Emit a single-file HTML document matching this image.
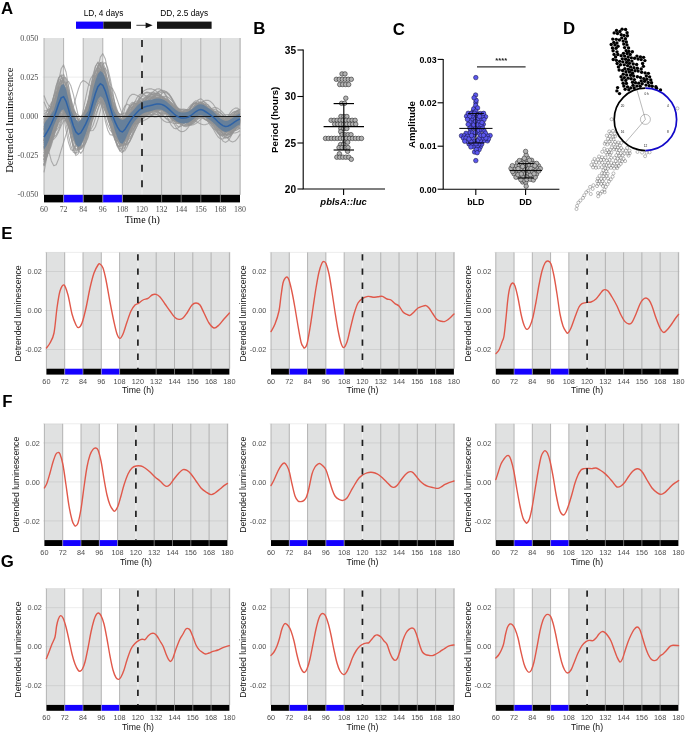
<!DOCTYPE html>
<html><head><meta charset="utf-8"><title>Figure</title>
<style>html,body{margin:0;padding:0;background:#fff}svg{display:block}</style></head>
<body>
<svg width="685" height="732" viewBox="0 0 685 732">
<rect width="685" height="732" fill="#fff"/>
<text x="1" y="13.7" font-size="16.8" text-anchor="start" font-weight="bold" font-family="Liberation Sans, Arial, sans-serif" fill="#000">A</text>
<text x="253.3" y="34.2" font-size="16.8" text-anchor="start" font-weight="bold" font-family="Liberation Sans, Arial, sans-serif" fill="#000">B</text>
<text x="392.8" y="34.6" font-size="16.8" text-anchor="start" font-weight="bold" font-family="Liberation Sans, Arial, sans-serif" fill="#000">C</text>
<text x="562.9" y="34.4" font-size="16.8" text-anchor="start" font-weight="bold" font-family="Liberation Sans, Arial, sans-serif" fill="#000">D</text>
<text x="1.2" y="238.5" font-size="16.8" text-anchor="start" font-weight="bold" font-family="Liberation Sans, Arial, sans-serif" fill="#000">E</text>
<text x="2.2" y="407" font-size="16.8" text-anchor="start" font-weight="bold" font-family="Liberation Sans, Arial, sans-serif" fill="#000">F</text>
<text x="0.7" y="566.8" font-size="16.8" text-anchor="start" font-weight="bold" font-family="Liberation Sans, Arial, sans-serif" fill="#000">G</text>
<rect x="76" y="21.6" width="27.4" height="7.2" fill="#1400ff"/>
<rect x="103.4" y="21.6" width="27.6" height="7.2" fill="#161616"/>
<rect x="157" y="21.6" width="54.6" height="7.2" fill="#161616"/>
<line x1="136.4" x2="147" y1="25.3" y2="25.3" stroke="#111" stroke-width="0.8"/>
<path d="M145.6 22.4 L152.6 25.3 L145.6 28.2 Z" fill="#111"/>
<text x="103.5" y="16" font-size="8.3" text-anchor="middle" font-family="Liberation Sans, Arial, sans-serif" fill="#000">LD, 4 days</text>
<text x="184.2" y="16" font-size="8.3" text-anchor="middle" font-family="Liberation Sans, Arial, sans-serif" fill="#000">DD, 2.5 days</text>
<rect x="44" y="38" width="19.6" height="156.8" fill="#e0e1e1"/>
<rect x="83.2" y="38" width="19.6" height="156.8" fill="#e0e1e1"/>
<rect x="122.4" y="38" width="118.6" height="156.8" fill="#e0e1e1"/>
<line x1="42.6" x2="241" y1="77.1" y2="77.1" stroke="#000" stroke-opacity="0.075" stroke-width="1"/>
<line x1="42.6" x2="241" y1="155.3" y2="155.3" stroke="#000" stroke-opacity="0.075" stroke-width="1"/>
<line x1="44" x2="44" y1="38" y2="194.8" stroke="#adadad" stroke-width="0.9"/>
<line x1="63.6" x2="63.6" y1="38" y2="194.8" stroke="#adadad" stroke-width="0.9"/>
<line x1="83.2" x2="83.2" y1="38" y2="194.8" stroke="#adadad" stroke-width="0.9"/>
<line x1="102.8" x2="102.8" y1="38" y2="194.8" stroke="#adadad" stroke-width="0.9"/>
<line x1="122.4" x2="122.4" y1="38" y2="194.8" stroke="#adadad" stroke-width="0.9"/>
<line x1="142" x2="142" y1="38" y2="194.8" stroke="#efefef" stroke-width="1"/>
<line x1="161.6" x2="161.6" y1="38" y2="194.8" stroke="#adadad" stroke-width="0.9"/>
<line x1="181.2" x2="181.2" y1="38" y2="194.8" stroke="#adadad" stroke-width="0.9"/>
<line x1="200.8" x2="200.8" y1="38" y2="194.8" stroke="#adadad" stroke-width="0.9"/>
<line x1="220.4" x2="220.4" y1="38" y2="194.8" stroke="#adadad" stroke-width="0.9"/>
<line x1="240" x2="240" y1="38" y2="194.8" stroke="#adadad" stroke-width="0.9"/>
<rect x="44" y="194.8" width="19.6" height="7.6" fill="#000"/>
<rect x="63.6" y="194.8" width="19.6" height="7.6" fill="#1400ff"/>
<rect x="83.2" y="194.8" width="19.6" height="7.6" fill="#000"/>
<rect x="102.8" y="194.8" width="19.6" height="7.6" fill="#1400ff"/>
<rect x="122.4" y="194.8" width="117.6" height="7.6" fill="#000"/>
<line x1="63.6" x2="63.6" y1="194.8" y2="202.4" stroke="#c8c8c8" stroke-width="0.55"/>
<line x1="83.2" x2="83.2" y1="194.8" y2="202.4" stroke="#c8c8c8" stroke-width="0.55"/>
<line x1="102.8" x2="102.8" y1="194.8" y2="202.4" stroke="#c8c8c8" stroke-width="0.55"/>
<line x1="122.4" x2="122.4" y1="194.8" y2="202.4" stroke="#c8c8c8" stroke-width="0.55"/>
<line x1="161.6" x2="161.6" y1="194.8" y2="202.4" stroke="#c8c8c8" stroke-width="0.55"/>
<line x1="181.2" x2="181.2" y1="194.8" y2="202.4" stroke="#c8c8c8" stroke-width="0.55"/>
<line x1="200.8" x2="200.8" y1="194.8" y2="202.4" stroke="#c8c8c8" stroke-width="0.55"/>
<line x1="220.4" x2="220.4" y1="194.8" y2="202.4" stroke="#c8c8c8" stroke-width="0.55"/>
<g fill="none" stroke="#949494" stroke-width="1.1" stroke-opacity="0.72" stroke-linejoin="round">
<polyline points="44,138.41 46.45,131.2 48.9,125.27 51.35,120.48 53.8,116.29 56.25,111.79 58.7,106.77 61.15,102.02 63.6,99.9 66.05,102.35 68.5,107.38 70.95,113.2 73.4,118.96 75.85,124 78.3,127.58 80.75,129.02 83.2,128.99 85.65,128.96 88.1,127.78 90.55,123.31 93,115.14 95.45,104.78 97.9,94.25 100.35,85.66 102.8,81.32 105.25,82.01 107.7,86.98 110.15,95.11 112.6,105.13 115.05,115.41 117.5,124.81 119.95,132.45 122.4,136.45 124.85,135.34 127.3,130.55 129.75,124.52 132.2,118.6 134.65,113.51 137.1,109.78 139.55,107.62 142,106.92 144.45,107.37 146.9,108.3 149.35,108.94 151.8,108.63 154.25,107.18 156.7,104.92 159.15,102.44 161.6,100.49 164.05,99.73 166.5,100.53 168.95,103.03 171.4,107.01 173.85,111.8 176.3,116.49 178.75,120.15 181.2,122.18 183.65,122.41 186.1,120.98 188.55,118.16 191,114.33 193.45,110.2 195.9,106.87 198.35,105.27 200.8,105.86 203.25,108.63 205.7,112.71 208.15,116.82 210.6,120.15 213.05,122.56 215.5,124.06 217.95,124.66 220.4,124.58 222.85,124.07 225.3,123.3 227.75,122.33 230.2,121.52 232.65,121.06 235.1,120.92 237.55,120.93 240,120.96"/>
<polyline points="44,143 46.45,138.83 48.9,134.31 51.35,129.13 53.8,123.02 56.25,116.09 58.7,109.36 61.15,104.71 63.6,104.48 66.05,107.97 68.5,113.02 70.95,118.22 73.4,122.39 75.85,124.49 78.3,123.79 80.75,120.45 83.2,116.31 85.65,112.04 88.1,106.82 90.55,100.3 93,93.67 95.45,88.31 97.9,85.35 100.35,85.8 102.8,89.98 105.25,96.74 107.7,104.75 110.15,112.95 112.6,120.4 115.05,126.58 117.5,131.56 119.95,134.86 122.4,135.34 124.85,133.35 127.3,130.41 129.75,127.32 132.2,124.09 134.65,120.71 137.1,117.36 139.55,114.29 142,111.73 144.45,109.73 146.9,108.07 149.35,106.49 151.8,104.84 154.25,103.3 156.7,102.09 159.15,101.44 161.6,101.5 164.05,102.26 166.5,103.64 168.95,105.57 171.4,107.79 173.85,110.01 176.3,111.91 178.75,113.29 181.2,114.2 183.65,114.72 186.1,114.85 188.55,114.43 191,113.38 193.45,112.07 195.9,111.04 198.35,110.74 200.8,111.48 203.25,113.19 205.7,115.27 208.15,117.32 210.6,119.44 213.05,121.8 215.5,124.27 217.95,126.6 220.4,128.52 222.85,129.68 225.3,129.73 227.75,128.7 230.2,126.94 232.65,124.77 235.1,122.54 237.55,120.6 240,119.29"/>
<polyline points="44,118.56 46.45,120.32 48.9,121.53 51.35,121.55 53.8,119.94 56.25,116.6 58.7,112.22 61.15,108.2 63.6,106.68 66.05,108.89 68.5,113.79 70.95,120.15 73.4,126.73 75.85,132.16 78.3,135.09 80.75,134.55 83.2,130.88 85.65,125.13 88.1,117.46 90.55,108.08 93,98.26 95.45,89.85 97.9,84.45 100.35,83.12 102.8,86.39 105.25,93.45 107.7,102.69 110.15,112.42 112.6,121.21 115.05,127.93 117.5,132.27 119.95,134.34 122.4,133.91 124.85,131.12 127.3,127.32 129.75,123.78 132.2,120.81 134.65,118.22 137.1,115.77 139.55,113.33 142,110.88 144.45,108.51 146.9,106.18 149.35,103.91 151.8,101.77 154.25,100.11 156.7,99.35 159.15,99.82 161.6,101.62 164.05,104.53 166.5,108.12 168.95,111.89 171.4,115.32 173.85,117.91 176.3,119.38 178.75,119.65 181.2,119.04 183.65,118.05 186.1,117.15 188.55,116.52 191,116.12 193.45,115.88 195.9,115.9 198.35,116.16 200.8,116.53 203.25,116.85 205.7,116.67 208.15,115.62 210.6,113.99 213.05,112.45 215.5,111.61 217.95,111.76 220.4,113.02 222.85,115.19 225.3,117.77 227.75,120.19 230.2,122.2 232.65,123.58 235.1,124.24 237.55,124.27 240,123.95"/>
<polyline points="44,130.89 46.45,129.79 48.9,128.06 51.35,125.38 53.8,121.47 56.25,116.18 58.7,110.34 61.15,105.55 63.6,104.56 66.05,108.26 68.5,114.36 70.95,121.05 73.4,127 75.85,131.01 78.3,132.14 80.75,129.96 83.2,125.94 85.65,121.69 88.1,116.62 90.55,109.88 93,102.16 95.45,95.01 97.9,89.76 100.35,87.54 102.8,89.2 105.25,94.01 107.7,100.52 110.15,107.5 112.6,113.97 115.05,119.16 117.5,123.12 119.95,125.83 122.4,126.23 124.85,123.96 127.3,120.58 129.75,117.55 132.2,115.02 134.65,112.93 137.1,111.21 139.55,109.94 142,109.21 144.45,109.05 146.9,109.25 149.35,109.54 151.8,109.65 154.25,109.57 156.7,109.47 159.15,109.51 161.6,109.84 164.05,110.48 166.5,111.34 168.95,112.38 171.4,113.46 173.85,114.34 176.3,114.79 178.75,114.63 181.2,113.91 183.65,112.83 186.1,111.53 188.55,109.99 191,108.12 193.45,106.16 195.9,104.67 198.35,104.14 200.8,104.91 203.25,107.1 205.7,110.19 208.15,113.57 210.6,117.1 213.05,120.86 215.5,124.74 217.95,128.44 220.4,131.62 222.85,133.9 225.3,134.85 227.75,134.3 230.2,132.51 232.65,129.83 235.1,126.64 237.55,123.34 240,120.34"/>
<polyline points="44,150.21 46.45,142.91 48.9,135.74 51.35,128.58 53.8,121.3 56.25,114.04 58.7,107.71 61.15,103.87 63.6,104.64 66.05,109.38 68.5,115.8 70.95,122.29 73.4,127.5 75.85,130.3 78.3,129.89 80.75,126.32 83.2,121.34 85.65,115.93 88.1,109.56 90.55,102.05 93,94.59 95.45,88.62 97.9,85.26 100.35,85.42 102.8,89.41 105.25,96.06 107.7,103.94 110.15,111.87 112.6,118.86 115.05,124.3 117.5,128.27 119.95,130.51 122.4,130.11 124.85,127.45 127.3,124.15 129.75,121.21 132.2,118.72 134.65,116.59 137.1,114.84 139.55,113.5 142,112.66 144.45,112.26 146.9,111.98 149.35,111.46 151.8,110.43 154.25,109.01 156.7,107.42 159.15,105.96 161.6,104.9 164.05,104.37 166.5,104.47 168.95,105.23 171.4,106.56 173.85,108.2 176.3,109.84 178.75,111.22 181.2,112.31 183.65,113.1 186.1,113.47 188.55,113.19 191,112.07 193.45,110.45 195.9,108.92 198.35,108.01 200.8,108.17 203.25,109.5 205.7,111.5 208.15,113.81 210.6,116.54 213.05,119.87 215.5,123.62 217.95,127.42 220.4,130.86 222.85,133.41 225.3,134.55 227.75,134.16 230.2,132.5 232.65,129.92 235.1,126.82 237.55,123.65 240,120.93"/>
<polyline points="44,123.21 46.45,120.95 48.9,119.01 51.35,116.68 53.8,113.38 56.25,109.17 58.7,105.15 61.15,103.56 63.6,106.8 66.05,113.64 68.5,121.88 70.95,129.99 73.4,136.64 75.85,140.56 78.3,140.82 80.75,137.69 83.2,133.07 85.65,127.29 88.1,119.44 90.55,109.51 93,99.17 95.45,90.29 97.9,84.42 100.35,83 102.8,86.4 105.25,93.38 107.7,102.45 110.15,112.25 112.6,121.41 115.05,129.02 117.5,134.71 119.95,137.4 122.4,135.7 124.85,130.34 127.3,123.28 129.75,115.78 132.2,108.52 134.65,102.2 137.1,97.44 139.55,94.58 142,93.74 144.45,94.72 146.9,97.12 149.35,100.44 151.8,104.23 154.25,108.24 156.7,112.19 159.15,115.81 161.6,118.84 164.05,121.01 166.5,122.18 168.95,122.38 171.4,121.66 173.85,120.15 176.3,118.01 178.75,115.58 181.2,113.33 183.65,111.62 186.1,110.56 188.55,109.98 191,109.66 193.45,109.73 195.9,110.34 198.35,111.55 200.8,113.34 203.25,115.32 205.7,116.86 208.15,117.64 210.6,117.97 213.05,118.19 215.5,118.43 217.95,118.72 220.4,119.02 222.85,119.16 225.3,118.89 227.75,118.29 230.2,117.6 232.65,117 235.1,116.64 237.55,116.7 240,117.4"/>
<polyline points="44,131.35 46.45,128.19 48.9,124.19 51.35,119.06 53.8,112.65 56.25,105.76 58.7,100.04 61.15,98.39 63.6,101.98 66.05,108.43 68.5,115.77 70.95,122.54 73.4,127.48 75.85,129.52 78.3,128.12 80.75,124.7 83.2,121.04 85.65,116.58 88.1,110.34 90.55,102.95 93,96 95.45,90.91 97.9,88.86 100.35,90.81 102.8,96.07 105.25,103.12 107.7,110.62 110.15,117.55 112.6,123.05 115.05,127.12 117.5,129.8 119.95,130.02 122.4,127.29 124.85,123.21 127.3,119.41 129.75,116.15 132.2,113.4 134.65,111.12 137.1,109.37 139.55,108.19 142,107.59 144.45,107.34 146.9,107.2 149.35,106.9 151.8,106.48 154.25,106.1 156.7,105.96 159.15,106.24 161.6,106.98 164.05,108.12 166.5,109.64 168.95,111.4 171.4,113.16 173.85,114.67 176.3,115.71 178.75,116.26 181.2,116.43 183.65,116.31 186.1,115.79 188.55,114.75 191,113.31 193.45,111.95 195.9,111.12 198.35,111.14 200.8,112.15 203.25,113.75 205.7,115.38 208.15,116.96 210.6,118.67 213.05,120.53 215.5,122.36 217.95,123.95 220.4,125.04 222.85,125.31 225.3,124.61 227.75,123.23 230.2,121.48 232.65,119.71 235.1,118.22 237.55,117.33 240,117.32"/>
<polyline points="44,139.04 46.45,133.9 48.9,128.71 51.35,123.17 53.8,116.99 56.25,109.91 58.7,102.48 61.15,96.22 63.6,93.96 66.05,97.89 68.5,105.79 70.95,115.12 73.4,124.1 75.85,131.19 78.3,135.04 80.75,134.79 83.2,131.36 85.65,127.03 88.1,121.78 90.55,114.49 93,105.4 95.45,96.28 97.9,88.9 100.35,84.68 102.8,84.91 105.25,89.42 107.7,96.64 110.15,105.01 112.6,113.35 115.05,120.56 117.5,126.36 119.95,130.85 122.4,133.01 124.85,131.68 127.3,128.08 129.75,124.08 132.2,120.24 134.65,116.49 137.1,112.84 139.55,109.5 142,106.71 144.45,104.66 146.9,103.23 149.35,102.15 151.8,101.11 154.25,100.05 156.7,99.25 159.15,98.98 161.6,99.5 164.05,100.91 166.5,103.11 168.95,105.97 171.4,109.31 173.85,112.75 176.3,115.85 178.75,118.22 181.2,119.69 183.65,120.35 186.1,120.31 188.55,119.5 191,117.76 193.45,115.13 195.9,112.29 198.35,109.95 200.8,108.66 203.25,108.81 205.7,110.07 208.15,111.74 210.6,113.54 213.05,115.72 215.5,118.42 217.95,121.37 220.4,124.27 222.85,126.72 225.3,128.22 227.75,128.38 230.2,127.41 232.65,125.69 235.1,123.62 237.55,121.61 240,120.06"/>
<polyline points="44,164.61 46.45,155.84 48.9,147.35 51.35,138.46 53.8,128.55 56.25,117.03 58.7,104.35 61.15,92.78 63.6,86.53 66.05,90.16 68.5,101.2 70.95,115.15 73.4,129 75.85,140.21 78.3,146.53 80.75,146.4 83.2,140.57 85.65,132.94 88.1,124.33 90.55,112.89 93,98.26 95.45,83.16 97.9,70.53 100.35,62.76 102.8,62 105.25,68.65 107.7,80.17 110.15,93.91 112.6,107.76 115.05,119.87 117.5,129.41 119.95,136.62 122.4,140.25 124.85,138.34 127.3,132.49 129.75,126.14 132.2,120.82 134.65,116.6 137.1,113.45 139.55,111.31 142,110.02 144.45,109.4 146.9,109.18 149.35,109.08 151.8,108.87 154.25,108.48 156.7,108.07 159.15,107.8 161.6,107.87 164.05,108.35 166.5,109.21 168.95,110.41 171.4,111.88 173.85,113.42 176.3,114.81 178.75,115.83 181.2,116.36 183.65,116.48 186.1,116.27 188.55,115.73 191,114.77 193.45,113.36 195.9,111.84 198.35,110.67 200.8,110.15 203.25,110.55 205.7,111.73 208.15,113.24 210.6,114.8 213.05,116.52 215.5,118.49 217.95,120.59 220.4,122.6 222.85,124.3 225.3,125.4 227.75,125.63 230.2,125.06 232.65,123.93 235.1,122.5 237.55,121.02 240,119.75"/>
<polyline points="44,140.6 46.45,130.36 48.9,121.85 51.35,114.83 53.8,108.86 56.25,104.05 58.7,101.42 61.15,103.17 63.6,111.36 66.05,123.36 68.5,135.69 70.95,145.97 73.4,152.33 75.85,153.37 78.3,148.38 80.75,138.53 83.2,126.99 85.65,114.81 88.1,101.45 90.55,87.42 93,74.97 95.45,66.25 97.9,62.77 100.35,65.75 102.8,74.88 105.25,87.95 107.7,102.63 110.15,116.99 112.6,129.26 115.05,138.56 117.5,144.79 119.95,146.98 122.4,143.99 124.85,137.31 127.3,129.59 129.75,122.29 132.2,115.98 134.65,111.08 137.1,107.83 139.55,106.18 142,105.85 144.45,106.4 146.9,107.3 149.35,108.07 151.8,108.39 154.25,108.25 156.7,107.71 159.15,106.95 161.6,106.16 164.05,105.55 166.5,105.34 168.95,105.76 171.4,106.91 173.85,108.73 176.3,111.1 178.75,113.85 181.2,116.87 183.65,119.93 186.1,122.66 188.55,124.56 191,125.25 193.45,124.81 195.9,123.49 198.35,121.58 200.8,119.4 203.25,117.05 205.7,114.41 208.15,111.65 210.6,109.3 213.05,107.88 215.5,107.55 217.95,108.36 220.4,110.18 222.85,112.69 225.3,115.46 227.75,118.28 230.2,121.05 232.65,123.57 235.1,125.72 237.55,127.37 240,128.52"/>
<polyline points="44,137.09 46.45,128.39 48.9,120.36 51.35,112.66 53.8,104.9 56.25,97.26 58.7,91.19 61.15,89.47 63.6,95.33 66.05,106.93 68.5,120.53 70.95,133.56 73.4,143.9 75.85,149.72 78.3,149.79 80.75,144.56 83.2,137.08 85.65,128.42 88.1,117.53 90.55,104.27 93,90.86 95.45,79.74 97.9,72.84 100.35,71.83 102.8,77.12 105.25,86.76 107.7,98.53 110.15,110.62 112.6,121.36 115.05,129.8 117.5,135.93 119.95,138.83 122.4,136.86 124.85,131.02 127.3,124.04 129.75,117.46 132.2,111.68 134.65,107.02 137.1,103.72 139.55,101.84 142,101.26 144.45,101.73 146.9,102.87 149.35,104.4 151.8,106.1 154.25,107.96 156.7,109.97 159.15,112.1 161.6,114.3 164.05,116.37 166.5,118.17 168.95,119.6 171.4,120.5 173.85,120.74 176.3,120.23 178.75,119.03 181.2,117.37 183.65,115.55 186.1,113.71 188.55,111.87 191,110.07 193.45,108.62 195.9,107.89 198.35,108.13 200.8,109.43 203.25,111.55 205.7,113.87 208.15,115.96 210.6,117.81 213.05,119.48 215.5,120.85 217.95,121.8 220.4,122.21 222.85,121.96 225.3,120.95 227.75,119.39 230.2,117.69 232.65,116.21 235.1,115.27 237.55,115.12 240,115.98"/>
<polyline points="44,128.11 46.45,129.62 48.9,130.41 51.35,129.63 53.8,126.55 56.25,120.69 58.7,112.47 61.15,103.63 63.6,97.27 66.05,96.8 68.5,101.35 70.95,108.7 73.4,117.25 75.85,125.4 78.3,131.48 80.75,134.03 83.2,132.89 85.65,129.87 88.1,125.11 90.55,117.38 93,106.66 95.45,94.96 97.9,84.64 100.35,77.74 102.8,76.06 105.25,80.19 107.7,88.66 110.15,99.65 112.6,111.44 115.05,122.3 117.5,131.07 119.95,137.38 122.4,140.14 124.85,138.1 127.3,132.43 129.75,125.67 132.2,119.41 134.65,114.25 137.1,110.53 139.55,108.34 142,107.55 144.45,107.88 146.9,108.86 149.35,109.93 151.8,110.55 154.25,110.39 156.7,109.49 159.15,108.07 161.6,106.5 164.05,105.21 166.5,104.53 168.95,104.77 171.4,106.11 173.85,108.46 176.3,111.5 178.75,114.77 181.2,117.79 183.65,120.21 186.1,121.76 188.55,122.14 191,121.15 193.45,118.82 195.9,115.74 198.35,112.69 200.8,110.37 203.25,109.39 205.7,109.86 208.15,111.39 210.6,113.63 213.05,116.43 215.5,119.58 217.95,122.58 220.4,124.94 222.85,126.24 225.3,126.19 227.75,124.68 230.2,122.06 232.65,118.97 235.1,116.06 237.55,113.9 240,112.92"/>
<polyline points="44,159.43 46.45,148.22 48.9,137.93 51.35,128.95 53.8,121.49 56.25,115.42 58.7,110.38 61.15,106.62 63.6,104.96 66.05,107.3 68.5,113.63 70.95,120.92 73.4,127.02 75.85,130.74 78.3,131.41 80.75,128.84 83.2,123.44 85.65,117.5 88.1,113.1 90.55,109.61 93,105.72 95.45,101.49 97.9,97.68 100.35,94.92 102.8,93.8 105.25,95.03 107.7,98.01 110.15,101.79 112.6,105.86 115.05,110.07 117.5,114.34 119.95,119.12 122.4,124.34 124.85,128.44 127.3,130.2 129.75,130.28 132.2,129.31 134.65,126.97 137.1,123.2 139.55,118.44 142,113.36 144.45,108.67 146.9,104.93 149.35,102.38 151.8,101.07 154.25,100.88 156.7,101.7 159.15,103.37 161.6,105.57 164.05,107.95 166.5,110.05 168.95,111.56 171.4,112.39 173.85,112.61 176.3,112.38 178.75,111.97 181.2,111.64 183.65,111.78 186.1,112.65 188.55,114.21 191,116.04 193.45,117.5 195.9,118.22 198.35,118.18 200.8,117.52 203.25,116.5 205.7,115.45 208.15,114.34 210.6,113.21 213.05,112.57 215.5,113.07 217.95,114.94 220.4,117.97 222.85,121.69 225.3,125.34 227.75,128.04 230.2,129.13 232.65,128.49 235.1,126.28 237.55,122.93 240,119.1"/>
<polyline points="44,147.7 46.45,141.54 48.9,135.08 51.35,128.1 53.8,120.39 56.25,111.78 58.7,103.39 61.15,97.31 63.6,97.2 66.05,104.15 68.5,114.59 70.95,125.6 73.4,135.01 75.85,141 78.3,142.16 80.75,137.93 83.2,130.52 85.65,122.54 88.1,113.47 90.55,102.31 93,90.18 95.45,79.41 97.9,71.96 100.35,69.39 102.8,72.85 105.25,81.21 107.7,92.25 110.15,104.02 112.6,115.03 115.05,124.04 117.5,131.03 119.95,135.97 122.4,137.37 124.85,134.69 127.3,130.16 129.75,125.84 132.2,122.05 134.65,118.72 137.1,115.8 139.55,113.37 142,111.46 144.45,110.05 146.9,108.88 149.35,107.7 151.8,106.32 154.25,104.83 156.7,103.53 159.15,102.68 161.6,102.53 164.05,103.13 166.5,104.42 168.95,106.29 171.4,108.54 173.85,110.83 176.3,112.83 178.75,114.23 181.2,115.02 183.65,115.33 186.1,115.26 188.55,114.78 191,113.79 193.45,112.49 195.9,111.43 198.35,111.1 200.8,111.79 203.25,113.6 205.7,115.97 208.15,118.24 210.6,120.25 213.05,122.15 215.5,123.94 217.95,125.45 220.4,126.52 222.85,126.95 225.3,126.5 227.75,125.12 230.2,123.18 232.65,121.08 235.1,119.16 237.55,117.69 240,116.93"/>
<polyline points="44,140.13 46.45,135.87 48.9,129.11 51.35,120.34 53.8,110.3 56.25,100.1 58.7,91.71 61.15,87.66 63.6,90.68 66.05,99.69 68.5,111.42 70.95,123.29 73.4,133.03 75.85,138.8 78.3,139.45 80.75,135.18 83.2,128.53 85.65,121.11 88.1,112.75 90.55,103.61 93,95.32 95.45,89.46 97.9,86.99 100.35,88.47 102.8,93.67 105.25,100.75 107.7,107.89 110.15,113.9 112.6,118.12 115.05,120.59 117.5,122.21 119.95,123.23 122.4,122.91 124.85,121.71 127.3,121.1 129.75,121.38 132.2,121.67 134.65,121.16 137.1,119.49 139.55,116.75 142,113.35 144.45,109.69 146.9,106.08 149.35,102.86 151.8,100.38 154.25,99.13 156.7,99.43 159.15,101.34 161.6,104.62 164.05,108.69 166.5,112.89 168.95,116.61 171.4,119.31 173.85,120.62 176.3,120.47 178.75,119.06 181.2,116.98 183.65,114.85 186.1,113.11 188.55,111.87 191,111.07 193.45,110.77 195.9,111.06 198.35,111.88 200.8,113.11 203.25,114.46 205.7,115.39 208.15,115.69 210.6,115.79 213.05,116.23 215.5,117.32 217.95,119.13 220.4,121.5 222.85,123.99 225.3,125.98 227.75,127.04 230.2,127.02 232.65,125.85 235.1,123.68 237.55,120.86 240,118"/>
<polyline points="44,121.82 46.45,119.25 48.9,116.65 51.35,113.99 53.8,111 56.25,107.69 58.7,104.93 61.15,104.59 63.6,108.93 66.05,116.4 68.5,124.18 70.95,130.58 73.4,134.45 75.85,134.99 78.3,131.85 80.75,125.85 83.2,119.61 85.65,113.96 88.1,107.73 90.55,100.28 93,92.73 95.45,86.38 97.9,82.31 100.35,81.64 102.8,84.78 105.25,90.59 107.7,97.9 110.15,105.9 112.6,113.86 115.05,121.41 117.5,128.65 119.95,134.61 122.4,137.47 124.85,137.24 127.3,135.27 129.75,132.1 132.2,127.64 134.65,122.13 137.1,116.2 139.55,110.63 142,106.06 144.45,102.73 146.9,100.49 149.35,99.04 151.8,98.11 154.25,97.7 156.7,97.81 159.15,98.45 161.6,99.59 164.05,101.09 166.5,102.91 168.95,105.1 171.4,107.6 173.85,110.29 176.3,113.01 178.75,115.61 181.2,118.14 183.65,120.5 186.1,122.36 188.55,123.2 191,122.59 193.45,120.78 195.9,118.36 198.35,115.93 200.8,114.09 203.25,113.06 205.7,112.51 208.15,112.32 210.6,112.9 213.05,114.54 215.5,117.02 217.95,119.88 220.4,122.55 222.85,124.35 225.3,124.68 227.75,123.56 230.2,121.43 232.65,118.87 235.1,116.53 237.55,115.05 240,115.03"/>
<polyline points="44,129.61 46.45,125.93 48.9,123.29 51.35,121.14 53.8,118.87 56.25,116.27 58.7,113.9 61.15,113.23 63.6,116.02 66.05,121.1 68.5,126.34 70.95,130.45 73.4,132.47 75.85,131.7 78.3,127.8 80.75,121.48 83.2,114.88 85.65,108.81 88.1,102.72 90.55,96.52 93,91.38 95.45,88.44 97.9,88.48 100.35,92.07 102.8,99 105.25,107.72 107.7,116.65 110.15,124.55 112.6,130.44 115.05,133.88 117.5,135.13 119.95,133.92 122.4,129.68 124.85,123.4 127.3,117.06 129.75,111.76 132.2,107.82 134.65,105.34 137.1,104.24 139.55,104.33 142,105.35 144.45,106.98 146.9,108.87 149.35,110.71 151.8,112.29 154.25,113.58 156.7,114.57 159.15,115.31 161.6,115.84 164.05,116.13 166.5,116.19 168.95,116.07 171.4,115.73 173.85,115.16 176.3,114.33 178.75,113.3 181.2,112.26 183.65,111.4 186.1,110.78 188.55,110.37 191,110.14 193.45,110.27 195.9,110.98 198.35,112.39 200.8,114.5 203.25,117.04 205.7,119.49 208.15,121.47 210.6,122.95 213.05,123.94 215.5,124.36 217.95,124.13 220.4,123.26 222.85,121.71 225.3,119.54 227.75,117.01 230.2,114.57 232.65,112.58 235.1,111.35 237.55,111.13 240,112.04"/>
<polyline points="44,142.22 46.45,137.74 48.9,133.6 51.35,129.33 53.8,124.48 56.25,118.7 58.7,112 61.15,105.25 63.6,100.09 66.05,98.8 68.5,101.32 70.95,105.96 73.4,111.54 75.85,117.05 78.3,121.49 80.75,123.99 83.2,124.27 85.65,123.54 88.1,122.32 90.55,119.74 93,115.26 95.45,109.77 97.9,104.53 100.35,100.7 102.8,99.33 105.25,101.06 107.7,105.15 110.15,110.57 112.6,116.43 115.05,121.87 117.5,126.28 119.95,129.58 122.4,131.32 124.85,130.46 127.3,127.05 129.75,122.51 132.2,117.88 134.65,113.41 137.1,109.32 139.55,105.85 142,103.22 144.45,101.6 146.9,100.99 149.35,101.11 151.8,101.64 154.25,102.26 156.7,102.96 159.15,103.82 161.6,104.92 164.05,106.35 166.5,108.09 168.95,110.11 171.4,112.39 173.85,114.82 176.3,117.19 178.75,119.26 181.2,120.84 183.65,121.92 186.1,122.54 188.55,122.59 191,121.84 193.45,120.08 195.9,117.58 198.35,114.86 200.8,112.43 203.25,110.73 205.7,109.92 208.15,109.66 210.6,109.68 213.05,110.2 215.5,111.5 217.95,113.51 220.4,115.97 222.85,118.53 225.3,120.73 227.75,122.09 230.2,122.45 232.65,122.02 235.1,121.09 237.55,119.97 240,119.04"/>
<polyline points="44,134.22 46.45,129.1 48.9,123.9 51.35,117.96 53.8,111.02 56.25,104.11 58.7,99.44 61.15,100.31 63.6,106.21 66.05,114.05 68.5,121.82 70.95,127.99 73.4,131.27 75.85,130.78 78.3,126.65 80.75,121.47 83.2,116.65 85.65,111.06 88.1,103.88 90.55,96.41 93,90.4 95.45,87.23 97.9,88.04 100.35,93.31 102.8,101.4 105.25,110.36 107.7,118.67 110.15,125.15 112.6,129.19 115.05,131.2 117.5,131.04 119.95,127.54 122.4,121.32 124.85,114.87 127.3,109.82 129.75,106.32 132.2,104.25 134.65,103.42 137.1,103.61 139.55,104.61 142,106.12 144.45,107.72 146.9,108.97 149.35,109.59 151.8,109.63 154.25,109.3 156.7,108.84 159.15,108.5 161.6,108.37 164.05,108.54 166.5,109.1 168.95,110 171.4,111.07 173.85,112.1 176.3,112.93 178.75,113.64 181.2,114.29 183.65,114.81 186.1,114.91 188.55,114.29 191,113.18 193.45,112.06 195.9,111.35 198.35,111.4 200.8,112.21 203.25,113.25 205.7,114.12 208.15,115.07 210.6,116.47 213.05,118.38 215.5,120.65 217.95,123.06 220.4,125.22 222.85,126.67 225.3,127.26 227.75,127.18 230.2,126.63 232.65,125.79 235.1,124.88 237.55,124.14 240,123.88"/>
<polyline points="44,134.38 46.45,132.08 48.9,129.44 51.35,126.74 53.8,123.43 56.25,118.95 58.7,112.78 61.15,105.16 63.6,97.87 66.05,94.29 68.5,98.3 70.95,108.17 73.4,120.17 75.85,131.8 78.3,141.01 80.75,145.97 83.2,145.43 85.65,139.89 88.1,132.63 90.55,124.59 93,114.29 95.45,101.34 97.9,87.97 100.35,76.65 102.8,69.41 105.25,68.07 107.7,73.1 110.15,82.48 112.6,93.99 115.05,105.88 117.5,116.56 119.95,125.27 122.4,132.17 124.85,136.27 127.3,135.8 129.75,131.81 132.2,127.06 134.65,122.81 137.1,119.06 139.55,115.75 142,112.91 144.45,110.56 146.9,108.76 149.35,107.38 151.8,106.19 154.25,104.95 156.7,103.61 159.15,102.4 161.6,101.59 164.05,101.46 166.5,102.17 168.95,103.71 171.4,106 173.85,108.92 176.3,112.17 178.75,115.39 181.2,118.2 183.65,120.31 186.1,121.73 188.55,122.45 191,122.39 193.45,121.37 195.9,119.28 198.35,116.56 200.8,113.8 203.25,111.49 205.7,110.06 208.15,109.48 210.6,109.32 213.05,109.32 215.5,109.76 217.95,110.9 220.4,112.68 222.85,114.92 225.3,117.38 227.75,119.68 230.2,121.41 232.65,122.57 235.1,123.34 237.55,123.94 240,124.53"/>
<polyline points="44,145.78 46.45,142.97 48.9,139.41 51.35,134.4 53.8,127.38 56.25,118.09 58.7,107.5 61.15,97.71 63.6,92.36 66.05,93.43 68.5,98.65 70.95,105.97 73.4,113.86 75.85,120.85 78.3,125.57 80.75,127.05 83.2,126.44 85.65,125.49 88.1,123.27 90.55,118.32 93,111.01 95.45,103.13 97.9,96.38 100.35,92.31 102.8,92.3 105.25,95.98 107.7,101.84 110.15,108.57 112.6,115.11 115.05,120.52 117.5,124.72 119.95,127.71 122.4,128.19 124.85,125.34 127.3,120.87 129.75,116.63 132.2,113.02 134.65,110.02 137.1,107.65 139.55,105.99 142,105.12 144.45,105.07 146.9,105.59 149.35,106.34 151.8,106.98 154.25,107.41 156.7,107.72 159.15,108.02 161.6,108.47 164.05,109.11 166.5,109.9 168.95,110.89 171.4,112.08 173.85,113.32 176.3,114.48 178.75,115.37 181.2,116.03 183.65,116.54 186.1,116.93 188.55,116.95 191,116.29 193.45,114.9 195.9,113.18 198.35,111.54 200.8,110.36 203.25,109.91 205.7,109.91 208.15,110.01 210.6,110.32 213.05,111.31 215.5,113.21 217.95,115.96 220.4,119.32 222.85,122.91 225.3,126.15 227.75,128.57 230.2,130.08 232.65,130.7 235.1,130.48 237.55,129.53 240,128.1"/>
<polyline points="44,143.42 46.45,135.08 48.9,126.2 51.35,116.54 53.8,106.07 56.25,95.93 58.7,88.13 61.15,85.94 63.6,90.01 66.05,97.56 68.5,106.47 70.95,115.1 73.4,121.94 75.85,125.78 78.3,126.07 80.75,124.54 83.2,122.77 85.65,119.82 88.1,114.63 90.55,108.09 93,101.92 95.45,97.59 97.9,96.36 100.35,99.16 102.8,104.98 105.25,112.15 107.7,119.3 110.15,125.33 112.6,129.44 115.05,131.8 117.5,132.35 119.95,129.93 122.4,124.44 124.85,117.96 127.3,112.23 129.75,107.61 132.2,104.18 134.65,101.99 137.1,101.01 139.55,101.05 142,101.87 144.45,103.12 146.9,104.53 149.35,105.94 151.8,107.35 154.25,108.87 156.7,110.57 159.15,112.52 161.6,114.64 164.05,116.82 166.5,118.97 168.95,120.93 171.4,122.47 173.85,123.4 176.3,123.57 178.75,123 181.2,121.83 183.65,120.15 186.1,117.96 188.55,115.27 191,112.31 193.45,109.52 195.9,107.33 198.35,106.02 200.8,105.74 203.25,106.22 205.7,107.14 208.15,108.48 210.6,110.37 213.05,112.76 215.5,115.45 217.95,118.21 220.4,120.77 222.85,122.79 225.3,124.11 227.75,124.85 230.2,125.14 232.65,125.13 235.1,124.99 237.55,124.9 240,125.03"/>
<polyline points="44,141.42 46.45,137.57 48.9,133.2 51.35,127.56 53.8,120.06 56.25,110.48 58.7,99.96 61.15,90.77 63.6,86.41 66.05,87.68 68.5,92.44 70.95,99.24 73.4,106.85 75.85,113.98 78.3,119.4 80.75,122.39 83.2,124.26 85.65,125.77 88.1,125.4 90.55,121.8 93,115.67 95.45,108.63 97.9,102.29 100.35,98.26 102.8,97.86 105.25,100.59 107.7,105.42 110.15,111.42 112.6,117.75 115.05,123.63 117.5,128.98 119.95,133.21 122.4,134.53 124.85,132.32 127.3,128.03 129.75,122.9 132.2,117.09 134.65,110.86 137.1,104.73 139.55,99.35 142,95.32 144.45,92.97 146.9,92.14 149.35,92.49 151.8,93.59 154.25,95.38 156.7,97.85 159.15,100.91 161.6,104.44 164.05,108.1 166.5,111.54 168.95,114.55 171.4,116.92 173.85,118.4 176.3,118.85 178.75,118.28 181.2,117.08 183.65,115.71 186.1,114.4 188.55,113.05 191,111.36 193.45,109.55 195.9,108.17 198.35,107.65 200.8,108.26 203.25,109.95 205.7,111.89 208.15,113.4 210.6,114.7 213.05,116.36 215.5,118.6 217.95,121.37 220.4,124.48 222.85,127.52 225.3,129.88 227.75,131.23 230.2,131.72 232.65,131.48 235.1,130.65 237.55,129.39 240,128.01"/>
<polyline points="44,152.63 46.45,148.17 48.9,143.39 51.35,137.83 53.8,131.05 56.25,122.7 58.7,113.48 61.15,105.1 63.6,100.76 66.05,102.53 68.5,107.96 70.95,114.59 73.4,120.75 75.85,124.99 78.3,126.11 80.75,123.4 83.2,118.22 85.65,112.99 88.1,107.47 90.55,100.48 93,92.41 95.45,85.08 97.9,80.19 100.35,79.06 102.8,82.84 105.25,90.94 107.7,101.46 110.15,112.65 112.6,123.12 115.05,131.67 117.5,138.03 119.95,142.26 122.4,143.22 124.85,140.01 127.3,134.33 129.75,128.31 132.2,122.65 134.65,117.49 137.1,112.99 139.55,109.3 142,106.49 144.45,104.57 146.9,103.31 149.35,102.44 151.8,101.71 154.25,101.09 156.7,100.75 159.15,100.85 161.6,101.57 164.05,102.92 166.5,104.81 168.95,107.16 171.4,109.8 173.85,112.46 176.3,114.85 178.75,116.69 181.2,117.93 183.65,118.66 186.1,118.96 188.55,118.78 191,117.98 193.45,116.63 195.9,115.21 198.35,114.21 200.8,113.95 203.25,114.65 205.7,115.97 208.15,117.35 210.6,118.6 213.05,119.89 215.5,121.29 217.95,122.63 220.4,123.69 222.85,124.24 225.3,123.99 227.75,122.74 230.2,120.77 232.65,118.45 235.1,116.13 237.55,114.19 240,112.97"/>
<polyline points="44,127.73 46.45,123.47 48.9,118.9 51.35,113.86 53.8,108.18 56.25,102.12 58.7,96.78 61.15,94.06 63.6,96.04 66.05,101.61 68.5,108.75 70.95,116.06 73.4,122.36 75.85,126.61 78.3,128.04 80.75,126.93 83.2,124.98 85.65,122.5 88.1,118.61 90.55,113.1 93,107.14 95.45,102.05 97.9,98.86 100.35,98.54 102.8,101.28 105.25,105.95 107.7,111.4 110.15,116.72 112.6,121.14 115.05,124.33 117.5,126.51 119.95,127.17 122.4,125.41 124.85,121.87 127.3,118.11 129.75,114.8 132.2,111.92 134.65,109.4 137.1,107.29 139.55,105.69 142,104.7 144.45,104.28 146.9,104.2 149.35,104.18 151.8,104.12 154.25,104.15 156.7,104.47 159.15,105.26 161.6,106.6 164.05,108.43 166.5,110.64 168.95,113.13 171.4,115.61 173.85,117.79 176.3,119.35 178.75,120.15 181.2,120.27 183.65,119.83 186.1,118.84 188.55,117.18 191,114.84 193.45,112.28 195.9,110.09 198.35,108.73 200.8,108.52 203.25,109.34 205.7,110.63 208.15,112.06 210.6,113.79 213.05,115.95 215.5,118.39 217.95,120.86 220.4,123.07 222.85,124.64 225.3,125.23 227.75,124.91 230.2,123.97 232.65,122.73 235.1,121.49 237.55,120.57 240,120.27"/>
<polyline points="44,166.23 46.45,158.11 48.9,150.04 51.35,140.98 53.8,130.08 56.25,116.73 58.7,101.57 61.15,87.04 63.6,77.59 66.05,77.86 68.5,85.99 70.95,98.19 73.4,111.81 75.85,124.35 78.3,133.36 80.75,136.91 83.2,135.18 85.65,131.25 88.1,125.5 90.55,116.12 93,102.96 95.45,88.85 97.9,76.92 100.35,69.78 102.8,69.77 105.25,77.34 107.7,90.14 110.15,105.43 112.6,120.88 115.05,134.26 117.5,144.33 119.95,150.94 122.4,152.77 124.85,148.12 127.3,138.87 129.75,128.73 132.2,119.71 134.65,112.43 137.1,107.15 139.55,103.85 142,102.22 144.45,101.88 146.9,102.27 149.35,102.81 151.8,103 154.25,102.59 156.7,101.72 159.15,100.67 161.6,99.86 164.05,99.66 166.5,100.33 168.95,102.07 171.4,104.92 173.85,108.66 176.3,112.87 178.75,117.01 181.2,120.6 183.65,123.36 186.1,125.07 188.55,125.53 191,124.55 193.45,122.23 195.9,119.19 198.35,116.25 200.8,114.12 203.25,113.34 205.7,113.93 208.15,115.37 210.6,117.22 213.05,119.41 215.5,121.77 217.95,123.88 220.4,125.33 222.85,125.78 225.3,124.95 227.75,122.75 230.2,119.58 232.65,116.07 235.1,112.86 237.55,110.5 240,109.37"/>
<polyline points="44,126.85 46.45,125.17 48.9,123.05 51.35,120.92 53.8,119.02 56.25,117.37 58.7,115.94 61.15,115.24 63.6,116.28 66.05,120.54 68.5,126.79 70.95,132.39 73.4,135.73 75.85,135.89 78.3,132.47 80.75,125.68 83.2,116.62 85.65,108 88.1,101.36 90.55,96.31 93,92.31 95.45,89.83 97.9,89.32 100.35,90.79 102.8,94.18 105.25,99.13 107.7,104.25 110.15,108.39 112.6,111.1 115.05,112.41 117.5,112.89 119.95,113.69 122.4,115.21 124.85,116.66 127.3,117.95 129.75,119.78 132.2,122.02 134.65,123.55 137.1,123.56 139.55,121.95 142,119.19 144.45,115.94 146.9,112.66 149.35,109.44 151.8,106.28 154.25,103.23 156.7,100.72 159.15,99.13 161.6,98.69 164.05,99.43 166.5,101.01 168.95,103.06 171.4,105.3 173.85,107.35 176.3,108.89 178.75,109.72 181.2,109.88 183.65,109.8 186.1,109.87 188.55,110.2 191,110.48 193.45,110.27 195.9,109.7 198.35,109.16 200.8,108.98 203.25,109.4 205.7,110.38 208.15,111.24 210.6,111.71 213.05,112.48 215.5,114.39 217.95,117.72 220.4,122.35 222.85,127.89 225.3,133.49 227.75,138.07 230.2,140.97 232.65,142 235.1,141.08 237.55,138.38 240,134.34"/>
<polyline points="44,146.54 46.45,141.28 48.9,135.65 51.35,129.28 53.8,121.84 56.25,112.98 58.7,102.98 61.15,93.57 63.6,87.87 66.05,89.85 68.5,98.48 70.95,110.1 73.4,122.16 75.85,132.56 78.3,139.37 80.75,141.18 83.2,138 85.65,132.7 88.1,126.49 90.55,117.97 93,106.5 95.45,94.06 97.9,83.08 100.35,75.61 102.8,73.45 105.25,77.39 107.7,85.68 110.15,96.22 112.6,107.3 115.05,117.4 117.5,125.59 119.95,131.99 122.4,135.81 124.85,135.28 127.3,131.07 129.75,125.87 132.2,121.21 134.65,117.24 137.1,113.99 139.55,111.5 142,109.76 144.45,108.71 146.9,108.19 149.35,107.97 151.8,107.84 154.25,107.66 156.7,107.53 159.15,107.58 161.6,107.92 164.05,108.63 166.5,109.64 168.95,110.89 171.4,112.31 173.85,113.76 176.3,115.04 178.75,115.97 181.2,116.44 183.65,116.57 186.1,116.45 188.55,116.12 191,115.48 193.45,114.47 195.9,113.33 198.35,112.43 200.8,112.07 203.25,112.43 205.7,113.45 208.15,114.67 210.6,115.77 213.05,116.84 215.5,118.05 217.95,119.34 220.4,120.59 222.85,121.66 225.3,122.35 227.75,122.42 230.2,121.91 232.65,121.05 235.1,120.08 237.55,119.19 240,118.59"/>
<polyline points="44,156.8 46.45,148.19 48.9,139.36 51.35,129.61 53.8,118.33 56.25,105.23 58.7,91.87 61.15,81.36 63.6,79.04 66.05,86.88 68.5,100.5 70.95,116.22 73.4,131.22 75.85,142.95 78.3,149.23 80.75,148.82 83.2,144.14 85.65,138.17 88.1,129.73 90.55,117.03 93,101.36 95.45,85.79 97.9,73.16 100.35,65.88 102.8,65.96 105.25,72.35 107.7,82.52 110.15,94.22 112.6,105.7 115.05,115.46 117.5,123.52 119.95,129.78 122.4,132.18 124.85,129.79 127.3,125.44 129.75,121.78 132.2,119.04 134.65,116.95 137.1,115.31 139.55,114.06 142,113.17 144.45,112.57 146.9,111.89 149.35,110.77 151.8,108.94 154.25,106.53 156.7,103.93 159.15,101.55 161.6,99.85 164.05,99.08 166.5,99.33 168.95,100.7 171.4,103.06 173.85,106.08 176.3,109.35 178.75,112.39 181.2,115.01 183.65,117.13 186.1,118.63 188.55,119.19 191,118.53 193.45,116.77 195.9,114.6 198.35,112.72 200.8,111.69 203.25,111.91 205.7,112.99 208.15,114.37 210.6,116.04 213.05,118.29 215.5,121.09 217.95,124.09 220.4,126.86 222.85,128.88 225.3,129.57 227.75,128.64 230.2,126.39 232.65,123.27 235.1,119.82 237.55,116.6 240,114.2"/>
<polyline points="44,140.03 46.45,137.63 48.9,133.85 51.35,128.3 53.8,120.7 56.25,111.03 58.7,100.73 61.15,92.37 63.6,90.01 66.05,94.65 68.5,103.16 70.95,113.17 73.4,122.8 75.85,130.31 78.3,134.2 80.75,133.76 83.2,130.93 85.65,127.49 88.1,122.24 90.55,113.89 93,103.49 95.45,93.18 97.9,84.9 100.35,80.36 102.8,80.94 105.25,85.74 107.7,93.05 110.15,101.45 112.6,109.79 115.05,117.17 117.5,123.73 119.95,129.24 122.4,131.96 124.85,131.14 127.3,128.61 129.75,125.85 132.2,122.68 134.65,118.78 137.1,114.19 139.55,109.37 142,104.95 144.45,101.34 146.9,98.39 149.35,95.76 151.8,93.11 154.25,90.72 156.7,89.08 159.15,88.69 161.6,89.92 164.05,92.75 166.5,96.93 168.95,102.18 171.4,107.97 173.85,113.52 176.3,118.08 178.75,121.01 181.2,122.26 183.65,122.05 186.1,120.53 188.55,117.61 191,113.17 193.45,107.86 195.9,102.96 198.35,99.65 200.8,98.79 203.25,100.69 205.7,104.41 208.15,108.79 210.6,113.71 213.05,119.4 215.5,125.65 217.95,131.8 220.4,137.18 222.85,140.99 225.3,142.39 227.75,141.11 230.2,137.76 232.65,133.11 235.1,127.99 237.55,123.23 240,119.68"/>
<polyline points="44,144.37 46.45,139.76 48.9,135.28 51.35,130.5 53.8,124.98 56.25,118.43 58.7,111.44 61.15,105.46 63.6,103.16 66.05,106.04 68.5,111.93 70.95,118.76 73.4,125.06 75.85,129.55 78.3,131.14 80.75,129.2 83.2,124.9 85.65,120.16 88.1,114.7 90.55,107.63 93,99.45 95.45,91.81 97.9,86.26 100.35,84.04 102.8,86.2 105.25,92.28 107.7,100.72 110.15,110.1 112.6,119.2 115.05,126.96 117.5,133.05 119.95,137.36 122.4,138.73 124.85,136.31 127.3,131.44 129.75,125.86 132.2,120.11 134.65,114.44 137.1,109.14 139.55,104.56 142,101.04 144.45,98.77 146.9,97.61 149.35,97.29 151.8,97.47 154.25,98.09 156.7,99.26 159.15,101.09 161.6,103.62 164.05,106.72 166.5,110.14 168.95,113.63 171.4,116.93 173.85,119.65 176.3,121.44 178.75,122.04 181.2,121.5 183.65,120.09 186.1,118.07 188.55,115.53 191,112.43 193.45,109.02 195.9,105.99 198.35,104.03 200.8,103.56 203.25,104.82 205.7,107.3 208.15,110.21 210.6,113.27 213.05,116.65 215.5,120.32 217.95,123.97 220.4,127.28 222.85,129.84 225.3,131.22 227.75,131.12 230.2,129.84 232.65,127.79 235.1,125.38 237.55,123.03 240,121.15"/>
<polyline points="44,133.77 46.45,131.35 48.9,128.27 51.35,124.22 53.8,118.9 56.25,112.02 58.7,104.16 61.15,96.95 63.6,93.4 66.05,96.01 68.5,102.67 70.95,110.78 73.4,118.61 75.85,124.67 78.3,127.67 80.75,126.78 83.2,122.99 85.65,118.77 88.1,114.16 90.55,107.96 93,100.25 95.45,92.8 97.9,87.35 100.35,85.25 102.8,87.7 105.25,94.45 107.7,103.69 110.15,113.67 112.6,123.05 115.05,130.64 117.5,136.11 119.95,139.6 122.4,140.18 124.85,136.76 127.3,130.76 129.75,124.39 132.2,118.49 134.65,113.17 137.1,108.53 139.55,104.71 142,101.84 144.45,100 146.9,99.02 149.35,98.57 151.8,98.35 154.25,98.26 156.7,98.49 159.15,99.23 161.6,100.65 164.05,102.8 166.5,105.54 168.95,108.72 171.4,112.14 173.85,115.47 176.3,118.32 178.75,120.34 181.2,121.41 183.65,121.67 186.1,121.26 188.55,120.15 191,118.24 193.45,115.61 195.9,112.85 198.35,110.65 200.8,109.5 203.25,109.73 205.7,111.05 208.15,112.77 210.6,114.59 213.05,116.7 215.5,119.18 217.95,121.79 220.4,124.23 222.85,126.13 225.3,127.06 227.75,126.67 230.2,125.17 232.65,122.97 235.1,120.47 237.55,118.09 240,116.26"/>
<polyline points="44,137.71 46.45,135.74 48.9,133.12 51.35,129.6 53.8,124.95 56.25,118.94 58.7,111.62 61.15,104.09 63.6,98.32 66.05,97.27 68.5,101.13 70.95,107.41 73.4,114.36 75.85,120.6 78.3,124.88 80.75,126.25 83.2,124.45 85.65,121.31 88.1,118.1 90.55,113.94 93,108.03 95.45,101.37 97.9,95.53 100.35,91.8 102.8,91.32 105.25,94.75 107.7,101.01 110.15,108.55 112.6,116.1 115.05,122.65 117.5,127.48 119.95,130.75 122.4,132.27 124.85,130.92 127.3,126.77 129.75,121.73 132.2,117.18 134.65,113.3 137.1,110.07 139.55,107.5 142,105.64 144.45,104.54 146.9,104.17 149.35,104.28 151.8,104.62 154.25,104.94 156.7,105.32 159.15,105.88 161.6,106.78 164.05,108.1 166.5,109.81 168.95,111.78 171.4,113.91 173.85,116.02 176.3,117.81 178.75,119.02 181.2,119.48 183.65,119.23 186.1,118.44 188.55,117.19 191,115.45 193.45,113.16 195.9,110.65 198.35,108.47 200.8,107.11 203.25,106.91 205.7,107.93 208.15,109.71 210.6,111.74 213.05,114.04 215.5,116.72 217.95,119.68 220.4,122.64 222.85,125.31 225.3,127.33 227.75,128.31 230.2,128.15 232.65,127.09 235.1,125.45 237.55,123.52 240,121.65"/>
<polyline points="44,156.73 46.45,149.37 48.9,142.25 51.35,134.84 53.8,126.72 56.25,117.54 58.7,107.82 61.15,99.26 63.6,94.88 66.05,97.53 68.5,105.22 70.95,114.99 73.4,124.76 75.85,132.72 78.3,137.24 80.75,137.22 83.2,133.31 85.65,128.07 88.1,121.86 90.55,113.54 93,103.19 95.45,92.84 97.9,84.52 100.35,79.84 102.8,80.22 105.25,85.64 107.7,94.25 110.15,104.14 112.6,113.81 115.05,121.93 117.5,127.99 119.95,132.16 122.4,133.59 124.85,131.16 127.3,126.29 129.75,121.38 132.2,117.39 134.65,114.37 137.1,112.24 139.55,110.89 142,110.19 144.45,109.97 146.9,109.98 149.35,109.95 151.8,109.64 154.25,109.02 156.7,108.28 159.15,107.63 161.6,107.34 164.05,107.56 166.5,108.33 168.95,109.64 171.4,111.41 173.85,113.4 176.3,115.32 178.75,116.88 181.2,117.88 183.65,118.32 186.1,118.24 188.55,117.62 191,116.42 193.45,114.69 195.9,112.86 198.35,111.41 200.8,110.72 203.25,111.01 205.7,112.14 208.15,113.64 210.6,115.22 213.05,116.92 215.5,118.74 217.95,120.51 220.4,122.03 222.85,123.11 225.3,123.54 227.75,123.17 230.2,122.18 232.65,120.87 235.1,119.54 237.55,118.44 240,117.79"/>
<polyline points="44,134.42 46.45,130.8 48.9,127.29 51.35,123.56 53.8,119.28 56.25,114.06 58.7,107.91 61.15,101.96 63.6,98.36 66.05,100.19 68.5,106.96 70.95,115.78 73.4,124.65 75.85,131.98 78.3,136.37 80.75,136.79 83.2,133.21 85.65,127.89 88.1,122.08 90.55,114.85 93,105.62 95.45,95.82 97.9,87.33 100.35,81.71 102.8,80.3 105.25,83.77 107.7,90.81 110.15,99.7 112.6,109.05 115.05,117.62 117.5,124.62 119.95,130.11 122.4,133.59 124.85,133.66 127.3,130.58 129.75,126.37 132.2,122.34 134.65,118.65 137.1,115.32 139.55,112.47 142,110.17 144.45,108.5 146.9,107.4 149.35,106.66 151.8,106.08 154.25,105.53 156.7,105.13 159.15,105.05 161.6,105.43 164.05,106.39 166.5,107.86 168.95,109.74 171.4,111.93 173.85,114.21 176.3,116.28 178.75,117.87 181.2,118.79 183.65,119.09 186.1,118.84 188.55,118.1 191,116.8 193.45,114.9 195.9,112.72 198.35,110.77 200.8,109.49 203.25,109.17 205.7,109.87 208.15,111.15 210.6,112.64 213.05,114.4 215.5,116.55 217.95,118.97 220.4,121.44 222.85,123.69 225.3,125.39 227.75,126.2 230.2,126.05 232.65,125.17 235.1,123.82 237.55,122.27 240,120.78"/>
<polyline points="44,121.37 46.45,117.7 48.9,115.26 51.35,113.56 53.8,112.02 56.25,110.05 58.7,108.02 61.15,107.16 63.6,110.06 66.05,117.93 68.5,127.95 70.95,137.57 73.4,145.04 75.85,148.9 78.3,148.08 80.75,142.13 83.2,132.75 85.65,122.45 88.1,111.28 90.55,98.63 93,85.46 95.45,73.91 97.9,65.9 100.35,62.88 102.8,66.04 105.25,74.69 107.7,86.93 110.15,100.92 112.6,115.06 115.05,127.85 117.5,138.65 119.95,147.02 122.4,151.4 124.85,150.75 127.3,146.54 129.75,140.64 132.2,133.75 134.65,126.36 137.1,119.08 139.55,112.43 142,106.74 144.45,102.15 146.9,98.59 149.35,95.97 151.8,94.23 154.25,93.47 156.7,93.88 159.15,95.56 161.6,98.52 164.05,102.61 166.5,107.52 168.95,112.91 171.4,118.38 173.85,123.41 176.3,127.53 178.75,130.33 181.2,131.64 183.65,131.47 186.1,129.9 188.55,127.01 191,122.87 193.45,117.82 195.9,112.52 198.35,107.65 200.8,103.78 203.25,101.34 205.7,100.29 208.15,100.36 210.6,101.54 213.05,103.96 215.5,107.56 217.95,112.03 220.4,116.97 222.85,121.9 225.3,126.25 227.75,129.58 230.2,131.79 232.65,132.9 235.1,132.97 237.55,132.16 240,130.67"/>
<polyline points="44,164.36 46.45,157.09 48.9,150.41 51.35,143.68 53.8,136.24 56.25,127.5 58.7,117.31 61.15,107.11 63.6,99.66 66.05,99.21 68.5,105.68 70.95,115.24 73.4,125.22 75.85,133.52 78.3,138.3 80.75,138.22 83.2,133.05 85.65,125.72 88.1,118.2 90.55,109.27 93,97.96 95.45,85.98 97.9,75.76 100.35,69.34 102.8,68.43 105.25,74.02 107.7,84.35 110.15,97.05 112.6,110.13 115.05,121.91 117.5,131.21 119.95,138.09 122.4,142.05 124.85,141.33 127.3,136.27 129.75,129.74 132.2,123.79 134.65,118.8 137.1,114.87 139.55,111.99 142,110.07 144.45,108.94 146.9,108.42 149.35,108.24 151.8,108.18 154.25,108.11 156.7,108.06 159.15,108.12 161.6,108.39 164.05,108.92 166.5,109.68 168.95,110.62 171.4,111.7 173.85,112.81 176.3,113.82 178.75,114.58 181.2,115.01 183.65,115.19 186.1,115.24 188.55,115.21 191,115.05 193.45,114.69 195.9,114.28 198.35,114.11 200.8,114.41 203.25,115.31 205.7,116.76 208.15,118.34 210.6,119.7 213.05,120.79 215.5,121.71 217.95,122.4 220.4,122.77 222.85,122.71 225.3,122.1 227.75,120.81 230.2,118.93 232.65,116.76 235.1,114.62 237.55,112.8 240,111.57"/>
<polyline points="44,149.12 46.45,143.14 48.9,136.88 51.35,129.98 53.8,122.35 56.25,114.75 58.7,108.68 61.15,106.46 63.6,108.24 66.05,112.02 68.5,116.38 70.95,120.22 73.4,122.57 75.85,122.67 78.3,120.33 80.75,117.04 83.2,113.84 85.65,110.05 88.1,105.06 90.55,99.66 93,95.12 95.45,92.48 97.9,92.64 100.35,96.14 102.8,102.08 105.25,109.18 107.7,116.4 110.15,122.86 112.6,127.92 115.05,131.64 117.5,133.8 119.95,133.42 122.4,130.51 124.85,126.53 127.3,122.58 129.75,118.85 132.2,115.43 134.65,112.48 137.1,110.13 139.55,108.43 142,107.3 144.45,106.56 146.9,106.03 149.35,105.6 151.8,105.34 154.25,105.38 156.7,105.84 159.15,106.8 161.6,108.23 164.05,110.06 166.5,112.21 168.95,114.5 171.4,116.73 173.85,118.67 176.3,120.14 178.75,121.11 181.2,121.6 183.65,121.61 186.1,121.07 188.55,119.92 191,118.32 193.45,116.61 195.9,115.1 198.35,114.03 200.8,113.49 203.25,113.26 205.7,113.11 208.15,113.12 210.6,113.43 213.05,114.05 215.5,114.89 217.95,115.82 220.4,116.66 222.85,117.2 225.3,117.38 227.75,117.34 230.2,117.25 232.65,117.23 235.1,117.43 237.55,117.98 240,119.03"/>
<polyline points="44,139.84 46.45,135.77 48.9,131.98 51.35,128 53.8,123.41 56.25,118.19 58.7,113.23 61.15,110.29 63.6,111.52 66.05,116.03 68.5,121.7 70.95,127.1 73.4,131.11 75.85,132.71 78.3,131.25 80.75,126.99 83.2,121.81 85.65,116.37 88.1,109.93 90.55,102.26 93,94.62 95.45,88.43 97.9,84.8 100.35,84.76 102.8,88.57 105.25,95.07 107.7,102.95 110.15,111.13 112.6,118.66 115.05,124.98 117.5,130.11 119.95,133.47 122.4,133.95 124.85,131.98 127.3,129.05 129.75,125.94 132.2,122.71 134.65,119.47 137.1,116.39 139.55,113.66 142,111.41 144.45,109.59 146.9,108.04 149.35,106.63 151.8,105.29 154.25,104.18 156.7,103.47 159.15,103.33 161.6,103.86 164.05,105.04 166.5,106.8 168.95,109.05 171.4,111.57 173.85,114.12 176.3,116.44 178.75,118.32 181.2,119.77 183.65,120.76 186.1,121.26 188.55,121.13 191,120.3 193.45,119.01 195.9,117.64 198.35,116.5 200.8,115.82 203.25,115.59 205.7,115.51 208.15,115.36 210.6,115.31 213.05,115.52 215.5,115.97 217.95,116.56 220.4,117.16 222.85,117.57 225.3,117.59 227.75,117.24 230.2,116.73 232.65,116.25 235.1,115.98 237.55,116.09 240,116.73"/>
<polyline points="44,147.89 46.45,144.09 48.9,140.72 51.35,137.23 53.8,133.13 56.25,127.95 58.7,121.63 61.15,115.18 63.6,110.61 66.05,110.79 68.5,115.35 70.95,121.68 73.4,128.01 75.85,132.94 78.3,135.25 80.75,134.05 83.2,129.35 85.65,123.27 88.1,116.98 90.55,109.63 93,100.67 95.45,91.4 97.9,83.56 100.35,78.55 102.8,77.58 105.25,81.29 107.7,88.41 110.15,97.36 112.6,106.81 115.05,115.64 117.5,123.06 119.95,129.12 122.4,133.32 124.85,134.32 127.3,132.35 129.75,129.24 132.2,126.16 134.65,123.22 137.1,120.47 139.55,118 142,115.88 144.45,114.15 146.9,112.72 149.35,111.45 151.8,110.16 154.25,108.8 156.7,107.48 159.15,106.39 161.6,105.69 164.05,105.52 166.5,105.89 168.95,106.78 171.4,108.13 173.85,109.81 176.3,111.62 178.75,113.34 181.2,114.81 183.65,116.01 186.1,116.97 188.55,117.65 191,117.92 193.45,117.68 195.9,117.1 198.35,116.49 200.8,116.12 203.25,116.19 205.7,116.7 208.15,117.32 210.6,117.79 213.05,118.19 215.5,118.67 217.95,119.22 220.4,119.74 222.85,120.11 225.3,120.17 227.75,119.74 230.2,118.84 232.65,117.69 235.1,116.5 237.55,115.5 240,114.88"/>
<polyline points="44,136.1 46.45,129.1 48.9,122.07 51.35,114.74 53.8,106.88 56.25,99.13 58.7,93.02 61.15,91.37 63.6,95.94 66.05,104.25 68.5,113.79 70.95,122.78 73.4,129.68 75.85,133.18 78.3,132.55 80.75,128.94 83.2,124.62 85.65,119.4 88.1,112.29 90.55,103.74 93,95.57 95.45,89.48 97.9,86.8 100.35,88.68 102.8,94.67 105.25,103.04 107.7,112.16 110.15,120.75 112.6,127.68 115.05,132.68 117.5,135.81 119.95,136.01 122.4,132.45 124.85,126.71 127.3,120.8 129.75,115.41 132.2,110.69 134.65,106.79 137.1,103.85 139.55,101.96 142,101.1 144.45,101.01 146.9,101.38 149.35,101.88 151.8,102.45 154.25,103.19 156.7,104.23 159.15,105.7 161.6,107.58 164.05,109.75 166.5,112.11 168.95,114.52 171.4,116.73 173.85,118.47 176.3,119.51 178.75,119.85 181.2,119.65 183.65,119.06 186.1,118.03 188.55,116.46 191,114.43 193.45,112.42 195.9,110.95 198.35,110.36 200.8,110.85 203.25,112.05 205.7,113.35 208.15,114.57 210.6,115.9 213.05,117.46 215.5,119.09 217.95,120.62 220.4,121.8 222.85,122.35 225.3,122.07 227.75,121.19 230.2,120.09 232.65,119.06 235.1,118.41 237.55,118.39 240,119.26"/>
<polyline points="44,138.46 46.45,132.28 48.9,127.06 51.35,122.41 53.8,117.82 56.25,112.75 58.7,107.17 61.15,102.2 63.6,100.2 66.05,104.01 68.5,112.15 70.95,121.54 73.4,130.17 75.85,136.44 78.3,139.05 80.75,137.16 83.2,131.35 85.65,124.41 88.1,117.32 90.55,109.11 93,99.52 95.45,90.26 97.9,83.19 100.35,79.74 102.8,81.09 105.25,87.38 107.7,96.75 110.15,107.21 112.6,117.19 115.05,125.33 117.5,131.01 119.95,134.48 122.4,135.19 124.85,131.99 127.3,125.96 129.75,119.6 132.2,114.28 134.65,110.16 137.1,107.23 139.55,105.43 142,104.68 144.45,104.87 146.9,105.77 149.35,106.98 151.8,108.1 154.25,108.87 156.7,109.31 159.15,109.53 161.6,109.68 164.05,109.91 166.5,110.21 168.95,110.65 171.4,111.27 173.85,112.01 176.3,112.76 178.75,113.35 181.2,113.74 183.65,114.06 186.1,114.4 188.55,114.71 191,114.77 193.45,114.37 195.9,113.75 198.35,113.29 200.8,113.26 203.25,113.87 205.7,114.95 208.15,115.96 210.6,116.59 213.05,117.06 215.5,117.67 217.95,118.45 220.4,119.34 222.85,120.24 225.3,120.91 227.75,121.11 230.2,120.89 232.65,120.53 235.1,120.23 237.55,120.17 240,120.5"/>
<polyline points="44,129.51 46.45,125.03 48.9,120.94 51.35,117.19 53.8,113.65 56.25,110.17 58.7,107.15 61.15,105.44 63.6,106.59 66.05,110.8 68.5,116.25 70.95,121.56 73.4,125.71 75.85,127.91 78.3,127.63 80.75,124.78 83.2,120.62 85.65,116.43 88.1,112.02 90.55,107.02 93,102.02 95.45,98.05 97.9,95.93 100.35,96.23 102.8,99.32 105.25,104.42 107.7,110.37 110.15,116.15 112.6,121.03 115.05,124.47 117.5,126.56 119.95,127.43 122.4,126.51 124.85,123.75 127.3,120.33 129.75,117.34 132.2,114.9 134.65,112.89 137.1,111.21 139.55,109.87 142,108.96 144.45,108.52 146.9,108.31 149.35,108.01 151.8,107.31 154.25,106.27 156.7,105.11 159.15,104.13 161.6,103.62 164.05,103.73 166.5,104.52 168.95,106.02 171.4,108.14 173.85,110.6 176.3,113.08 178.75,115.22 181.2,116.93 183.65,118.18 186.1,118.89 188.55,118.82 191,117.75 193.45,115.82 195.9,113.61 198.35,111.7 200.8,110.56 203.25,110.5 205.7,111.17 208.15,112.14 210.6,113.48 213.05,115.49 215.5,118.15 217.95,121.2 220.4,124.28 222.85,126.92 225.3,128.57 227.75,128.93 230.2,128.16 232.65,126.52 235.1,124.33 237.55,121.96 240,119.85"/>
<polyline points="44,132.83 46.45,127.92 48.9,122.8 51.35,117.2 53.8,110.8 56.25,103.69 58.7,97.04 61.15,93.02 63.6,94.61 66.05,101.3 68.5,110.32 70.95,119.77 73.4,128.07 75.85,133.82 78.3,135.96 80.75,134.4 83.2,131.21 85.65,127.44 88.1,122.06 90.55,114.44 93,105.88 95.45,98.14 97.9,92.66 100.35,90.72 102.8,92.99 105.25,98.21 107.7,104.84 110.15,111.64 112.6,117.57 115.05,122.01 117.5,125.17 119.95,126.69 122.4,125.31 124.85,121.4 127.3,116.96 129.75,113.22 132.2,110.26 134.65,107.99 137.1,106.38 139.55,105.43 142,105.12 144.45,105.36 146.9,105.89 149.35,106.48 151.8,106.94 154.25,107.38 156.7,107.96 159.15,108.82 161.6,110.09 164.05,111.69 166.5,113.55 168.95,115.58 171.4,117.57 173.85,119.25 176.3,120.37 178.75,120.75 181.2,120.47 183.65,119.66 186.1,118.36 188.55,116.52 191,114.09 193.45,111.41 195.9,109.03 198.35,107.39 200.8,106.81 203.25,107.33 205.7,108.48 208.15,109.86 210.6,111.55 213.05,113.7 215.5,116.21 217.95,118.83 220.4,121.32 222.85,123.32 225.3,124.5 227.75,124.78 230.2,124.43 232.65,123.68 235.1,122.81 237.55,122.08 240,121.76"/>
<polyline points="44,126.36 46.45,122.26 48.9,118.53 51.35,114.81 53.8,110.81 56.25,106.79 58.7,103.68 61.15,103.27 63.6,106.97 66.05,113.23 68.5,120.32 70.95,127.05 73.4,132.37 75.85,135.39 78.3,135.54 80.75,133.45 83.2,130.64 85.65,127.1 88.1,122.07 90.55,115.7 93,109.17 95.45,103.64 97.9,100.06 100.35,99.26 102.8,101.14 105.25,104.65 107.7,108.77 110.15,112.76 112.6,115.96 115.05,118.24 117.5,119.76 119.95,119.92 122.4,118.04 124.85,115 127.3,112.09 129.75,109.69 132.2,107.67 134.65,105.92 137.1,104.44 139.55,103.37 142,102.9 144.45,102.98 146.9,103.36 149.35,103.73 151.8,104.01 154.25,104.38 156.7,105.05 159.15,106.24 161.6,108.01 164.05,110.24 166.5,112.84 168.95,115.63 171.4,118.29 173.85,120.46 176.3,121.8 178.75,122.21 181.2,121.83 183.65,120.82 186.1,119.13 188.55,116.63 191,113.41 193.45,110.1 195.9,107.38 198.35,105.77 200.8,105.62 203.25,106.61 205.7,108.03 208.15,109.63 210.6,111.64 213.05,114.18 215.5,117.03 217.95,119.88 220.4,122.4 222.85,124.11 225.3,124.67 227.75,124.29 230.2,123.34 232.65,122.2 235.1,121.24 237.55,120.83 240,121.31"/>
<polyline points="44,136.92 46.45,133.98 48.9,130.49 51.35,125.28 53.8,117.36 56.25,106.35 58.7,93.88 61.15,83.28 63.6,79.84 66.05,85 68.5,95.5 70.95,108.77 73.4,122.52 75.85,134.29 78.3,141.71 80.75,143.36 83.2,141.08 85.65,136.61 88.1,128.55 90.55,115.88 93,100.69 95.45,86.32 97.9,75.76 100.35,71.44 102.8,74.9 105.25,84.5 107.7,97.36 110.15,110.78 112.6,122.42 115.05,130.52 117.5,134.99 119.95,135.76 122.4,131.62 124.85,123.27 127.3,114.4 129.75,107.91 132.2,104.34 134.65,103.38 137.1,104.34 139.55,106.39 142,108.76 144.45,110.86 146.9,112.17 149.35,112.41 151.8,111.57 154.25,110.11 156.7,108.66 159.15,107.83 161.6,108.07 164.05,109.49 166.5,111.88 168.95,114.83 171.4,117.72 173.85,119.87 176.3,120.7 178.75,119.91 181.2,117.68 183.65,114.53 186.1,111.06 188.55,107.74 191,104.92 193.45,103.1 195.9,102.75 198.35,104.04 200.8,106.8 203.25,110.59 205.7,114.42 208.15,117.49 210.6,119.68 213.05,121.3 215.5,122.63 217.95,123.89 220.4,125.28 222.85,126.75 225.3,128.05 227.75,128.9 230.2,129.2 232.65,128.79 235.1,127.54 237.55,125.45 240,122.75"/>
<polyline points="44,131.8 46.45,126.13 48.9,120.18 51.35,113.9 53.8,107.25 56.25,100.53 58.7,94.93 61.15,92.44 63.6,95.42 66.05,102.87 68.5,112.36 70.95,122.13 73.4,130.68 75.85,136.61 78.3,138.92 80.75,137.6 83.2,134.43 85.65,130.01 88.1,123.5 90.55,114.7 93,105.03 95.45,96.19 97.9,89.63 100.35,86.65 102.8,87.82 105.25,92.12 107.7,98.32 110.15,105.39 112.6,112.35 115.05,118.62 117.5,124.15 119.95,128.22 122.4,129.5 124.85,128.23 127.3,125.86 129.75,123.12 132.2,119.97 134.65,116.48 137.1,112.9 139.55,109.57 142,106.82 144.45,104.74 146.9,103.21 149.35,102.06 151.8,101.2 154.25,100.84 156.7,101.16 159.15,102.35 161.6,104.44 164.05,107.27 166.5,110.61 168.95,114.21 171.4,117.68 173.85,120.6 176.3,122.55 178.75,123.33 181.2,123.02 183.65,121.76 186.1,119.68 188.55,116.79 191,113.19 193.45,109.44 195.9,106.28 198.35,104.27 200.8,103.84 203.25,104.95 205.7,107.03 208.15,109.61 210.6,112.72 213.05,116.38 215.5,120.31 217.95,124.09 220.4,127.32 222.85,129.52 225.3,130.26 227.75,129.57 230.2,127.78 232.65,125.3 235.1,122.54 237.55,119.99 240,118.11"/>
<polyline points="44,130.51 46.45,125.26 48.9,119.95 51.35,114.55 53.8,109.06 56.25,103.55 58.7,98.42 61.15,94.73 63.6,94.15 66.05,98.31 68.5,106.04 70.95,115.3 73.4,124.58 75.85,132.51 78.3,137.89 80.75,139.85 83.2,138.56 85.65,135.49 88.1,131.04 90.55,124.72 93,116.71 95.45,108.37 97.9,101.11 100.35,96.06 102.8,94.19 105.25,95.64 107.7,99.38 110.15,104.25 112.6,109.28 115.05,113.61 117.5,116.84 119.95,119.05 122.4,119.83 124.85,118.49 127.3,115.75 129.75,113.08 132.2,111.16 134.65,109.99 137.1,109.44 139.55,109.44 142,109.96 144.45,111.02 146.9,112.4 149.35,113.73 151.8,114.62 154.25,114.83 156.7,114.41 159.15,113.56 161.6,112.51 164.05,111.51 166.5,110.7 168.95,110.23 171.4,110.22 173.85,110.59 176.3,111.19 178.75,111.79 181.2,112.24 183.65,112.52 186.1,112.63 188.55,112.41 191,111.64 193.45,110.23 195.9,108.54 198.35,107.13 200.8,106.46 203.25,106.93 205.7,108.49 208.15,110.73 210.6,113.39 213.05,116.6 215.5,120.41 217.95,124.51 220.4,128.52 222.85,131.95 225.3,134.27 227.75,135.02 230.2,134.19 232.65,132.04 235.1,128.94 237.55,125.32 240,121.68"/>
<polyline points="44,140.34 46.45,132.72 48.9,124.38 51.35,115.02 53.8,104.63 56.25,94.52 58.7,87.11 61.15,86.2 63.6,92.64 66.05,103.19 68.5,115.27 70.95,126.82 73.4,135.9 75.85,140.88 78.3,140.92 80.75,137.87 83.2,133.53 85.65,126.92 88.1,116.95 90.55,104.88 93,93.03 95.45,83.51 97.9,78.15 100.35,78.35 102.8,83.22 105.25,90.95 107.7,99.98 110.15,108.95 112.6,116.76 115.05,123.36 117.5,128.46 119.95,130.43 122.4,128.78 124.85,125.58 127.3,122.6 129.75,119.97 132.2,117.55 134.65,115.28 137.1,113.25 139.55,111.6 142,110.38 144.45,109.31 146.9,108.06 149.35,106.32 151.8,104.19 154.25,101.99 156.7,100.09 159.15,98.89 161.6,98.56 164.05,99.2 166.5,100.86 168.95,103.43 171.4,106.58 173.85,109.89 176.3,112.96 178.75,115.63 181.2,117.87 183.65,119.54 186.1,120.33 188.55,119.92 191,118.49 193.45,116.7 195.9,115.18 198.35,114.44 200.8,114.73 203.25,115.54 205.7,116.29 208.15,117.04 210.6,118.1 213.05,119.51 215.5,121.03 217.95,122.37 220.4,123.17 222.85,123.01 225.3,121.8 227.75,119.97 230.2,118.01 232.65,116.39 235.1,115.56 237.55,115.9 240,117.73"/>
<polyline points="44,140.99 46.45,132.14 48.9,123.91 51.35,116.43 53.8,109.68 56.25,103.52 58.7,98.63 61.15,96.36 63.6,99.31 66.05,108.15 68.5,119.43 70.95,130.19 73.4,138.48 75.85,142.88 78.3,142.52 80.75,137.37 83.2,129.69 85.65,122.27 88.1,115.02 90.55,106.94 93,98.57 95.45,91.41 97.9,86.67 100.35,85.18 102.8,87.7 105.25,93.3 107.7,100.22 110.15,107.14 112.6,113.28 115.05,118.05 117.5,121.85 119.95,124.96 122.4,126.21 124.85,124.66 127.3,121.72 129.75,118.9 132.2,116.15 134.65,113.19 137.1,110.01 139.55,106.97 142,104.56 144.45,103.18 146.9,102.74 149.35,102.86 151.8,103.07 154.25,103.21 156.7,103.34 159.15,103.52 161.6,103.88 164.05,104.38 166.5,105 168.95,105.83 171.4,106.99 173.85,108.39 176.3,109.94 178.75,111.44 181.2,112.92 183.65,114.44 186.1,115.85 188.55,116.62 191,116.11 193.45,114.18 195.9,111.46 198.35,108.73 200.8,106.73 203.25,106.12 205.7,106.66 208.15,107.87 210.6,109.9 213.05,113.25 215.5,117.94 217.95,123.45 220.4,129.06 222.85,133.89 225.3,136.97 227.75,137.7 230.2,136.35 232.65,133.46 235.1,129.71 237.55,125.86 240,122.71"/>
<polyline points="44,123.53 46.45,121.14 48.9,118.81 51.35,116.31 53.8,113.4 56.25,109.99 58.7,106.75 61.15,104.99 63.6,106.67 66.05,111.46 68.5,117.37 70.95,123.06 73.4,127.49 75.85,129.78 78.3,129.32 80.75,126.16 83.2,121.9 85.65,117.51 88.1,112.46 90.55,106.41 93,100.3 95.45,95.35 97.9,92.54 100.35,92.65 102.8,96.05 105.25,101.73 107.7,108.46 110.15,115.19 112.6,121.07 115.05,125.53 117.5,128.69 119.95,130.32 122.4,129.53 124.85,126.45 127.3,122.47 129.75,118.58 132.2,114.86 134.65,111.29 137.1,107.96 139.55,105.14 142,103.13 144.45,102.04 146.9,101.6 149.35,101.4 151.8,101.1 154.25,100.78 156.7,100.66 159.15,100.99 161.6,101.95 164.05,103.51 166.5,105.59 168.95,108.1 171.4,110.8 173.85,113.33 176.3,115.33 178.75,116.54 181.2,117.09 183.65,117.15 186.1,116.76 188.55,115.72 191,113.85 193.45,111.54 195.9,109.53 198.35,108.43 200.8,108.67 203.25,110.24 205.7,112.34 208.15,114.32 210.6,116.32 213.05,118.64 215.5,121.25 217.95,123.89 220.4,126.26 222.85,127.94 225.3,128.45 227.75,127.77 230.2,126.33 232.65,124.56 235.1,122.88 237.55,121.66 240,121.27"/>
<polyline points="44,140.42 46.45,136.93 48.9,130.71 51.35,122.16 53.8,111.93 56.25,100.86 58.7,90.84 61.15,84.41 63.6,85.12 66.05,93.86 68.5,107.01 70.95,121.3 73.4,133.97 75.85,142.65 78.3,145.55 80.75,142 83.2,134.09 85.65,124.64 88.1,113.9 90.55,101.75 93,89.85 95.45,80.62 97.9,75.84 100.35,76.54 102.8,83.14 105.25,93.84 107.7,105.89 110.15,117 112.6,125.51 115.05,130.44 117.5,132.21 119.95,131.54 122.4,128.04 124.85,122.13 127.3,116.43 129.75,113.02 132.2,111.93 134.65,112.45 137.1,113.71 139.55,114.97 142,115.72 144.45,115.68 146.9,114.62 149.35,112.51 151.8,109.54 154.25,106.24 156.7,103.34 159.15,101.49 161.6,101.21 164.05,102.62 166.5,105.55 168.95,109.58 171.4,114.06 173.85,118.21 176.3,121.3 178.75,122.79 181.2,122.58 183.65,120.91 186.1,118.2 188.55,114.92 191,111.51 193.45,108.6 195.9,106.88 198.35,106.81 200.8,108.46 203.25,111.58 205.7,115.31 208.15,118.7 210.6,121.25 213.05,122.85 215.5,123.48 217.95,123.19 220.4,122.22 222.85,120.84 225.3,119.32 227.75,117.93 230.2,117.09 232.65,117.05 235.1,117.8 237.55,119.16 240,120.84"/>
<polyline points="44,135.16 46.45,129.23 48.9,123.52 51.35,117.69 53.8,111.41 56.25,104.49 58.7,97.81 61.15,93.11 63.6,93.4 66.05,99.52 68.5,108.74 70.95,118.86 73.4,128.19 75.85,135.25 78.3,138.82 80.75,138.31 83.2,135.31 85.65,131.58 88.1,126.43 90.55,118.89 93,109.82 95.45,101.02 97.9,94.07 100.35,90.34 102.8,90.91 105.25,95.01 107.7,101.08 110.15,107.8 112.6,114.1 115.05,119.12 117.5,122.91 119.95,125.4 122.4,125.39 124.85,122.49 127.3,118.49 129.75,114.99 132.2,112.23 134.65,110.12 137.1,108.61 139.55,107.65 142,107.21 144.45,107.22 146.9,107.49 149.35,107.8 151.8,108 154.25,108.12 156.7,108.33 159.15,108.78 161.6,109.61 164.05,110.82 166.5,112.34 168.95,114.12 171.4,116.02 173.85,117.8 176.3,119.24 178.75,120.13 181.2,120.47 183.65,120.31 186.1,119.72 188.55,118.63 191,116.96 193.45,114.87 195.9,112.79 198.35,111.12 200.8,110.16 203.25,110.08 205.7,110.56 208.15,111.24 210.6,112.1 213.05,113.32 215.5,114.9 217.95,116.68 220.4,118.48 222.85,120.05 225.3,121.09 227.75,121.45 230.2,121.3 232.65,120.86 235.1,120.32 237.55,119.9 240,119.79"/>
<polyline points="44,147.3 46.45,143.85 48.9,140.4 51.35,136.19 53.8,130.49 56.25,122.69 58.7,113.26 61.15,103.95 63.6,98.14 66.05,98.7 68.5,103.58 70.95,110.29 73.4,117.24 75.85,123.04 78.3,126.45 80.75,126.57 83.2,124.37 85.65,122.27 88.1,119.9 90.55,115.51 93,108.78 95.45,101.29 97.9,94.66 100.35,90.26 102.8,89.5 105.25,92.34 107.7,97.24 110.15,102.86 112.6,108.33 115.05,112.94 117.5,116.82 119.95,120.43 122.4,122.85 124.85,122.84 127.3,121.66 129.75,121.07 132.2,121.17 134.65,121.36 137.1,121.19 139.55,120.48 142,119.22 144.45,117.47 146.9,115.19 149.35,112.34 151.8,108.99 154.25,105.41 156.7,102.13 159.15,99.63 161.6,98.35 164.05,98.56 166.5,100.26 168.95,103.33 171.4,107.49 173.85,112.24 176.3,116.99 178.75,121.14 181.2,124.26 183.65,126.15 186.1,126.69 188.55,125.8 191,123.45 193.45,119.84 195.9,115.64 198.35,111.59 200.8,108.34 203.25,106.41 205.7,105.84 208.15,106.35 210.6,107.77 213.05,110.18 215.5,113.49 217.95,117.3 220.4,121.16 222.85,124.56 225.3,126.99 227.75,128.05 230.2,127.79 232.65,126.45 235.1,124.37 237.55,121.96 240,119.67"/>
<polyline points="44,148.53 46.45,141.46 48.9,132.81 51.35,122.36 53.8,109.94 56.25,95.54 58.7,80.78 61.15,68.8 63.6,64.91 66.05,72.01 68.5,86.04 70.95,103.09 73.4,120.26 75.85,134.86 78.3,144.53 80.75,147.71 83.2,146.2 85.65,143.13 88.1,137.5 90.55,127.25 93,113.11 95.45,98.02 97.9,84.83 100.35,75.98 102.8,73.72 105.25,77.53 107.7,85.07 110.15,94.26 112.6,103.54 115.05,111.51 117.5,118.19 119.95,123.73 122.4,126.24 124.85,124.31 127.3,120.39 129.75,117.17 132.2,114.92 134.65,113.2 137.1,111.74 139.55,110.49 142,109.52 144.45,108.91 146.9,108.42 149.35,107.74 151.8,106.61 154.25,105.12 156.7,103.68 159.15,102.66 161.6,102.41 164.05,103.08 166.5,104.58 168.95,106.81 171.4,109.55 173.85,112.36 176.3,114.75 178.75,116.28 181.2,116.86 183.65,116.61 186.1,115.65 188.55,113.93 191,111.33 193.45,108.09 195.9,105.04 198.35,103.01 200.8,102.6 203.25,104.18 205.7,107.23 208.15,110.91 210.6,114.94 213.05,119.47 215.5,124.42 217.95,129.31 220.4,133.65 222.85,136.86 225.3,138.31 227.75,137.61 230.2,135.08 232.65,131.25 235.1,126.69 237.55,122.02 240,117.92"/>
<polyline points="44,159.71 46.45,152.33 48.9,145.26 51.35,138.21 53.8,130.81 56.25,122.7 58.7,113.52 61.15,103.77 63.6,95.11 66.05,90.66 68.5,93.44 70.95,101.39 73.4,111.39 75.85,121.3 78.3,129.32 80.75,133.83 83.2,133.76 85.65,129.81 88.1,124.73 90.55,118.89 93,110.99 95.45,100.95 97.9,90.76 100.35,82.53 102.8,77.91 105.25,78.44 107.7,84.21 110.15,93.37 112.6,104.04 115.05,114.73 117.5,124.09 119.95,131.57 122.4,137.32 124.85,140.29 127.3,138.98 129.75,134.52 132.2,129.24 134.65,124.11 137.1,119.17 139.55,114.52 142,110.35 144.45,106.87 146.9,104.23 149.35,102.33 151.8,100.87 154.25,99.54 156.7,98.25 159.15,97.27 161.6,96.86 164.05,97.28 166.5,98.64 168.95,100.86 171.4,103.79 173.85,107.26 176.3,110.87 178.75,114.21 181.2,116.85 183.65,118.58 186.1,119.51 188.55,119.74 191,119.25 193.45,117.87 195.9,115.6 198.35,113.06 200.8,110.98 203.25,109.93 205.7,110.29 208.15,111.85 210.6,113.85 213.05,115.91 215.5,118.23 217.95,120.95 220.4,123.83 222.85,126.55 225.3,128.72 227.75,129.87 230.2,129.58 232.65,128.02 235.1,125.61 237.55,122.8 240,120.04"/>
<polyline points="44,160.57 46.45,156.57 48.9,151.8 51.35,145.47 53.8,137.04 56.25,127.03 58.7,117.04 61.15,110.05 63.6,108.4 66.05,110.47 68.5,114.4 70.95,118.91 73.4,122.8 75.85,124.86 78.3,124.21 80.75,121.53 83.2,118.53 85.65,114.77 88.1,108.95 90.55,101.13 93,92.89 95.45,85.89 97.9,81.59 100.35,81.4 102.8,85.37 105.25,92.25 107.7,100.82 110.15,110.03 112.6,118.83 115.05,126.74 117.5,133.55 119.95,137.92 122.4,138.58 124.85,136.53 127.3,133.33 129.75,129.5 132.2,125.23 134.65,120.93 137.1,117.04 139.55,113.88 142,111.57 144.45,109.99 146.9,108.98 149.35,108.34 151.8,108.01 154.25,107.95 156.7,108.11 159.15,108.44 161.6,108.83 164.05,109.18 166.5,109.44 168.95,109.62 171.4,109.74 173.85,109.83 176.3,109.98 178.75,110.33 181.2,111.08 183.65,112.32 186.1,113.97 188.55,115.84 191,117.72 193.45,119.55 195.9,121.28 198.35,122.82 200.8,124.07 203.25,124.76 205.7,124.61 208.15,123.64 210.6,122.13 213.05,120.43 215.5,118.75 217.95,117.29 220.4,116.17 222.85,115.36 225.3,114.81 227.75,114.55 230.2,114.58 232.65,114.84 235.1,115.25 237.55,115.71 240,116.19"/>
<polyline points="44,133.07 46.45,125.78 48.9,118.11 51.35,110.46 53.8,103.01 56.25,95.96 58.7,90.46 61.15,88.41 63.6,92.8 66.05,103.34 68.5,116.25 70.95,128.67 73.4,138.44 75.85,143.86 78.3,143.82 80.75,138.31 83.2,130.02 85.65,121.31 88.1,111.82 90.55,101.09 93,90.58 95.45,82.34 97.9,77.87 100.35,78.21 102.8,83.84 105.25,93.03 107.7,103.49 110.15,113.37 112.6,121.32 115.05,126.55 117.5,129.5 119.95,130.4 122.4,128.36 124.85,123.76 127.3,119.11 129.75,116.13 132.2,114.82 134.65,114.7 137.1,115.24 139.55,115.97 142,116.49 144.45,116.51 146.9,115.75 149.35,114.07 151.8,111.52 154.25,108.47 156.7,105.46 159.15,103.04 161.6,101.72 164.05,101.79 166.5,103.34 168.95,106.27 171.4,110.24 173.85,114.7 176.3,119 178.75,122.51 181.2,124.82 183.65,125.7 186.1,125.05 188.55,122.89 191,119.38 193.45,115.1 195.9,110.85 198.35,107.44 200.8,105.47 203.25,105.29 205.7,106.67 208.15,109.22 210.6,112.65 213.05,116.69 215.5,120.85 217.95,124.54 220.4,127.25 222.85,128.55 225.3,128.18 227.75,126.2 230.2,123.11 232.65,119.49 235.1,116 237.55,113.24 240,111.71"/>
<polyline points="44,140.94 46.45,135.36 48.9,129.17 51.35,121.95 53.8,113.39 56.25,104.41 58.7,97.08 61.15,95.12 63.6,100.29 66.05,109.45 68.5,119.8 70.95,129.31 73.4,136.2 75.85,138.99 78.3,136.9 80.75,131.65 83.2,125.79 85.65,118.75 88.1,109.28 90.55,98.12 93,87.5 95.45,79.44 97.9,75.58 100.35,77.32 102.8,83.92 105.25,93.34 107.7,103.77 110.15,113.78 112.6,122.13 115.05,128.68 117.5,133.43 119.95,134.92 122.4,132.3 124.85,127.61 127.3,123.01 129.75,118.99 132.2,115.53 134.65,112.7 137.1,110.59 139.55,109.2 142,108.46 144.45,108.07 146.9,107.77 149.35,107.37 151.8,106.88 154.25,106.49 156.7,106.38 159.15,106.72 161.6,107.55 164.05,108.81 166.5,110.43 168.95,112.31 171.4,114.18 173.85,115.81 176.3,116.96 178.75,117.6 181.2,117.8 183.65,117.62 186.1,117 188.55,115.83 191,114.22 193.45,112.6 195.9,111.41 198.35,110.95 200.8,111.42 203.25,112.49 205.7,113.7 208.15,114.97 210.6,116.47 213.05,118.22 215.5,120.06 217.95,121.78 220.4,123.13 222.85,123.81 225.3,123.64 227.75,122.82 230.2,121.61 232.65,120.29 235.1,119.12 237.55,118.36 240,118.27"/>
<polyline points="44,124.66 46.45,122.93 48.9,120.37 51.35,116.75 53.8,111.85 56.25,105.88 58.7,100.12 61.15,96.85 63.6,98.89 66.05,105.35 68.5,113.6 70.95,121.9 73.4,128.81 75.85,133.03 78.3,133.62 80.75,130.77 83.2,126.65 85.65,122.03 88.1,115.89 90.55,107.83 93,99.26 95.45,91.88 97.9,87.08 100.35,86.1 102.8,89.36 105.25,95.53 107.7,103.08 110.15,110.8 112.6,117.65 115.05,123.08 117.5,127.27 119.95,129.7 122.4,129.08 124.85,125.92 127.3,122.12 129.75,118.65 132.2,115.48 134.65,112.53 137.1,109.87 139.55,107.66 142,106.09 144.45,105.16 146.9,104.6 149.35,104.11 151.8,103.48 154.25,102.91 156.7,102.62 159.15,102.86 161.6,103.8 164.05,105.37 166.5,107.47 168.95,110 171.4,112.67 173.85,115.1 176.3,116.95 178.75,117.99 181.2,118.31 183.65,118.05 186.1,117.24 188.55,115.72 191,113.43 193.45,110.85 195.9,108.69 198.35,107.48 200.8,107.62 203.25,109.05 205.7,111.06 208.15,113.15 210.6,115.47 213.05,118.21 215.5,121.2 217.95,124.14 220.4,126.69 222.85,128.4 225.3,128.85 227.75,128.08 230.2,126.46 232.65,124.42 235.1,122.33 237.55,120.61 240,119.66"/>
<polyline points="44,146.49 46.45,141.22 48.9,136.46 51.35,131.63 53.8,126.37 56.25,120.46 58.7,114.25 61.15,108.78 63.6,105.78 66.05,106.93 68.5,111.2 70.95,116.93 73.4,122.86 75.85,127.87 78.3,130.91 80.75,131.24 83.2,129.11 85.65,125.9 88.1,121.87 90.55,116.5 93,109.91 95.45,103.28 97.9,97.8 100.35,94.41 102.8,93.9 105.25,96.31 107.7,100.67 110.15,105.97 112.6,111.42 115.05,116.31 117.5,120.37 119.95,123.68 122.4,125.73 124.85,125.72 127.3,124.15 129.75,122.13 132.2,120.08 134.65,117.92 137.1,115.69 139.55,113.54 142,111.68 144.45,110.31 146.9,109.42 149.35,108.83 151.8,108.32 154.25,107.78 156.7,107.29 159.15,106.95 161.6,106.88 164.05,107.13 166.5,107.67 168.95,108.48 171.4,109.58 173.85,110.89 176.3,112.3 178.75,113.64 181.2,114.87 183.65,116.02 186.1,117.06 188.55,117.8 191,117.94 193.45,117.27 195.9,116.03 198.35,114.63 200.8,113.43 203.25,112.83 205.7,112.85 208.15,113.24 210.6,113.95 213.05,115.24 215.5,117.22 217.95,119.68 220.4,122.25 222.85,124.46 225.3,125.8 227.75,125.83 230.2,124.59 232.65,122.4 235.1,119.7 237.55,117.02 240,114.93"/>
<polyline points="44,150.57 46.45,148.17 48.9,145.21 51.35,141.17 53.8,135.6 56.25,128.23 58.7,119.41 61.15,110.59 63.6,104.35 66.05,103.5 68.5,107.05 70.95,112.76 73.4,119.14 75.85,124.89 78.3,128.73 80.75,129.69 83.2,127.96 85.65,125.42 88.1,122.29 90.55,117.3 93,109.99 95.45,101.69 97.9,93.95 100.35,88.11 102.8,85.51 105.25,86.59 107.7,90.26 110.15,95.37 112.6,101.07 115.05,106.59 117.5,111.68 119.95,116.56 122.4,120.56 124.85,122.38 127.3,122.57 129.75,122.6 132.2,122.89 134.65,123.07 137.1,122.9 139.55,122.34 142,121.45 144.45,120.33 146.9,118.96 149.35,117.25 151.8,115.16 154.25,112.78 156.7,110.4 159.15,108.34 161.6,106.88 164.05,106.22 166.5,106.41 168.95,107.39 171.4,109.06 173.85,111.16 176.3,113.35 178.75,115.28 181.2,116.7 183.65,117.5 186.1,117.65 188.55,117.09 191,115.75 193.45,113.67 195.9,111.23 198.35,108.94 200.8,107.25 203.25,106.52 205.7,106.82 208.15,107.9 210.6,109.61 213.05,112.02 215.5,115.14 217.95,118.75 220.4,122.53 222.85,126.08 225.3,128.97 227.75,130.8 230.2,131.45 232.65,131.02 235.1,129.67 237.55,127.63 240,125.21"/>
<polyline points="44,134.24 46.45,129.92 48.9,125.64 51.35,121.21 53.8,116.44 56.25,111.21 58.7,106 61.15,101.79 63.6,100.39 66.05,102.75 68.5,107.39 70.95,112.9 73.4,118.27 75.85,122.6 78.3,125.11 80.75,125.35 83.2,124.05 85.65,122.42 88.1,120.16 90.55,116.61 93,112.04 95.45,107.47 97.9,103.87 100.35,102.03 102.8,102.64 105.25,105.38 107.7,109.32 110.15,113.59 112.6,117.56 115.05,120.68 117.5,122.95 119.95,124.46 122.4,124.59 124.85,122.79 127.3,119.93 129.75,117.06 132.2,114.35 134.65,111.68 137.1,109.01 139.55,106.52 142,104.51 144.45,103.22 146.9,102.55 149.35,102.21 151.8,101.86 154.25,101.5 156.7,101.34 159.15,101.62 161.6,102.59 164.05,104.27 166.5,106.56 168.95,109.35 171.4,112.43 173.85,115.42 176.3,117.93 178.75,119.6 181.2,120.36 183.65,120.35 186.1,119.69 188.55,118.3 191,116.01 193.45,113.01 195.9,109.99 198.35,107.65 200.8,106.51 203.25,106.88 205.7,108.32 208.15,110.09 210.6,112.05 213.05,114.44 215.5,117.34 217.95,120.47 220.4,123.52 222.85,126.07 225.3,127.63 227.75,127.89 230.2,127.12 232.65,125.72 235.1,124.09 237.55,122.61 240,121.69"/>
<polyline points="44,137.07 46.45,132.82 48.9,128.71 51.35,124.55 53.8,120.1 56.25,115.07 58.7,109.27 61.15,103.48 63.6,99.32 66.05,99.6 68.5,104.98 70.95,112.78 73.4,120.93 75.85,127.9 78.3,132.42 80.75,133.51 83.2,130.83 85.65,126.14 88.1,121.27 90.55,115.63 93,108.36 95.45,100.26 97.9,92.98 100.35,87.92 102.8,86.2 105.25,88.68 107.7,94.46 110.15,101.93 112.6,109.75 115.05,116.9 117.5,122.59 119.95,126.94 122.4,129.94 124.85,130.44 127.3,128.04 129.75,124.38 132.2,120.94 134.65,117.81 137.1,114.88 139.55,112.14 142,109.71 144.45,107.77 146.9,106.4 149.35,105.42 151.8,104.58 154.25,103.71 156.7,102.9 159.15,102.42 161.6,102.51 164.05,103.36 166.5,104.94 168.95,107.11 171.4,109.71 173.85,112.48 176.3,115.04 178.75,117.02 181.2,118.15 183.65,118.44 186.1,118.08 188.55,117.22 191,115.83 193.45,113.86 195.9,111.58 198.35,109.62 200.8,108.53 203.25,108.64 205.7,110.07 208.15,112.23 210.6,114.44 213.05,116.58 215.5,118.83 217.95,121.17 220.4,123.37 222.85,125.21 225.3,126.42 227.75,126.67 230.2,125.86 232.65,124.36 235.1,122.55 237.55,120.79 240,119.4"/>
<polyline points="44,134.12 46.45,128.09 48.9,122.58 51.35,117.2 53.8,111.59 56.25,105.98 58.7,101.43 61.15,100.03 63.6,103.8 66.05,111.17 68.5,119.85 70.95,128.25 73.4,135.02 75.85,138.98 78.3,139.32 80.75,136.52 83.2,132.52 85.65,127.58 88.1,120.78 90.55,112.13 93,103.09 95.45,95.19 97.9,89.68 100.35,87.74 102.8,89.51 105.25,93.79 107.7,99.35 110.15,105.24 112.6,110.6 115.05,115.12 117.5,118.98 119.95,121.47 122.4,121.56 124.85,120 127.3,118.35 129.75,117.11 132.2,116.08 134.65,115.09 137.1,114.12 139.55,113.28 142,112.72 144.45,112.41 146.9,112.11 149.35,111.57 151.8,110.68 154.25,109.63 156.7,108.64 159.15,107.93 161.6,107.66 164.05,107.81 166.5,108.36 168.95,109.28 171.4,110.37 173.85,111.37 176.3,112.05 178.75,112.32 181.2,112.29 183.65,112.08 186.1,111.67 188.55,110.92 191,109.79 193.45,108.71 195.9,108.19 198.35,108.61 200.8,110.19 203.25,112.7 205.7,115.47 208.15,118.16 210.6,120.87 213.05,123.69 215.5,126.42 217.95,128.8 220.4,130.53 222.85,131.26 225.3,130.68 227.75,128.94 230.2,126.43 232.65,123.52 235.1,120.59 237.55,118.04 240,116.26"/>
<polyline points="44,134.62 46.45,132 48.9,129.37 51.35,126.43 53.8,122.87 56.25,118.39 58.7,112.8 61.15,106.88 63.6,102.18 66.05,101.47 68.5,105.74 70.95,112.61 73.4,120.12 75.85,126.82 78.3,131.46 80.75,133.01 83.2,130.96 85.65,126.78 88.1,122.19 90.55,116.68 93,109.4 95.45,101.05 97.9,93.26 100.35,87.48 102.8,84.92 105.25,86.54 107.7,91.65 110.15,98.79 112.6,106.64 115.05,114.16 117.5,120.46 119.95,125.47 122.4,129.1 124.85,130.22 127.3,128.42 129.75,125.29 132.2,122.32 134.65,119.78 137.1,117.66 139.55,115.93 142,114.59 144.45,113.58 146.9,112.87 149.35,112.29 151.8,111.72 154.25,111.03 156.7,110.29 159.15,109.62 161.6,109.15 164.05,109.01 166.5,109.24 168.95,109.81 171.4,110.7 173.85,111.83 176.3,113.07 178.75,114.24 181.2,115.2 183.65,115.92 186.1,116.43 188.55,116.74 191,116.78 193.45,116.46 195.9,115.84 198.35,115.17 200.8,114.71 203.25,114.63 205.7,115.02 208.15,115.67 210.6,116.31 213.05,116.9 215.5,117.58 217.95,118.36 220.4,119.17 222.85,119.89 225.3,120.39 227.75,120.49 230.2,120.12 232.65,119.41 235.1,118.54 237.55,117.69 240,117"/>
<polyline points="44,129.8 46.45,126.72 48.9,126.85 51.35,128.83 53.8,130.74 56.25,130.58 58.7,127.06 61.15,120.49 63.6,113.01 66.05,108.06 68.5,106.28 70.95,106.95 73.4,109.94 75.85,114.78 78.3,120.35 80.75,125.07 83.2,127.76 85.65,128.84 88.1,127.65 90.55,122.44 93,112.76 95.45,100.64 97.9,88.92 100.35,80.42 102.8,77.61 105.25,81.7 107.7,91.46 110.15,104.69 112.6,118.83 115.05,131.21 117.5,139.77 119.95,143.68 122.4,142.36 124.85,135.48 127.3,125.13 129.75,114.94 132.2,107.48 134.65,103.6 137.1,103.12 139.55,105.11 142,108.38 144.45,111.79 146.9,114.33 149.35,115.25 151.8,114.19 154.25,111.4 156.7,107.69 159.15,104.21 161.6,102.08 164.05,102.11 166.5,104.52 168.95,108.99 171.4,114.69 173.85,120.41 176.3,124.85 178.75,126.99 181.2,126.34 183.65,123.16 186.1,118.27 188.55,112.75 191,107.69 193.45,104.03 195.9,102.54 198.35,103.59 200.8,106.88 203.25,111.64 205.7,116.69 208.15,120.62 210.6,122.55 213.05,122.49 215.5,121.03 217.95,118.97 220.4,117.21 222.85,116.53 225.3,117.28 227.75,119.3 230.2,122.14 232.65,125.15 235.1,127.48 237.55,128.35 240,127.35"/>
<polyline points="44,141.89 46.45,138.15 48.9,131.07 51.35,120.98 53.8,108.69 56.25,96.13 58.7,86.11 61.15,82.43 63.6,87.53 66.05,98.96 68.5,113.45 70.95,128.07 73.4,139.98 75.85,146.71 78.3,146.72 80.75,140.88 83.2,131.92 85.65,120.75 88.1,107.59 90.55,93.99 93,82.72 95.45,75.97 97.9,74.96 100.35,80.25 102.8,90.48 105.25,102.84 107.7,114.71 110.15,124.23 112.6,130.15 115.05,132.6 117.5,132.51 119.95,129.9 122.4,124.8 124.85,119.27 127.3,115.48 129.75,113.7 132.2,113.16 134.65,112.95 137.1,112.42 139.55,111.32 142,109.74 144.45,107.76 146.9,105.52 149.35,103.17 151.8,101.14 154.25,100 156.7,100.13 159.15,101.68 161.6,104.42 164.05,107.82 166.5,111.27 168.95,114.24 171.4,116.21 173.85,116.92 176.3,116.37 178.75,115 181.2,113.51 183.65,112.5 186.1,112.2 188.55,112.44 191,112.96 193.45,113.75 195.9,114.75 198.35,115.74 200.8,116.58 203.25,116.79 205.7,115.93 208.15,114.29 210.6,112.86 213.05,112.5 215.5,113.64 217.95,116.38 220.4,120.35 222.85,124.75 225.3,128.55 227.75,131.16 230.2,132.12 232.65,131.25 235.1,128.69 237.55,124.96 240,120.97"/>
<polyline points="44,159.78 46.45,152.99 48.9,145.37 51.35,136.37 53.8,125.48 56.25,112.52 58.7,99.21 61.15,88.83 63.6,86.68 66.05,93.6 68.5,104.99 70.95,117.45 73.4,128.39 75.85,135.53 78.3,137.11 80.75,132.56 83.2,125.1 85.65,117.55 88.1,108.59 90.55,96.74 93,83.71 95.45,72.43 97.9,65.39 100.35,64.61 102.8,71.48 105.25,84.1 107.7,99.5 110.15,115.18 112.6,129.09 115.05,139.69 117.5,147.05 119.95,150.87 122.4,149.09 124.85,141.56 127.3,131.72 129.75,122.41 132.2,114.27 134.65,107.5 137.1,102.27 139.55,98.64 142,96.55 144.45,95.82 146.9,95.99 149.35,96.63 151.8,97.38 154.25,98.27 156.7,99.48 159.15,101.17 161.6,103.46 164.05,106.27 166.5,109.42 168.95,112.76 171.4,116.02 173.85,118.82 176.3,120.8 178.75,121.68 181.2,121.56 183.65,120.64 186.1,119.09 188.55,116.84 191,113.78 193.45,110.3 195.9,107.15 198.35,105.02 200.8,104.37 203.25,105.37 205.7,107.36 208.15,109.65 210.6,112.22 213.05,115.3 215.5,118.85 217.95,122.53 220.4,126 222.85,128.79 225.3,130.4 227.75,130.62 230.2,129.8 232.65,128.33 235.1,126.58 237.55,124.95 240,123.82"/>
<polyline points="44,120.7 46.45,121.58 48.9,121.74 51.35,120.9 53.8,118.75 56.25,115.04 58.7,110.51 61.15,106.79 63.6,106.82 66.05,111.87 68.5,119.39 70.95,127.17 73.4,133.66 75.85,137.51 78.3,137.66 80.75,133.61 83.2,126.95 85.65,119.83 88.1,111.9 90.55,102.3 93,91.83 95.45,82.35 97.9,75.53 100.35,72.72 102.8,75.01 105.25,81.7 107.7,91.1 110.15,101.65 112.6,112.06 115.05,121.23 117.5,128.89 119.95,134.85 122.4,137.78 124.85,136.94 127.3,133.89 129.75,130.32 132.2,126.59 134.65,122.83 137.1,119.22 139.55,115.99 142,113.26 144.45,111.08 146.9,109.29 149.35,107.74 151.8,106.3 154.25,105.04 156.7,104.14 159.15,103.78 161.6,104.11 164.05,105.13 166.5,106.75 168.95,108.88 171.4,111.34 173.85,113.85 176.3,116.13 178.75,117.91 181.2,119.09 183.65,119.71 186.1,119.78 188.55,119.23 191,117.97 193.45,116.14 195.9,114.15 198.35,112.42 200.8,111.28 203.25,110.96 205.7,111.22 208.15,111.75 210.6,112.52 213.05,113.72 215.5,115.37 217.95,117.32 220.4,119.39 222.85,121.31 225.3,122.77 227.75,123.57 230.2,123.81 232.65,123.64 235.1,123.23 237.55,122.76 240,122.39"/>
<polyline points="44,133.03 46.45,133.34 48.9,132.41 51.35,129.12 53.8,122.78 56.25,113.36 58.7,102.4 61.15,92.67 63.6,88.23 66.05,90.88 68.5,98.52 70.95,109.06 73.4,120.36 75.85,130.12 78.3,136.12 80.75,136.93 83.2,133.6 85.65,127.86 88.1,119.56 90.55,108.67 93,97.1 95.45,87.5 97.9,81.98 100.35,81.84 102.8,87.6 105.25,97.54 107.7,108.99 110.15,119.6 112.6,127.63 115.05,132.09 117.5,133.43 119.95,132.44 122.4,129.02 124.85,123.69 127.3,118.78 129.75,115.93 132.2,114.8 134.65,114.38 137.1,113.71 139.55,112.31 142,110.11 144.45,107.32 146.9,104.08 149.35,100.58 151.8,97.18 154.25,94.53 156.7,93.35 159.15,94.06 161.6,96.73 164.05,100.91 166.5,105.87 168.95,110.83 171.4,115.06 173.85,117.96 176.3,119.22 178.75,118.92 181.2,117.65 183.65,116.2 186.1,115.15 188.55,114.62 191,114.33 193.45,114.15 195.9,114.17 198.35,114.41 200.8,114.81 203.25,115.33 205.7,115.44 208.15,114.83 210.6,114.06 213.05,114.05 215.5,115.38 217.95,118.06 220.4,121.77 222.85,125.74 225.3,128.92 227.75,130.43 230.2,130.06 232.65,127.91 235.1,124.39 237.55,120.25 240,116.48"/>
<polyline points="44,139.02 46.45,134.29 48.9,129.44 51.35,124.15 53.8,118.11 56.25,111.03 58.7,103.31 61.15,96.42 63.6,93.09 66.05,95.94 68.5,103.19 70.95,112.16 73.4,121.04 75.85,128.28 78.3,132.51 80.75,132.8 83.2,129.76 85.65,125.77 88.1,121.12 90.55,114.63 93,106.23 95.45,97.61 97.9,90.54 100.35,86.45 102.8,86.65 105.25,91.2 107.7,98.51 110.15,106.98 112.6,115.37 115.05,122.54 117.5,128.11 119.95,132.25 122.4,134.14 124.85,132.52 127.3,128.41 129.75,123.84 132.2,119.61 134.65,115.68 137.1,112.04 139.55,108.83 142,106.23 144.45,104.38 146.9,103.18 149.35,102.33 151.8,101.52 154.25,100.66 156.7,99.96 159.15,99.68 161.6,100.06 164.05,101.23 166.5,103.11 168.95,105.62 171.4,108.6 173.85,111.73 176.3,114.64 178.75,116.95 181.2,118.48 183.65,119.34 186.1,119.61 188.55,119.26 191,118.1 193.45,116.13 195.9,113.9 198.35,112.05 200.8,111.09 203.25,111.39 205.7,112.71 208.15,114.37 210.6,116.01 213.05,117.83 215.5,120 217.95,122.32 220.4,124.53 222.85,126.29 225.3,127.18 227.75,126.84 230.2,125.43 232.65,123.35 235.1,121.01 237.55,118.81 240,117.14"/>
<polyline points="44,141.01 46.45,136.59 48.9,132.91 51.35,129.36 53.8,125.36 56.25,120.34 58.7,113.93 61.15,106.91 63.6,100.98 66.05,99.22 68.5,102.65 70.95,108.86 73.4,115.97 75.85,122.62 78.3,127.61 80.75,129.91 83.2,129.02 85.65,126.5 88.1,123.95 90.55,120.52 93,115.02 95.45,108.01 97.9,101.01 100.35,95.41 102.8,92.41 105.25,93.05 107.7,96.64 110.15,101.8 112.6,107.43 115.05,112.72 117.5,117.07 119.95,120.72 122.4,123.78 124.85,125.03 127.3,123.78 129.75,121.45 132.2,119.3 134.65,117.19 137.1,114.8 139.55,112.1 142,109.34 144.45,106.87 146.9,104.91 149.35,103.29 151.8,101.74 154.25,100.03 156.7,98.37 159.15,97.18 161.6,96.86 164.05,97.75 166.5,99.86 168.95,103.02 171.4,107.01 173.85,111.43 176.3,115.69 178.75,119.17 181.2,121.37 183.65,122.2 186.1,121.79 188.55,120.32 191,117.72 193.45,113.96 195.9,109.5 198.35,105.35 200.8,102.42 203.25,101.39 205.7,102.58 208.15,105.29 210.6,108.66 213.05,112.48 215.5,116.9 217.95,121.75 220.4,126.52 222.85,130.7 225.3,133.7 227.75,134.93 230.2,134.14 232.65,131.82 235.1,128.59 237.55,125.07 240,121.9"/>
<polyline points="44,144.85 46.45,140.01 48.9,134.83 51.35,128.97 53.8,122.11 56.25,113.96 58.7,104.94 61.15,96.67 63.6,92.08 66.05,94.37 68.5,101.97 70.95,111.85 73.4,121.93 75.85,130.45 78.3,135.78 80.75,136.79 83.2,133.83 85.65,129.46 88.1,124.22 90.55,116.82 93,106.96 95.45,96.49 97.9,87.45 100.35,81.52 102.8,80.24 105.25,83.98 107.7,91.12 110.15,99.91 112.6,108.99 115.05,117.15 117.5,123.82 119.95,129.2 122.4,132.46 124.85,132.07 127.3,128.85 129.75,124.95 132.2,121.32 134.65,117.84 137.1,114.46 139.55,111.32 142,108.62 144.45,106.56 146.9,105.08 149.35,103.89 151.8,102.69 154.25,101.37 156.7,100.18 159.15,99.46 161.6,99.49 164.05,100.47 166.5,102.32 168.95,104.93 171.4,108.15 173.85,111.6 176.3,114.83 178.75,117.39 181.2,119.02 183.65,119.79 186.1,119.79 188.55,119.02 191,117.3 193.45,114.63 195.9,111.61 198.35,109.02 200.8,107.46 203.25,107.4 205.7,108.68 208.15,110.6 210.6,112.69 213.05,115.16 215.5,118.17 217.95,121.48 220.4,124.76 222.85,127.59 225.3,129.49 227.75,129.99 230.2,129.16 232.65,127.42 235.1,125.18 237.55,122.85 240,120.89"/>
<polyline points="44,132.22 46.45,130.52 48.9,128.35 51.35,125.03 53.8,119.86 56.25,112.73 58.7,105.06 61.15,99.69 63.6,100.57 66.05,107.03 68.5,115.67 70.95,124.32 73.4,131.26 75.85,135.01 78.3,134.51 80.75,129.95 83.2,124.28 85.65,118.84 88.1,112.22 90.55,103.47 93,94.17 95.45,86.32 97.9,81.53 100.35,81.22 102.8,85.95 105.25,93.89 107.7,102.94 110.15,111.5 112.6,118.33 115.05,122.87 117.5,125.67 119.95,126.51 122.4,123.98 124.85,118.82 127.3,113.75 129.75,110.32 132.2,108.35 134.65,107.44 137.1,107.26 139.55,107.61 142,108.49 144.45,109.71 146.9,110.83 149.35,111.35 151.8,110.91 154.25,109.69 156.7,108 159.15,106.24 161.6,104.8 164.05,103.83 166.5,103.46 168.95,103.81 171.4,104.76 173.85,106.07 176.3,107.41 178.75,108.55 181.2,109.56 183.65,110.52 186.1,111.35 188.55,111.67 191,111.15 193.45,110.12 195.9,109.25 198.35,109.09 200.8,110.05 203.25,112.09 205.7,114.37 208.15,116.33 210.6,118.23 213.05,120.48 215.5,123.1 217.95,125.86 220.4,128.49 222.85,130.52 225.3,131.43 227.75,131.17 230.2,130.13 232.65,128.67 235.1,127.13 237.55,125.84 240,125.14"/>
<polyline points="44,142.92 46.45,137.74 48.9,131.58 51.35,124.2 53.8,115.45 56.25,105.57 58.7,96.23 61.15,90.2 63.6,91.4 66.05,99.55 68.5,110.99 70.95,123.08 73.4,133.6 75.85,140.59 78.3,142.55 80.75,139.18 83.2,133.11 85.65,126.06 88.1,117.06 90.55,105.47 93,93.12 95.45,82.44 97.9,75.43 100.35,73.71 102.8,78.12 105.25,86.98 107.7,98.03 110.15,109.37 112.6,119.41 115.05,127.08 117.5,132.51 119.95,135.33 122.4,134.05 124.85,129.09 127.3,123.14 129.75,118.07 132.2,114.1 134.65,111.19 137.1,109.26 139.55,108.18 142,107.81 144.45,107.91 146.9,108.09 149.35,108 151.8,107.43 154.25,106.53 156.7,105.59 159.15,104.92 161.6,104.83 164.05,105.44 166.5,106.79 168.95,108.84 171.4,111.4 173.85,114.1 176.3,116.54 178.75,118.35 181.2,119.43 183.65,119.77 186.1,119.34 188.55,118.01 191,115.7 193.45,112.86 195.9,110.16 198.35,108.24 200.8,107.57 203.25,108.3 205.7,109.92 208.15,111.96 210.6,114.38 213.05,117.24 215.5,120.32 217.95,123.25 220.4,125.66 222.85,127.15 225.3,127.36 227.75,126.31 230.2,124.41 232.65,122.13 235.1,119.93 237.55,118.25 240,117.48"/>
<polyline points="44,146.5 46.45,143.44 48.9,140.03 51.35,135.84 53.8,130.59 56.25,124.07 58.7,116.28 61.15,108.07 63.6,101.04 66.05,97.87 68.5,99.93 70.95,105.33 73.4,112.29 75.85,119.42 78.3,125.41 80.75,129.08 83.2,129.66 85.65,128.02 88.1,125.61 90.55,121.96 93,116.2 95.45,108.87 97.9,101.49 100.35,95.53 102.8,92.22 105.25,92.61 107.7,96.32 110.15,102.08 112.6,108.67 115.05,115.09 117.5,120.42 119.95,124.44 122.4,127.06 124.85,127.31 127.3,124.66 129.75,120.54 132.2,116.53 134.65,113.11 137.1,110.38 139.55,108.4 142,107.23 144.45,106.9 146.9,107.4 149.35,108.48 151.8,109.82 154.25,111.08 156.7,112.11 159.15,112.89 161.6,113.46 164.05,113.9 166.5,114.22 168.95,114.44 171.4,114.6 173.85,114.76 176.3,114.85 178.75,114.82 181.2,114.59 183.65,114.2 186.1,113.77 188.55,113.33 191,112.78 193.45,111.93 195.9,110.77 198.35,109.64 200.8,108.87 203.25,108.73 205.7,109.42 208.15,110.7 210.6,112.19 213.05,113.89 215.5,115.99 217.95,118.54 220.4,121.35 222.85,124.16 225.3,126.62 227.75,128.31 230.2,128.93 232.65,128.54 235.1,127.28 237.55,125.4 240,123.15"/>
<polyline points="44,141.56 46.45,134.71 48.9,127.18 51.35,119.05 53.8,110.41 56.25,101.48 58.7,93.39 61.15,87.99 63.6,88.27 66.05,95.07 68.5,105.57 70.95,117.33 73.4,128.38 75.85,136.96 78.3,141.56 80.75,141.39 83.2,137.85 85.65,132.71 88.1,125.51 90.55,115.57 93,104.02 95.45,92.95 97.9,84.27 100.35,79.56 102.8,80.07 105.25,85.13 107.7,93.15 110.15,102.62 112.6,112.2 115.05,120.68 117.5,127.71 119.95,132.93 122.4,134.91 124.85,133.03 127.3,128.94 129.75,124.35 132.2,119.74 134.65,115.37 137.1,111.52 139.55,108.47 142,106.41 144.45,105.38 146.9,105.14 149.35,105.35 151.8,105.69 154.25,106.05 156.7,106.48 159.15,107.04 161.6,107.78 164.05,108.67 166.5,109.61 168.95,110.6 171.4,111.6 173.85,112.47 176.3,113.1 178.75,113.41 181.2,113.55 183.65,113.69 186.1,113.94 188.55,114.18 191,114.17 193.45,113.91 195.9,113.74 198.35,113.96 200.8,114.71 203.25,116.04 205.7,117.43 208.15,118.34 210.6,118.79 213.05,119.1 215.5,119.46 217.95,119.87 220.4,120.31 222.85,120.63 225.3,120.63 227.75,120.2 230.2,119.6 232.65,119.06 235.1,118.77 237.55,118.87 240,119.49"/>
<polyline points="44,156.43 46.45,145.66 48.9,136.77 51.35,129.26 53.8,122.32 56.25,114.91 58.7,106.77 61.15,99.32 63.6,95.92 66.05,100.57 68.5,110.72 70.95,121.96 73.4,131.65 75.85,137.87 78.3,139.16 80.75,134.77 83.2,126.03 85.65,117.27 88.1,109.65 90.55,101.25 93,91.23 95.45,81.58 97.9,74.42 100.35,71.28 102.8,73.63 105.25,81.48 107.7,92.24 110.15,103.46 112.6,113.55 115.05,121.36 117.5,126.83 119.95,130.97 122.4,133.21 124.85,131.78 127.3,127.99 129.75,124.71 132.2,122.76 134.65,121.35 137.1,119.77 139.55,117.71 142,115.18 144.45,112.31 146.9,109.11 149.35,105.48 151.8,101.43 154.25,97.24 156.7,93.61 159.15,91.24 161.6,90.69 164.05,92.22 166.5,95.68 168.95,100.67 171.4,106.63 173.85,112.74 176.3,118.1 178.75,121.92 181.2,123.74 183.65,123.63 186.1,121.89 188.55,118.82 191,114.67 193.45,109.85 195.9,105.4 198.35,102.42 200.8,101.68 203.25,103.57 205.7,107.69 208.15,112.85 210.6,118.09 213.05,123.14 215.5,127.77 217.95,131.51 220.4,133.92 222.85,134.7 225.3,133.64 227.75,130.67 230.2,126.41 232.65,121.77 235.1,117.61 237.55,114.62 240,113.33"/>
<polyline points="44,124.46 46.45,121.22 48.9,118.83 51.35,116.76 53.8,114.39 56.25,111.21 58.7,107.68 61.15,105.09 63.6,105.83 66.05,110.15 68.5,115.74 70.95,121.07 73.4,125.1 75.85,127.01 78.3,126.24 80.75,122.82 83.2,118.62 85.65,115.09 88.1,111.56 90.55,107.15 93,102.48 95.45,98.69 97.9,96.68 100.35,97.16 102.8,100.58 105.25,105.85 107.7,111.53 110.15,116.55 112.6,120.19 115.05,122.09 117.5,122.76 119.95,122.49 122.4,120.59 124.85,117.19 127.3,114.02 129.75,112.29 132.2,111.82 134.65,112.12 137.1,112.75 139.55,113.41 142,114 144.45,114.41 146.9,114.38 149.35,113.64 151.8,112.01 154.25,109.68 156.7,107.03 159.15,104.52 161.6,102.58 164.05,101.51 166.5,101.47 168.95,102.56 171.4,104.7 173.85,107.57 176.3,110.79 178.75,113.92 181.2,116.72 183.65,119.03 186.1,120.63 188.55,121.21 191,120.52 193.45,118.73 195.9,116.41 198.35,114.18 200.8,112.54 203.25,111.85 205.7,111.87 208.15,112.32 210.6,113.36 213.05,115.25 215.5,117.93 217.95,121.1 220.4,124.33 222.85,127.09 225.3,128.81 227.75,129.13 230.2,128.18 232.65,126.17 235.1,123.4 237.55,120.27 240,117.27"/>
<polyline points="44,153.09 46.45,146.53 48.9,140.35 51.35,133.83 53.8,126.38 56.25,117.88 58.7,109.41 61.15,103.11 63.6,101.94 66.05,105.59 68.5,111.65 70.95,118.5 73.4,124.77 75.85,129.19 78.3,130.69 80.75,129.08 83.2,126.2 85.65,122.81 88.1,117.76 90.55,110.34 93,101.8 95.45,93.86 97.9,88.01 100.35,85.67 102.8,87.65 105.25,92.93 107.7,100.15 110.15,108.18 112.6,115.96 115.05,122.73 117.5,128.47 119.95,132.51 122.4,133.35 124.85,131.07 127.3,127.39 129.75,123.43 132.2,119.33 134.65,115.26 137.1,111.52 139.55,108.44 142,106.25 144.45,104.98 146.9,104.39 149.35,104.18 151.8,104.11 154.25,104.2 156.7,104.54 159.15,105.18 161.6,106.19 164.05,107.47 166.5,108.92 168.95,110.52 171.4,112.13 173.85,113.58 176.3,114.7 178.75,115.4 181.2,115.82 183.65,116.1 186.1,116.22 188.55,115.99 191,115.18 193.45,114 195.9,112.9 198.35,112.22 200.8,112.24 203.25,112.97 205.7,113.92 208.15,114.75 210.6,115.68 213.05,117.04 215.5,118.85 217.95,120.94 220.4,123.08 222.85,124.87 225.3,125.89 227.75,125.97 230.2,125.31 232.65,124.1 235.1,122.57 237.55,121 240,119.74"/>
<polyline points="44,122.92 46.45,117.14 48.9,111.59 51.35,106.2 53.8,100.83 56.25,95.34 58.7,90.26 61.15,86.98 63.6,88.05 66.05,95.34 68.5,106.67 70.95,119.39 73.4,131.61 75.85,141.6 78.3,147.88 80.75,149.42 83.2,146.91 85.65,142.39 88.1,135.86 90.55,126.4 93,114.37 95.45,101.69 97.9,90.28 100.35,81.81 102.8,77.79 105.25,78.4 107.7,82.41 110.15,88.58 112.6,95.88 115.05,103.33 117.5,110.58 119.95,117.58 122.4,123.16 124.85,125.94 127.3,126.64 129.75,126.67 132.2,126.19 134.65,124.91 137.1,122.76 139.55,120.05 142,117.22 144.45,114.64 146.9,112.29 149.35,109.92 151.8,107.24 154.25,104.24 156.7,101.28 159.15,98.72 161.6,96.95 164.05,96.21 166.5,96.49 168.95,97.8 171.4,100.05 173.85,102.91 176.3,106.01 178.75,108.94 181.2,111.53 183.65,113.84 186.1,115.89 188.55,117.47 191,118.23 193.45,118.06 195.9,117.46 198.35,117.03 200.8,117.17 203.25,118.17 205.7,119.64 208.15,120.78 210.6,121.35 213.05,121.71 215.5,122.16 217.95,122.63 220.4,122.98 222.85,123.02 225.3,122.42 227.75,120.92 230.2,118.86 232.65,116.73 235.1,114.95 237.55,113.91 240,113.95"/>
<polyline points="44,123.73 46.45,124.05 48.9,122.64 51.35,119.45 53.8,114.57 56.25,108.65 58.7,103.17 61.15,100.47 63.6,102.9 66.05,109.23 68.5,117.11 70.95,124.84 73.4,130.88 75.85,133.9 78.3,133.02 80.75,128.65 83.2,122.84 85.65,116.32 88.1,108.56 90.55,99.78 93,91.58 95.45,85.57 97.9,82.86 100.35,84.32 102.8,89.81 105.25,97.71 107.7,106.38 110.15,114.54 112.6,121.17 115.05,125.91 117.5,129.09 119.95,130.38 122.4,129.07 124.85,126.09 127.3,123.17 129.75,120.99 132.2,119.31 134.65,117.83 137.1,116.36 139.55,114.85 142,113.33 144.45,111.74 146.9,109.99 149.35,108.02 151.8,105.94 154.25,104.11 156.7,102.9 159.15,102.62 161.6,103.39 164.05,105.1 166.5,107.55 168.95,110.42 171.4,113.29 173.85,115.73 176.3,117.38 178.75,118.11 181.2,118.05 183.65,117.46 186.1,116.5 188.55,115.24 191,113.79 193.45,112.54 195.9,111.89 198.35,112.06 200.8,113.1 203.25,114.7 205.7,116.21 208.15,117.28 210.6,118.04 213.05,118.7 215.5,119.33 217.95,119.97 220.4,120.61 222.85,121.12 225.3,121.32 227.75,121.26 230.2,121.08 232.65,120.86 235.1,120.62 237.55,120.44 240,120.42"/>
<polyline points="44,156.26 46.45,146.57 48.9,134.08 51.35,119.49 53.8,103.85 56.25,89.04 58.7,78.02 61.15,74.72 63.6,82.63 66.05,98.7 68.5,117.74 70.95,135.69 73.4,149.18 75.85,155.59 78.3,153.65 80.75,144.64 83.2,133 85.65,120.82 88.1,107.79 90.55,94.41 93,83.12 95.45,75.94 97.9,73.9 100.35,77.64 102.8,86.39 105.25,97.28 107.7,107.83 110.15,116.62 112.6,122.82 115.05,126.7 117.5,129.41 119.95,130.56 122.4,128.66 124.85,124.71 127.3,120.94 129.75,117.88 132.2,114.99 134.65,112.03 137.1,109.17 139.55,106.78 142,105.18 144.45,104.53 146.9,104.79 149.35,105.83 151.8,107.42 154.25,109.34 156.7,111.22 159.15,112.73 161.6,113.58 164.05,113.64 166.5,113.06 168.95,112.25 171.4,111.69 173.85,111.79 176.3,112.82 178.75,114.81 181.2,117.61 183.65,120.71 186.1,123.36 188.55,124.65 191,123.95 193.45,121.28 195.9,117.16 198.35,112.46 200.8,108.23 203.25,105.3 205.7,104.09 208.15,104.84 210.6,107.7 213.05,112.36 215.5,117.95 217.95,123.34 220.4,127.46 222.85,129.41 225.3,128.73 227.75,125.73 230.2,121.27 232.65,116.45 235.1,112.41 237.55,110.07 240,110.03"/>
<polyline points="44,128.57 46.45,121.57 48.9,116.61 51.35,113.5 53.8,111.64 56.25,110.06 58.7,108.47 61.15,107.46 63.6,109.15 66.05,114.82 68.5,121.68 70.95,127.38 73.4,130.75 75.85,131.2 78.3,128.49 80.75,122.86 83.2,116.32 85.65,111.58 88.1,108.34 90.55,104.91 93,100.85 95.45,97.01 97.9,94.18 100.35,93.03 102.8,94.41 105.25,97.96 107.7,102.38 110.15,106.85 112.6,111.04 115.05,114.77 117.5,118.52 119.95,122.75 122.4,126.24 124.85,127.5 127.3,127.27 129.75,126.57 132.2,125.09 134.65,122.32 137.1,118.28 139.55,113.5 142,108.66 144.45,104.45 146.9,101.18 149.35,99.01 151.8,97.95 154.25,98.08 156.7,99.5 159.15,102.08 161.6,105.52 164.05,109.29 166.5,112.78 168.95,115.51 171.4,117.17 173.85,117.58 176.3,116.76 178.75,114.95 181.2,112.72 183.65,110.78 186.1,109.66 188.55,109.49 191,110.03 193.45,111 195.9,112.41 198.35,114.22 200.8,116.21 203.25,118.18 205.7,119.52 208.15,119.62 210.6,118.6 213.05,117.2 215.5,116.16 217.95,115.87 220.4,116.58 222.85,118.24 225.3,120.44 227.75,122.64 230.2,124.59 232.65,126.06 235.1,126.81 237.55,126.73 240,125.88"/>
<polyline points="44,142.75 46.45,137.72 48.9,132.08 51.35,125.5 53.8,118.15 56.25,111.16 58.7,106.62 61.15,106.93 63.6,111.06 66.05,116.75 68.5,122.5 70.95,127.06 73.4,129.33 75.85,128.52 78.3,124.95 80.75,120.57 83.2,115.93 85.65,110.07 88.1,102.74 90.55,95.25 93,89.07 95.45,85.4 97.9,85.31 100.35,89.05 102.8,95.36 105.25,102.88 107.7,110.55 110.15,117.42 112.6,123.06 115.05,127.63 117.5,130.57 119.95,130.72 122.4,128.58 124.85,125.76 127.3,122.94 129.75,119.94 132.2,116.54 134.65,112.75 137.1,108.89 139.55,105.48 142,102.83 144.45,100.73 146.9,98.77 149.35,96.7 151.8,94.8 154.25,93.45 156.7,93.07 159.15,93.9 161.6,95.85 164.05,98.8 166.5,102.55 168.95,106.63 171.4,110.45 173.85,113.43 176.3,115.24 178.75,116.05 181.2,116.07 183.65,115.29 186.1,113.42 188.55,110.38 191,106.97 193.45,104.31 195.9,103.23 198.35,104.35 200.8,107.4 203.25,111.21 205.7,115.01 208.15,119.06 210.6,123.64 213.05,128.45 215.5,132.99 217.95,136.72 220.4,138.93 222.85,138.96 225.3,136.95 227.75,133.6 230.2,129.58 232.65,125.57 235.1,122.27 237.55,120.36 240,120.17"/>
<polyline points="44,152.69 46.45,148.43 48.9,142.76 51.35,135.15 53.8,125.46 56.25,113.87 58.7,101.66 61.15,91.32 63.6,86.67 66.05,90.86 68.5,101.29 70.95,114.28 73.4,126.99 75.85,136.88 78.3,141.85 80.75,140.62 83.2,134.31 85.65,126.26 88.1,117.34 90.55,106.83 93,95.31 95.45,85.14 97.9,78.34 100.35,76.17 102.8,79.54 105.25,87.67 107.7,98.03 110.15,108.36 112.6,117.23 115.05,123.65 117.5,127.84 119.95,130.65 122.4,131.6 124.85,129.65 127.3,126.25 129.75,123.42 132.2,121.41 134.65,119.53 137.1,117.32 139.55,114.7 142,111.83 144.45,109.01 146.9,106.44 149.35,104.27 151.8,102.65 154.25,101.75 156.7,101.82 159.15,102.89 161.6,104.82 164.05,107.27 166.5,109.77 168.95,111.95 171.4,113.62 173.85,114.62 176.3,115 178.75,114.9 181.2,114.63 183.65,114.58 186.1,114.97 188.55,115.69 191,116.32 193.45,116.48 195.9,116.14 198.35,115.46 200.8,114.64 203.25,113.98 205.7,113.53 208.15,113.17 210.6,113.08 213.05,113.8 215.5,115.64 217.95,118.41 220.4,121.69 222.85,124.85 225.3,127.13 227.75,127.88 230.2,127 232.65,124.78 235.1,121.7 237.55,118.42 240,115.67"/>
<polyline points="44,159.82 46.45,151.49 48.9,143.95 51.35,136.95 53.8,130.27 56.25,123.63 58.7,116.89 61.15,110.88 63.6,107.19 66.05,108.33 68.5,113.89 70.95,120.93 73.4,127.48 75.85,132.1 78.3,133.72 80.75,131.71 83.2,126.3 85.65,119.83 88.1,113.88 90.55,107.76 93,100.74 95.45,93.77 97.9,88.21 100.35,85.1 102.8,85.3 105.25,89.31 107.7,95.9 110.15,103.58 112.6,111.3 115.05,118.25 117.5,124.02 119.95,128.94 122.4,132.8 124.85,134.23 127.3,132.93 129.75,130.29 132.2,127.24 134.65,123.58 137.1,119.24 139.55,114.48 142,109.76 144.45,105.56 146.9,102.18 149.35,99.58 151.8,97.62 154.25,96.18 156.7,95.43 159.15,95.58 161.6,96.73 164.05,98.9 166.5,101.8 168.95,105.14 171.4,108.68 173.85,112.09 176.3,115.04 178.75,117.28 181.2,118.66 183.65,119.39 186.1,119.72 188.55,119.75 191,119.25 193.45,117.93 195.9,116 198.35,113.98 200.8,112.36 203.25,111.5 205.7,111.49 208.15,111.8 210.6,112.01 213.05,112.44 215.5,113.62 217.95,115.65 220.4,118.37 222.85,121.42 225.3,124.27 227.75,126.23 230.2,126.97 232.65,126.65 235.1,125.52 237.55,123.9 240,122.23"/>
<polyline points="44,116.1 46.45,114.79 48.9,112.55 51.35,109.31 53.8,104.93 56.25,99.37 58.7,93.48 61.15,88.83 63.6,88.16 66.05,92.79 68.5,100.7 70.95,110.07 73.4,119.5 75.85,127.68 78.3,133.4 80.75,135.86 83.2,135.92 85.65,134.97 88.1,132.31 90.55,126.86 93,119.02 95.45,110.32 97.9,102.25 100.35,96.16 102.8,93.34 105.25,93.63 107.7,96.03 110.15,99.66 112.6,103.8 115.05,107.8 117.5,111.62 119.95,115.19 122.4,117.39 124.85,117.46 127.3,116.57 129.75,115.94 132.2,115.63 134.65,115.47 137.1,115.39 139.55,115.41 142,115.57 144.45,115.9 146.9,116.28 149.35,116.58 151.8,116.63 154.25,116.42 156.7,116 159.15,115.44 161.6,114.79 164.05,114.08 166.5,113.29 168.95,112.48 171.4,111.69 173.85,110.94 176.3,110.23 178.75,109.61 181.2,109.19 183.65,109.14 186.1,109.52 188.55,110.27 191,111.21 193.45,112.24 195.9,113.44 198.35,114.87 200.8,116.51 203.25,118.33 205.7,119.98 208.15,121.12 210.6,121.73 213.05,121.98 215.5,122.03 217.95,121.91 220.4,121.66 222.85,121.24 225.3,120.57 227.75,119.59 230.2,118.45 232.65,117.3 235.1,116.26 237.55,115.45 240,114.99"/>
<polyline points="44,155.27 46.45,146.81 48.9,138.63 51.35,130.1 53.8,120.63 56.25,110.01 58.7,99.71 61.15,92.58 63.6,93.08 66.05,101.35 68.5,113.29 70.95,125.95 73.4,137.02 75.85,144.44 78.3,146.63 80.75,143.13 83.2,136.83 85.65,129.83 88.1,120.87 90.55,108.78 93,95.28 95.45,82.98 97.9,74.12 100.35,70.6 102.8,73.68 105.25,81.76 107.7,92.5 110.15,103.94 112.6,114.47 115.05,122.92 117.5,129.46 119.95,133.67 122.4,133.67 124.85,129.43 127.3,123.77 129.75,118.74 132.2,114.56 134.65,111.16 137.1,108.55 139.55,106.76 142,105.75 144.45,105.41 146.9,105.42 149.35,105.47 151.8,105.35 154.25,105.18 156.7,105.17 159.15,105.55 161.6,106.48 164.05,107.96 166.5,109.89 168.95,112.18 171.4,114.61 173.85,116.86 176.3,118.6 178.75,119.58 181.2,119.84 183.65,119.5 186.1,118.61 188.55,117.09 191,114.81 193.45,112.11 195.9,109.6 198.35,107.82 200.8,107.16 203.25,107.75 205.7,109.04 208.15,110.51 210.6,112.22 213.05,114.37 215.5,116.89 217.95,119.55 220.4,122.07 222.85,124.06 225.3,125.12 227.75,125.15 230.2,124.44 232.65,123.32 235.1,122.13 237.55,121.19 240,120.83"/>
<polyline points="44,126.68 46.45,121.85 48.9,117.8 51.35,114.21 53.8,110.75 56.25,107.11 58.7,103.71 61.15,101.68 63.6,103.22 66.05,109.53 68.5,118.46 70.95,127.89 73.4,136.32 75.85,142.42 78.3,145.11 80.75,143.77 83.2,139.44 85.65,133.92 88.1,127.1 90.55,118.29 93,108.03 95.45,97.96 97.9,89.62 100.35,84.26 102.8,82.99 105.25,85.53 107.7,90.64 110.15,97.12 112.6,104.02 115.05,110.45 117.5,116.2 119.95,121.21 122.4,124.45 124.85,125.04 127.3,124.02 129.75,122.67 132.2,121.17 134.65,119.38 137.1,117.3 139.55,115.12 142,113.07 144.45,111.34 146.9,109.88 149.35,108.47 151.8,106.95 154.25,105.36 156.7,103.99 159.15,103.1 161.6,102.97 164.05,103.68 166.5,105.2 168.95,107.44 171.4,110.24 173.85,113.25 176.3,116.11 178.75,118.45 181.2,120.12 183.65,121.12 186.1,121.47 188.55,121.04 191,119.66 193.45,117.42 195.9,114.84 198.35,112.49 200.8,110.8 203.25,110.06 205.7,110.04 208.15,110.23 210.6,110.58 213.05,111.35 215.5,112.69 217.95,114.44 220.4,116.42 222.85,118.36 225.3,119.89 227.75,120.76 230.2,121.15 232.65,121.3 235.1,121.45 237.55,121.82 240,122.61"/>
<polyline points="44,159.96 46.45,156.67 48.9,150.95 51.35,142.41 53.8,131.15 56.25,117.62 58.7,103.19 61.15,90.3 63.6,82.46 66.05,82.95 68.5,90.3 70.95,101.46 73.4,113.9 75.85,125.13 78.3,132.82 80.75,135.22 83.2,132.34 85.65,126.46 88.1,118.4 90.55,107.71 93,95.14 95.45,83.31 97.9,74.8 100.35,71.53 102.8,74.83 105.25,84.5 107.7,98.18 110.15,113.25 112.6,127.39 115.05,138.58 117.5,145.8 119.95,149.09 122.4,148.03 124.85,142.07 127.3,133.11 129.75,124.24 132.2,117.17 134.65,112.24 137.1,109.32 139.55,108.02 142,107.87 144.45,108.4 146.9,108.97 149.35,108.86 151.8,107.53 154.25,104.8 156.7,101.14 159.15,97.21 161.6,93.87 164.05,91.88 166.5,91.71 168.95,93.6 171.4,97.53 173.85,102.98 176.3,109.17 178.75,115.11 181.2,120 183.65,123.35 186.1,124.9 188.55,124.48 191,122.07 193.45,118.02 195.9,113.4 198.35,109.47 200.8,107.26 203.25,107.51 205.7,110.1 208.15,114.18 210.6,118.93 213.05,123.99 215.5,128.91 217.95,132.95 220.4,135.49 222.85,136.07 225.3,134.45 227.75,130.65 230.2,125.41 232.65,119.75 235.1,114.67 237.55,110.97 240,109.22"/>
<polyline points="44,140.51 46.45,138.98 48.9,137.09 51.35,134.52 53.8,130.96 56.25,126.12 58.7,119.72 61.15,112.3 63.6,105.41 66.05,101.93 68.5,104.19 70.95,110.18 73.4,117.4 75.85,124.18 78.3,129.08 80.75,130.85 83.2,128.73 85.65,123.64 88.1,117.98 90.55,111.83 93,104.09 95.45,94.94 97.9,86.13 100.35,79.42 102.8,76.18 105.25,77.66 107.7,83.67 110.15,92.57 112.6,102.71 115.05,112.83 117.5,121.75 119.95,129.1 122.4,134.92 124.85,138.16 127.3,137.64 129.75,134.56 132.2,130.81 134.65,127.07 137.1,123.36 139.55,119.77 142,116.49 144.45,113.67 146.9,111.4 149.35,109.54 151.8,107.84 154.25,106.07 156.7,104.21 159.15,102.49 161.6,101.14 164.05,100.43 166.5,100.46 168.95,101.21 171.4,102.62 173.85,104.6 176.3,106.88 178.75,109.16 181.2,111.14 183.65,112.69 186.1,113.88 188.55,114.77 191,115.28 193.45,115.23 195.9,114.62 198.35,113.87 200.8,113.5 203.25,113.86 205.7,115.19 208.15,117.21 210.6,119.31 213.05,121.22 215.5,123.12 217.95,125.1 220.4,126.97 222.85,128.52 225.3,129.47 227.75,129.49 230.2,128.33 232.65,126.19 235.1,123.44 237.55,120.45 240,117.61"/>
<polyline points="44,147.82 46.45,138.99 48.9,130.08 51.35,120.67 53.8,110.32 56.25,98.71 58.7,86.88 61.15,77.24 63.6,74.18 66.05,80.31 68.5,92.06 70.95,105.92 73.4,119.37 75.85,130.19 78.3,136.49 80.75,137.13 83.2,133.81 85.65,129.68 88.1,124.21 90.55,115.73 93,104.81 95.45,94.02 97.9,85.77 100.35,81.99 102.8,84.39 105.25,92.32 107.7,103.33 110.15,115.19 112.6,126.2 115.05,134.84 117.5,140.9 119.95,144.49 122.4,144.08 124.85,138.55 127.3,130.34 129.75,122.32 132.2,115.34 134.65,109.52 137.1,104.91 139.55,101.49 142,99.18 144.45,97.82 146.9,97.11 149.35,96.76 151.8,96.54 154.25,96.45 156.7,96.71 159.15,97.52 161.6,99.05 164.05,101.34 166.5,104.27 168.95,107.73 171.4,111.54 173.85,115.36 176.3,118.85 178.75,121.69 181.2,123.75 183.65,125.1 186.1,125.78 188.55,125.71 191,124.72 193.45,122.91 195.9,120.77 198.35,118.85 200.8,117.53 203.25,117.08 205.7,117.2 208.15,117.36 210.6,117.46 213.05,117.73 215.5,118.27 217.95,118.93 220.4,119.54 222.85,119.83 225.3,119.48 227.75,118.3 230.2,116.53 232.65,114.5 235.1,112.55 237.55,111.02 240,110.21"/>
<polyline points="44,165.43 46.45,155.25 48.9,146.07 51.35,137.19 53.8,127.95 56.25,117.88 58.7,107.74 61.15,99.5 63.6,96.83 66.05,101.78 68.5,111.2 70.95,122.1 73.4,132.34 75.85,140.06 78.3,143.68 80.75,142.27 83.2,137.43 85.65,131.81 88.1,124.95 90.55,115.48 93,103.99 95.45,92.74 97.9,83.79 100.35,78.85 102.8,79.4 105.25,84.84 107.7,93.13 110.15,102.42 112.6,111.31 115.05,118.57 117.5,124.09 119.95,128.01 122.4,129 124.85,126.05 127.3,121.13 129.75,116.54 132.2,112.73 134.65,109.53 137.1,106.77 139.55,104.49 142,102.84 144.45,101.96 146.9,101.66 149.35,101.59 151.8,101.39 154.25,101.06 156.7,100.87 159.15,101.13 161.6,102.11 164.05,103.87 166.5,106.27 168.95,109.21 171.4,112.44 173.85,115.54 176.3,118.05 178.75,119.57 181.2,120.02 183.65,119.59 186.1,118.43 188.55,116.49 191,113.58 193.45,109.91 195.9,106.31 198.35,103.62 200.8,102.44 203.25,103.16 205.7,105.24 208.15,107.8 210.6,110.62 213.05,113.98 215.5,117.93 217.95,122.14 220.4,126.2 222.85,129.6 225.3,131.75 227.75,132.25 230.2,131.41 232.65,129.71 235.1,127.61 237.55,125.59 240,124.14"/>
<polyline points="44,129.42 46.45,132.95 48.9,135.75 51.35,137.31 53.8,137.12 56.25,134.78 58.7,130.01 61.15,123.19 63.6,115.62 66.05,109.56 68.5,107.35 70.95,108.14 73.4,110.37 75.85,113.06 78.3,115.36 80.75,116.41 83.2,115.59 85.65,113.29 88.1,111.1 90.55,109.08 93,106.19 95.45,102.13 97.9,97.99 100.35,94.91 102.8,93.86 105.25,95.74 107.7,100.61 110.15,107.33 112.6,114.72 115.05,121.86 117.5,127.89 119.95,132.43 122.4,135.5 124.85,136.43 127.3,134.29 129.75,129.9 132.2,124.88 134.65,120.1 137.1,115.81 139.55,112.18 142,109.28 144.45,107.13 146.9,105.69 149.35,104.88 151.8,104.53 154.25,104.48 156.7,104.68 159.15,105.22 161.6,106.19 164.05,107.65 166.5,109.55 168.95,111.77 171.4,114.14 173.85,116.5 176.3,118.64 178.75,120.3 181.2,121.28 183.65,121.53 186.1,121.14 188.55,120.23 191,118.86 193.45,117.02 195.9,114.76 198.35,112.46 200.8,110.52 203.25,109.24 205.7,108.85 208.15,109.24 210.6,110.05 213.05,111.08 215.5,112.44 217.95,114.21 220.4,116.27 222.85,118.46 225.3,120.56 227.75,122.31 230.2,123.45 232.65,124 235.1,124.1 237.55,123.89 240,123.49"/>
<polyline points="44,124.13 46.45,120.89 48.9,115.07 51.35,106.69 53.8,96.3 56.25,86.03 58.7,79.33 61.15,80.78 63.6,90.04 66.05,103.22 68.5,117.48 70.95,130.33 73.4,139.4 75.85,142.86 78.3,140.23 80.75,134.34 83.2,126.9 85.65,116.83 88.1,103.69 90.55,89.84 93,78.24 95.45,71.24 97.9,70.68 100.35,77.29 102.8,88.83 105.25,102.41 107.7,115.55 110.15,126.22 112.6,133.17 115.05,136.73 117.5,136.82 119.95,132.31 122.4,124.39 124.85,116.58 127.3,111.16 129.75,108.2 132.2,107.07 134.65,106.9 137.1,106.89 139.55,106.67 142,106.13 144.45,105.09 146.9,103.4 149.35,101.03 151.8,98.43 154.25,96.24 156.7,95.07 159.15,95.42 161.6,97.37 164.05,100.76 166.5,105.3 168.95,110.35 171.4,115.1 173.85,118.73 176.3,120.69 178.75,121 181.2,119.91 183.65,117.72 186.1,114.56 188.55,110.6 191,106.7 193.45,103.92 195.9,103.05 198.35,104.49 200.8,107.98 203.25,112.27 205.7,116.27 208.15,119.84 210.6,123.15 213.05,126.08 215.5,128.44 217.95,130.09 220.4,130.79 222.85,130.26 225.3,128.64 227.75,126.54 230.2,124.42 232.65,122.63 235.1,121.45 237.55,121.12 240,121.95"/>
<polyline points="44,162.08 46.45,149.21 48.9,135.88 51.35,122.17 53.8,108.42 56.25,96.17 58.7,87.86 61.15,87.24 63.6,95.34 66.05,108.51 68.5,123.49 70.95,137.53 73.4,148.14 75.85,153.23 78.3,151.66 80.75,145.19 83.2,136.2 85.65,124.41 88.1,109.36 90.55,92.82 93,77.76 95.45,66.8 97.9,61.99 100.35,64.78 102.8,74.11 105.25,87.59 107.7,102.86 110.15,117.75 112.6,130.35 115.05,139.93 117.5,145.94 119.95,146.72 122.4,141.82 124.85,133.78 127.3,125.27 129.75,117.47 132.2,111.06 134.65,106.49 137.1,103.86 139.55,102.89 142,103.14 144.45,103.98 146.9,104.87 149.35,105.37 151.8,105.41 154.25,105.12 156.7,104.72 159.15,104.45 161.6,104.46 164.05,104.85 166.5,105.77 168.95,107.27 171.4,109.22 173.85,111.41 176.3,113.57 178.75,115.63 181.2,117.56 183.65,119.19 186.1,120.14 188.55,119.99 191,118.7 193.45,116.75 195.9,114.68 198.35,112.97 200.8,112.01 203.25,111.54 205.7,111.21 208.15,111.24 210.6,112.14 213.05,114.07 215.5,116.86 217.95,120.17 220.4,123.49 222.85,126.16 225.3,127.69 227.75,128.12 230.2,127.59 232.65,126.31 235.1,124.59 237.55,122.86 240,121.62"/>
<polyline points="44,149.13 46.45,143.91 48.9,139.76 51.35,136.3 53.8,132.52 56.25,127.33 58.7,119.69 61.15,109.69 63.6,99.39 66.05,92.99 68.5,95.15 70.95,103.61 73.4,114.37 75.85,124.97 78.3,133.37 80.75,137.72 83.2,136.72 85.65,131.21 88.1,124.95 90.55,118.37 93,109.2 95.45,96.72 97.9,83.29 100.35,71.6 102.8,63.95 105.25,62.59 107.7,68.08 110.15,78.27 112.6,90.91 115.05,104.3 117.5,116.86 119.95,127.88 122.4,137.44 124.85,143.93 127.3,144.89 129.75,141.46 132.2,136.48 134.65,131.17 137.1,125.68 139.55,120.34 142,115.51 144.45,111.41 146.9,108.12 149.35,105.55 151.8,103.53 154.25,101.92 156.7,100.73 159.15,100.18 161.6,100.43 164.05,101.59 166.5,103.61 168.95,106.25 171.4,109.23 173.85,112.3 176.3,115.08 178.75,117.24 181.2,118.52 183.65,118.85 186.1,118.46 188.55,117.59 191,116.39 193.45,114.88 195.9,113.11 198.35,111.52 200.8,110.57 203.25,110.55 205.7,111.61 208.15,113.45 210.6,115.41 213.05,117.08 215.5,118.56 217.95,120.01 220.4,121.36 222.85,122.52 225.3,123.38 227.75,123.78 230.2,123.53 232.65,122.8 235.1,121.89 237.55,121.04 240,120.43"/>
<polyline points="44,127.9 46.45,128.46 48.9,128.85 51.35,128.69 53.8,127.57 56.25,125.09 58.7,121.09 61.15,116.46 63.6,112.99 66.05,113.6 68.5,118.6 70.95,125.38 73.4,132.04 75.85,137.18 78.3,139.54 80.75,138.22 83.2,132.99 85.65,125.82 88.1,118.32 90.55,109.84 93,99.72 95.45,89.1 97.9,79.78 100.35,73.29 102.8,70.9 105.25,73.5 107.7,80.07 110.15,89.04 112.6,99.06 115.05,108.98 117.5,117.94 119.95,125.9 122.4,132.55 124.85,136.32 127.3,136.53 129.75,134.52 132.2,131.46 134.65,127.33 137.1,122.16 139.55,116.47 142,110.98 144.45,106.37 146.9,102.95 149.35,100.36 151.8,98.08 154.25,95.64 156.7,93.24 159.15,91.28 161.6,90.23 164.05,90.47 166.5,92.03 168.95,94.77 171.4,98.55 173.85,103 176.3,107.51 178.75,111.44 181.2,114.29 183.65,116.07 186.1,116.96 188.55,117.05 191,116.08 193.45,113.76 195.9,110.59 198.35,107.67 200.8,105.98 203.25,106.21 205.7,108.55 208.15,111.98 210.6,115.42 213.05,118.91 215.5,122.85 217.95,127.14 220.4,131.34 222.85,134.95 225.3,137.3 227.75,137.69 230.2,135.92 232.65,132.63 235.1,128.51 237.55,124.28 240,120.62"/>
<polyline points="44,127.13 46.45,119.14 48.9,111.72 51.35,104.59 53.8,97.3 56.25,89.84 58.7,83.38 61.15,80.33 63.6,83.76 66.05,92.31 68.5,102.72 70.95,112.9 73.4,121.22 75.85,126.37 78.3,127.49 80.75,125.1 83.2,122.04 85.65,119.36 88.1,115.82 90.55,110.74 93,105.54 95.45,101.83 97.9,100.74 100.35,103.24 102.8,109.38 105.25,117.16 107.7,124.55 110.15,130.11 112.6,132.79 115.05,132.38 117.5,129.75 119.95,125.02 122.4,117.45 124.85,108.41 127.3,100.82 129.75,96.2 132.2,94.31 134.65,94.4 137.1,95.56 139.55,97.14 142,98.91 144.45,100.75 146.9,102.34 149.35,103.31 151.8,103.44 154.25,103 156.7,102.35 159.15,101.93 161.6,102.09 164.05,102.91 166.5,104.44 168.95,106.69 171.4,109.41 173.85,112.19 176.3,114.57 178.75,116.24 181.2,117.26 183.65,117.72 186.1,117.5 188.55,116.24 191,113.69 193.45,110.44 195.9,107.41 198.35,105.39 200.8,105 203.25,106.2 205.7,108.13 208.15,110.23 210.6,112.86 213.05,116.39 215.5,120.67 217.95,125.3 220.4,129.76 222.85,133.32 225.3,135.23 227.75,135.37 230.2,134.14 232.65,131.94 235.1,129.24 237.55,126.54 240,124.42"/>
<polyline points="44,147.01 46.45,141.18 48.9,135.24 51.35,128.59 53.8,120.58 56.25,110.68 58.7,99.88 61.15,90.71 63.6,87.9 66.05,94.32 68.5,106.14 70.95,119.6 73.4,132.09 75.85,141.34 78.3,145.41 80.75,143.16 83.2,136.56 85.65,129.07 88.1,120.19 90.55,108.13 93,93.56 95.45,79.38 97.9,68.3 100.35,62.55 102.8,64.12 105.25,72.38 107.7,84.74 110.15,98.77 112.6,112.57 115.05,124.41 117.5,133.91 119.95,141.02 122.4,143.86 124.85,140.92 127.3,134.61 129.75,127.9 132.2,121.63 134.65,115.88 137.1,110.82 139.55,106.68 142,103.62 144.45,101.7 146.9,100.58 149.35,99.83 151.8,99.04 154.25,98.18 156.7,97.53 159.15,97.39 161.6,98.06 164.05,99.63 166.5,101.99 168.95,105.06 171.4,108.61 173.85,112.24 176.3,115.47 178.75,117.85 181.2,119.26 183.65,119.82 186.1,119.63 188.55,118.57 191,116.39 193.45,113.26 195.9,109.98 198.35,107.4 200.8,106.15 203.25,106.65 205.7,108.44 208.15,110.66 210.6,113.09 213.05,116.03 215.5,119.55 217.95,123.3 220.4,126.89 222.85,129.81 225.3,131.45 227.75,131.41 230.2,130.03 232.65,127.79 235.1,125.22 237.55,122.83 240,121.13"/>
<polyline points="44,127.76 46.45,126.24 48.9,124.4 51.35,121.48 53.8,116.77 56.25,110.78 58.7,105.21 61.15,103.55 63.6,108 66.05,115.65 68.5,123.75 70.95,130.49 73.4,134.42 75.85,134.37 78.3,129.82 80.75,122.58 83.2,115.59 85.65,108.67 88.1,100.49 90.55,91.47 93,83.61 95.45,78.69 97.9,78.05 100.35,82.78 102.8,92.03 105.25,103.45 107.7,114.98 110.15,125.04 112.6,132.36 115.05,136.84 117.5,138.79 119.95,137.16 122.4,131.26 124.85,123.35 127.3,116.12 129.75,110.46 132.2,106.46 134.65,104.04 137.1,102.96 139.55,102.92 142,103.59 144.45,104.61 146.9,105.6 149.35,106.31 151.8,106.7 154.25,106.96 156.7,107.28 159.15,107.85 161.6,108.72 164.05,109.83 166.5,111.16 168.95,112.6 171.4,113.95 173.85,114.97 176.3,115.44 178.75,115.37 181.2,114.94 183.65,114.3 186.1,113.4 188.55,112.12 191,110.53 193.45,109.15 195.9,108.49 198.35,108.89 200.8,110.53 203.25,112.98 205.7,115.54 208.15,117.97 210.6,120.42 213.05,122.92 215.5,125.22 217.95,127.08 220.4,128.2 222.85,128.26 225.3,127.05 227.75,124.89 230.2,122.21 232.65,119.46 235.1,117.04 237.55,115.39 240,114.88"/>
<polyline points="44,144.91 46.45,129.37 48.9,115.79 51.35,104.5 53.8,96.09 56.25,91.73 58.7,93.36 61.15,102.59 63.6,116.37 66.05,130.66 68.5,142.52 70.95,149.74 73.4,150.82 75.85,145.25 78.3,134.48 80.75,122.16 83.2,110.02 85.65,98.05 88.1,86.94 90.55,78.78 93,75.18 95.45,76.9 97.9,84.18 100.35,95.84 102.8,109.01 105.25,121.01 107.7,129.96 110.15,134.64 112.6,135.09 115.05,132.44 117.5,127.18 119.95,119.4 122.4,111.35 124.85,105.92 127.3,104.17 129.75,105.55 132.2,108.87 134.65,112.7 137.1,115.83 139.55,117.65 142,118.05 144.45,117.15 146.9,115.14 149.35,112.32 151.8,109.17 154.25,106.22 156.7,104 159.15,102.95 161.6,103.29 164.05,105.05 166.5,108.08 168.95,111.94 171.4,116.03 173.85,119.67 176.3,122.33 178.75,123.71 181.2,123.67 183.65,122.21 186.1,119.41 188.55,115.63 191,111.61 193.45,108.19 195.9,106.06 198.35,105.7 200.8,107.09 203.25,109.75 205.7,113.2 208.15,117.12 210.6,121.12 213.05,124.63 215.5,127.16 217.95,128.33 220.4,127.9 222.85,125.87 225.3,122.67 227.75,118.98 230.2,115.48 232.65,112.82 235.1,111.47 237.55,111.73 240,113.56"/>
<polyline points="44,165.34 46.45,150 48.9,136.71 51.35,125.46 53.8,115.98 56.25,107.71 58.7,100.93 61.15,97 63.6,98.89 66.05,108.75 68.5,122.54 70.95,135.91 73.4,146.02 75.85,150.82 78.3,148.98 80.75,140.22 83.2,126.96 85.65,113.7 88.1,101.51 90.55,89.55 93,78.39 95.45,70.37 97.9,67.32 100.35,70.22 102.8,79.58 105.25,93.88 107.7,109.66 110.15,123.87 112.6,134.44 115.05,139.97 117.5,140.72 119.95,137.96 122.4,131.67 124.85,121.89 127.3,111.81 129.75,104.98 132.2,102.29 134.65,102.93 137.1,105.54 139.55,108.8 142,111.85 144.45,114.28 146.9,115.83 149.35,116.33 151.8,115.68 154.25,114 156.7,111.66 159.15,109.12 161.6,106.89 164.05,105.4 166.5,104.89 168.95,105.53 171.4,107.28 173.85,109.89 176.3,112.92 178.75,115.89 181.2,118.38 183.65,120.15 186.1,121.02 188.55,120.84 191,119.49 193.45,117.14 195.9,114.34 198.35,111.75 200.8,109.94 203.25,109.36 205.7,109.97 208.15,111.41 210.6,113.43 213.05,115.99 215.5,118.9 217.95,121.75 220.4,124.11 222.85,125.61 225.3,125.9 227.75,124.85 230.2,122.74 232.65,120.04 235.1,117.29 237.55,115.01 240,113.67"/>
<polyline points="44,101.83 46.45,107.7 48.9,112.69 51.35,117.1 53.8,120.49 56.25,122.35 58.7,122.16 61.15,119.88 63.6,116.43 66.05,113.75 68.5,114.33 70.95,117.51 73.4,121.25 75.85,124.32 78.3,125.82 80.75,125.01 83.2,121.46 85.65,115.66 88.1,109.8 90.55,104.73 93,99.63 95.45,94.11 97.9,89.29 100.35,86.43 102.8,86.43 105.25,90.03 107.7,97.24 110.15,106.54 112.6,116.26 115.05,125.09 117.5,131.94 119.95,136.26 122.4,138.24 124.85,137.58 127.3,133.57 129.75,127.23 132.2,120.76 134.65,115.47 137.1,111.56 139.55,108.95 142,107.39 144.45,106.66 146.9,106.61 149.35,107.1 151.8,107.9 154.25,108.83 156.7,109.74 159.15,110.64 161.6,111.56 164.05,112.53 166.5,113.55 168.95,114.55 171.4,115.47 173.85,116.25 176.3,116.81 178.75,117.03 181.2,116.84 183.65,116.22 186.1,115.33 188.55,114.32 191,113.29 193.45,112.23 195.9,111.15 198.35,110.3 200.8,109.95 203.25,110.33 205.7,111.54 208.15,113.44 210.6,115.61 213.05,117.71 215.5,119.72 217.95,121.63 220.4,123.29 222.85,124.55 225.3,125.24 227.75,125.18 230.2,124.25 232.65,122.55 235.1,120.36 237.55,117.99 240,115.73"/>
<polyline points="44,172.37 46.45,159.23 48.9,147.41 51.35,137.27 53.8,128.56 56.25,120.95 58.7,114.02 61.15,107.69 63.6,102.77 66.05,100.96 68.5,104.33 70.95,111.49 73.4,119.75 75.85,127.29 78.3,132.73 80.75,134.95 83.2,133.33 85.65,128.4 88.1,122.5 90.55,116.6 93,110.02 95.45,102.61 97.9,95.76 100.35,90.92 102.8,89.13 105.25,91.18 107.7,97.04 110.15,105.06 112.6,113.5 115.05,121.03 117.5,126.59 119.95,129.75 122.4,130.89 124.85,129.84 127.3,126 129.75,120.49 132.2,115.51 134.65,112.06 137.1,110.02 139.55,108.99 142,108.62 144.45,108.72 146.9,109.18 149.35,109.87 151.8,110.52 154.25,110.89 156.7,110.84 159.15,110.46 161.6,109.93 164.05,109.46 166.5,109.25 168.95,109.37 171.4,109.9 173.85,110.89 176.3,112.23 178.75,113.75 181.2,115.23 183.65,116.49 186.1,117.49 188.55,118.19 191,118.47 193.45,118.11 195.9,117.01 198.35,115.41 200.8,113.71 203.25,112.28 205.7,111.46 208.15,111.29 210.6,111.51 213.05,111.97 215.5,112.86 217.95,114.37 220.4,116.41 222.85,118.77 225.3,121.18 227.75,123.25 230.2,124.6 232.65,125.12 235.1,124.91 237.55,124.12 240,122.93"/>
<polyline points="44,132.09 46.45,136.03 48.9,138.73 51.35,139.91 53.8,139.26 56.25,136.48 58.7,131.63 61.15,125.8 63.6,120.96 66.05,119.93 68.5,122.47 70.95,126.25 73.4,129.75 75.85,131.77 78.3,131.29 80.75,127.6 83.2,120.8 85.65,112.99 88.1,105.33 90.55,97.09 93,87.81 95.45,78.74 97.9,71.5 100.35,67.42 102.8,67.59 105.25,72.54 107.7,81.06 110.15,91.59 112.6,102.81 115.05,113.59 117.5,123.12 119.95,131.35 122.4,137.72 124.85,140.77 127.3,140.38 129.75,138.04 132.2,134.76 134.65,130.63 137.1,125.89 139.55,121.04 142,116.61 144.45,112.97 146.9,110.18 149.35,107.94 151.8,105.87 154.25,103.74 156.7,101.69 159.15,100 161.6,98.96 164.05,98.79 166.5,99.48 168.95,100.96 171.4,103.14 173.85,105.76 176.3,108.45 178.75,110.82 181.2,112.59 183.65,113.8 186.1,114.55 188.55,114.85 191,114.51 193.45,113.39 195.9,111.86 198.35,110.6 200.8,110.15 203.25,110.91 205.7,112.87 208.15,115.34 210.6,117.74 213.05,120.17 215.5,122.83 217.95,125.61 220.4,128.23 222.85,130.38 225.3,131.63 227.75,131.56 230.2,130.15 232.65,127.82 235.1,125 237.55,122.11 240,119.59"/>
<polyline points="44,128.1 46.45,139.87 48.9,151.63 51.35,160.97 53.8,165.67 56.25,164.69 58.7,158.65 61.15,150.16 63.6,142.28 66.05,134.34 68.5,125.56 70.95,116.22 73.4,106.82 75.85,97.73 78.3,89.3 80.75,82.82 83.2,80.49 85.65,81.66 88.1,83.94 90.55,85.85 93,87.55 95.45,89.45 97.9,91.96 100.35,95.94 102.8,101.43 105.25,107.43 107.7,113.28 110.15,118.87 112.6,124.11 115.05,129.42 117.5,135.29 119.95,140.65 122.4,143.71 124.85,144.58 127.3,143.98 129.75,141.49 132.2,136.55 134.65,129.45 137.1,121.3 139.55,113.34 142,106.48 144.45,100.98 146.9,96.79 149.35,93.86 151.8,92.3 154.25,92.37 156.7,94.23 159.15,97.85 161.6,102.93 164.05,108.9 166.5,115.11 168.95,120.84 171.4,125.39 173.85,128.18 176.3,128.87 178.75,127.47 181.2,124.39 183.65,120.21 186.1,115.52 188.55,110.85 191,106.77 193.45,104 195.9,103.11 198.35,104.33 200.8,107.58 203.25,112.22 205.7,117.26 208.15,121.9 210.6,125.75 213.05,128.5 215.5,129.83 217.95,129.63 220.4,127.94 222.85,124.93 225.3,120.91 227.75,116.57 230.2,112.61 232.65,109.66 235.1,108.1 237.55,108.17 240,109.87"/>
<polyline points="44,150.59 46.45,147.57 48.9,142.74 51.35,137.9 53.8,133.21 56.25,128.45 58.7,123.4 61.15,117.88 63.6,112.05 66.05,106.8 68.5,103.73 70.95,104.73 73.4,108.98 75.85,114.58 78.3,120.22 80.75,124.84 83.2,127.49 85.65,127.54 88.1,125.21 90.55,122.08 93,118.72 95.45,114.42 97.9,108.96 100.35,103.36 102.8,98.77 105.25,96.1 107.7,96.13 110.15,99.03 112.6,103.78 115.05,109.25 117.5,114.61 119.95,119.15 122.4,122.61 124.85,125.24 127.3,126.74 129.75,126.19 132.2,123.86 134.65,121.06 137.1,118.41 139.55,115.85 142,113.37 144.45,111.1 146.9,109.2 149.35,107.84 151.8,106.97 154.25,106.34 156.7,105.73 159.15,104.99 161.6,104.32 164.05,103.95 166.5,104.1 168.95,104.91 171.4,106.34 173.85,108.28 176.3,110.61 178.75,113.06 181.2,115.3 183.65,117 186.1,117.97 188.55,118.29 191,118.08 193.45,117.38 195.9,116.07 198.35,114.12 200.8,111.99 203.25,110.24 205.7,109.32 208.15,109.56 210.6,110.83 213.05,112.55 215.5,114.3 217.95,116.19 220.4,118.36 222.85,120.68 225.3,122.92 227.75,124.82 230.2,126.04 232.65,126.25 235.1,125.53 237.55,124.19 240,122.57"/>
<polyline points="44,111.01 46.45,110.61 48.9,109.35 51.35,107.78 53.8,106.11 56.25,104.38 58.7,102.5 61.15,100.73 63.6,100.09 66.05,102.48 68.5,109.81 70.95,120.27 73.4,131.09 75.85,140.3 78.3,146.36 80.75,148.03 83.2,144.66 85.65,137.01 88.1,127.61 90.55,117.51 93,106.38 95.45,94.67 97.9,84.31 100.35,77.15 102.8,74.54 105.25,77.46 107.7,85.72 110.15,97.45 112.6,110.56 115.05,123.23 117.5,133.78 119.95,141.24 122.4,145.42 124.85,145.58 127.3,140.77 129.75,132.21 132.2,122.58 134.65,113.65 137.1,106.13 139.55,100.25 142,96.05 144.45,93.51 146.9,92.63 149.35,93.2 151.8,94.75 154.25,96.77 156.7,98.9 159.15,101.17 161.6,103.61 164.05,106.28 166.5,109.15 168.95,112.02 171.4,114.7 173.85,117.11 176.3,118.97 178.75,120.03 181.2,120.08 183.65,119.13 186.1,117.54 188.55,115.65 191,113.58 193.45,111.19 195.9,108.43 198.35,105.87 200.8,104.23 203.25,103.96 205.7,105.36 208.15,108.06 210.6,111.06 213.05,113.81 215.5,116.51 217.95,119.4 220.4,122.33 222.85,125.05 225.3,127.29 227.75,128.63 230.2,128.68 232.65,127.65 235.1,126.02 237.55,124.25 240,122.72"/>
<polyline points="44,144.89 46.45,141.93 48.9,138.95 51.35,135.04 53.8,129.49 56.25,121.87 58.7,112.3 61.15,102.48 63.6,95.36 66.05,95.29 68.5,103.01 70.95,115.07 73.4,128.61 75.85,141.11 78.3,150.09 80.75,153.45 83.2,150.15 85.65,142.25 88.1,131.82 90.55,118.28 93,101.37 95.45,83.44 97.9,67.75 100.35,57.09 102.8,53.64 105.25,58.65 107.7,70.49 110.15,86.42 112.6,103.75 115.05,120.03 117.5,133.26 119.95,142.86 122.4,148.24 124.85,147.9 127.3,142.21 129.75,134.3 132.2,126.84 134.65,120.66 137.1,115.97 139.55,112.68 142,110.52 144.45,109.22 146.9,108.47 149.35,107.87 151.8,107.06 154.25,105.82 156.7,104.28 159.15,102.76 161.6,101.64 164.05,101.25 166.5,101.77 168.95,103.22 171.4,105.56 173.85,108.57 176.3,111.86 178.75,114.99 181.2,117.57 183.65,119.48 186.1,120.71 188.55,121.25 191,120.99 193.45,119.82 195.9,118.02 198.35,116.12 200.8,114.59 203.25,113.77 205.7,113.74 208.15,114.03 210.6,114.2 213.05,114.32 215.5,114.7 217.95,115.45 220.4,116.52 222.85,117.84 225.3,119.21 227.75,120.3 230.2,120.96 232.65,121.32 235.1,121.49 237.55,121.54 240,121.54"/>
<polyline points="44,114.26 46.45,111.84 48.9,109.66 51.35,109.12 53.8,110.37 56.25,112.91 58.7,115.73 61.15,117.7 63.6,118.39 66.05,118.23 68.5,118.68 70.95,119.71 73.4,120.56 75.85,121.33 78.3,122.36 80.75,123.79 83.2,125.42 85.65,127.01 88.1,129.01 90.55,130.81 93,130.5 95.45,126.71 97.9,119.69 100.35,110.58 102.8,100.99 105.25,92.85 107.7,87.9 110.15,86.59 112.6,88.74 115.05,93.77 117.5,100.58 119.95,107.84 122.4,114.52 124.85,119.33 127.3,120.85 129.75,119.17 132.2,116.03 134.65,113 137.1,110.81 139.55,109.7 142,109.64 144.45,110.51 146.9,112.14 149.35,114.17 151.8,116.02 154.25,117.09 156.7,116.96 159.15,115.67 161.6,113.53 164.05,111.06 166.5,108.86 168.95,107.36 171.4,106.87 173.85,107.52 176.3,109.09 178.75,111.1 181.2,112.95 183.65,114.09 186.1,114.3 188.55,113.56 191,111.98 193.45,109.71 195.9,107.06 198.35,104.75 200.8,103.6 203.25,104.16 205.7,106.63 208.15,110.68 210.6,115.33 213.05,119.67 215.5,123.33 217.95,126.21 220.4,128.17 222.85,129.18 225.3,129.35 227.75,128.82 230.2,127.67 232.65,126.18 235.1,124.73 237.55,123.5 240,122.49"/>
<polyline points="44,165.51 46.45,157.54 48.9,149.22 51.35,141.09 53.8,132.47 56.25,122.96 58.7,112.4 61.15,101.1 63.6,90.49 66.05,82.87 68.5,81.36 70.95,86.11 73.4,94.71 75.85,105.22 78.3,115.88 80.75,124.9 83.2,130.77 85.65,132.72 88.1,132.16 90.55,130.02 93,125.51 95.45,118.18 97.9,109.53 100.35,101.59 102.8,96.11 105.25,94.59 107.7,97.89 110.15,104.92 112.6,114.02 115.05,123.62 117.5,132.24 119.95,138.77 122.4,142.98 124.85,144.47 127.3,142 129.75,135.66 132.2,127.64 134.65,119.87 137.1,112.89 139.55,106.87 142,101.92 144.45,98.19 146.9,95.82 149.35,94.72 151.8,94.38 154.25,94.19 156.7,93.67 159.15,92.93 161.6,92.29 164.05,92.16 166.5,92.92 168.95,94.68 171.4,97.47 173.85,101.29 176.3,105.87 178.75,110.72 181.2,115.27 183.65,118.99 186.1,121.77 188.55,123.61 191,124.36 193.45,123.66 195.9,121.21 198.35,117.52 200.8,113.66 203.25,110.62 205.7,109.19 208.15,109.67 210.6,111.27 213.05,113.27 215.5,115.82 217.95,119.23 220.4,123.29 222.85,127.43 225.3,131.05 227.75,133.38 230.2,133.68 232.65,131.79 235.1,128.31 237.55,123.95 240,119.46"/>
<polyline points="44,119.86 46.45,112.8 48.9,107.02 51.35,102.87 53.8,100.3 56.25,98.99 58.7,99.14 61.15,101.44 63.6,107.35 66.05,116 68.5,124.52 70.95,131.05 73.4,134.5 75.85,134.31 78.3,130.48 80.75,123.76 83.2,116.7 85.65,111.12 88.1,106.69 90.55,102.76 93,99.82 95.45,98.51 97.9,99.09 100.35,101.63 102.8,105.99 105.25,110.81 107.7,114.73 110.15,117.03 112.6,117.56 115.05,116.67 117.5,115.48 119.95,114.7 122.4,113.86 124.85,113.05 127.3,113.37 129.75,115.06 132.2,116.97 134.65,117.9 137.1,117.29 139.55,115.29 142,112.57 144.45,109.71 146.9,106.9 149.35,104.13 151.8,101.42 154.25,99.13 156.7,97.73 159.15,97.6 161.6,98.98 164.05,101.72 166.5,105.48 168.95,109.87 171.4,114.27 173.85,118.03 176.3,120.56 178.75,121.48 181.2,120.92 183.65,119.22 186.1,116.73 188.55,113.66 191,110.19 193.45,106.93 195.9,104.73 198.35,104.18 200.8,105.55 203.25,108.68 205.7,112.58 208.15,116.27 210.6,119.54 213.05,122.44 215.5,124.87 217.95,126.62 220.4,127.62 222.85,127.73 225.3,126.84 227.75,125.12 230.2,123.17 232.65,121.46 235.1,120.35 237.55,120.04 240,120.66"/>
<polyline points="44,95.49 46.45,101.69 48.9,105.94 51.35,107.84 53.8,106.99 56.25,103.19 58.7,97.02 61.15,90.3 63.6,86.1 66.05,87.61 68.5,93.9 70.95,102.8 73.4,112.7 75.85,121.94 78.3,128.82 80.75,131.95 83.2,131.27 85.65,128.61 88.1,124.26 90.55,117.29 93,107.89 95.45,98.13 97.9,90.2 100.35,85.85 102.8,86.51 105.25,92.28 107.7,101.39 110.15,111.81 112.6,121.78 115.05,129.73 117.5,134.87 119.95,137.3 122.4,136.56 124.85,132.03 127.3,125.28 129.75,118.9 132.2,114.16 134.65,111.11 137.1,109.42 139.55,108.62 142,108.32 144.45,108.26 146.9,108.2 149.35,107.94 151.8,107.32 154.25,106.37 156.7,105.38 159.15,104.7 161.6,104.65 164.05,105.42 166.5,107.02 168.95,109.31 171.4,112.09 173.85,114.96 176.3,117.5 178.75,119.32 181.2,120.21 183.65,120.25 186.1,119.6 188.55,118.42 191,116.82 193.45,114.94 195.9,113.26 198.35,112.22 200.8,112.08 203.25,112.93 205.7,114.46 208.15,116.05 210.6,117.31 213.05,118.29 215.5,119.11 217.95,119.77 220.4,120.27 222.85,120.62 225.3,120.73 227.75,120.46 230.2,119.92 232.65,119.3 235.1,118.69 237.55,118.16 240,117.77"/>
<polyline points="44,119.3 46.45,116.92 48.9,113.28 51.35,108.35 53.8,102.04 56.25,94.21 58.7,85.79 61.15,78.83 63.6,76.95 66.05,82.78 68.5,93.56 70.95,106.22 73.4,118.59 75.85,128.76 78.3,135.06 80.75,136.42 83.2,134.03 85.65,130.6 88.1,125.93 90.55,118.6 93,108.9 95.45,98.98 97.9,90.95 100.35,86.52 102.8,87.22 105.25,92.75 107.7,101.16 110.15,110.55 112.6,119.51 115.05,126.76 117.5,132.02 119.95,135.47 122.4,135.91 124.85,132.17 127.3,126.06 129.75,120.04 132.2,114.9 134.65,110.66 137.1,107.29 139.55,104.78 142,103.07 144.45,102.13 146.9,101.7 149.35,101.51 151.8,101.31 154.25,101.08 156.7,101.06 159.15,101.47 161.6,102.52 164.05,104.28 166.5,106.65 168.95,109.53 171.4,112.73 173.85,115.93 176.3,118.77 178.75,120.9 181.2,122.2 183.65,122.74 186.1,122.6 188.55,121.73 191,119.96 193.45,117.4 195.9,114.58 198.35,112.12 200.8,110.47 203.25,109.98 205.7,110.37 208.15,111.07 210.6,111.91 213.05,113.13 215.5,114.85 217.95,116.88 220.4,118.98 222.85,120.85 225.3,122.09 227.75,122.39 230.2,121.93 232.65,121.03 235.1,120 237.55,119.15 240,118.79"/>
<polyline points="44,128.46 46.45,123.13 48.9,115.6 51.35,106.31 53.8,95.71 56.25,85.3 58.7,77.42 61.15,75.76 63.6,82.32 66.05,94.25 68.5,108.57 70.95,122.91 73.4,135.04 75.85,142.98 78.3,145.36 80.75,143.19 83.2,138.65 85.65,131.32 88.1,120.21 90.55,106.26 93,92 95.45,79.93 97.9,72.18 100.35,70.61 102.8,75.09 105.25,83.95 107.7,95.48 110.15,108.13 112.6,120.29 115.05,131.21 117.5,140.31 119.95,145.65 122.4,145.65 124.85,141.61 127.3,135.47 129.75,127.9 132.2,119.4 134.65,110.76 137.1,102.96 139.55,96.79 142,92.69 144.45,90.39 146.9,89.32 149.35,88.87 151.8,88.91 154.25,89.69 156.7,91.45 159.15,94.37 161.6,98.32 164.05,102.91 166.5,107.83 168.95,112.66 171.4,116.79 173.85,119.67 176.3,120.87 178.75,120.47 181.2,118.93 183.65,116.65 186.1,113.73 188.55,110.06 191,105.97 193.45,102.53 195.9,100.73 198.35,101.19 200.8,104.18 203.25,108.75 205.7,113.51 208.15,117.94 210.6,122.29 213.05,126.58 215.5,130.42 217.95,133.42 220.4,135.13 222.85,135.03 225.3,132.88 227.75,129.38 230.2,125.38 232.65,121.67 235.1,118.95 237.55,117.84 240,118.85"/>
</g>
<polygon points="44,124.33 46.45,120.34 48.9,117.17 51.35,114.03 53.8,110.29 56.25,102.05 58.7,92.15 61.15,85.2 63.6,83.97 66.05,88.88 68.5,99.57 70.95,110.28 73.4,115.45 75.85,119.24 78.3,121.7 80.75,120.13 83.2,117.17 85.65,114.24 88.1,110.64 90.55,101.84 93,89.52 95.45,80.5 97.9,74.04 100.35,71.05 102.8,72.67 105.25,78.2 107.7,85.98 110.15,96.86 112.6,107.85 115.05,112.92 117.5,116.43 119.95,119.09 122.4,120.11 124.85,118.89 127.3,116.5 129.75,114 132.2,111.54 134.65,108.74 137.1,105.87 139.55,103.64 142,102.06 144.45,101.11 146.9,100.55 149.35,100.12 151.8,99.58 154.25,98.97 156.7,98.51 159.15,98.42 161.6,98.89 164.05,99.97 166.5,101.58 168.95,103.63 171.4,105.97 173.85,108.29 176.3,110.29 178.75,111.67 181.2,112.41 183.65,112.61 186.1,112.35 188.55,111.54 191,110.04 193.45,108.02 195.9,106.03 198.35,104.62 200.8,104.15 203.25,104.84 205.7,106.28 208.15,107.89 210.6,109.58 213.05,111.56 215.5,113.85 217.95,116.22 220.4,118.42 222.85,120.12 225.3,120.94 227.75,120.67 230.2,119.57 232.65,117.98 235.1,116.22 237.55,114.63 240,113.54 240,124.49 237.55,125.58 235.1,127.17 232.65,128.93 230.2,130.52 227.75,131.62 225.3,131.89 222.85,131.06 220.4,129.36 217.95,127.17 215.5,124.8 213.05,122.51 210.6,120.53 208.15,118.84 205.7,117.22 203.25,115.79 200.8,115.09 198.35,115.56 195.9,116.98 193.45,118.97 191,120.99 188.55,122.48 186.1,123.3 183.65,123.56 181.2,123.36 178.75,122.62 176.3,121.24 173.85,119.24 171.4,116.92 168.95,114.58 166.5,112.53 164.05,110.94 161.6,109.87 159.15,109.41 156.7,109.54 154.25,110.04 151.8,110.72 149.35,111.38 146.9,111.98 144.45,112.8 142,114.08 139.55,116 137.1,118.44 134.65,121.2 132.2,124.75 129.75,129.34 127.3,134.67 124.85,140.28 122.4,143.73 119.95,142.7 117.5,137.87 115.05,130.9 112.6,122.57 110.15,117.37 107.7,111.22 105.25,103.48 102.8,97.97 100.35,96.37 97.9,99.36 95.45,105.83 93,113.99 90.55,119.79 88.1,126.38 85.65,134.02 83.2,140.25 80.75,145.47 78.3,147.04 75.85,144.57 73.4,136.6 70.95,125.62 68.5,118.72 66.05,113.69 63.6,109.31 61.15,110.54 58.7,115.23 56.25,119.89 53.8,125.63 51.35,133.58 48.9,140.25 46.45,145.67 44,149.67" fill="#587a9c" fill-opacity="0.74"/>
<line x1="43" x2="241" y1="116.5" y2="116.5" stroke="#1a1a1a" stroke-width="1"/>
<polyline fill="none" stroke="#2e62a6" stroke-width="1.5" points="44,137 46.45,133 48.9,128.71 51.35,123.8 53.8,117.96 56.25,110.97 58.7,103.69 61.15,97.87 63.6,96.64 66.05,101.28 68.5,109.15 70.95,117.95 73.4,126.03 75.85,131.9 78.3,134.37 80.75,132.8 83.2,128.71 85.65,124.13 88.1,118.51 90.55,110.82 93,101.76 95.45,93.17 97.9,86.7 100.35,83.71 102.8,85.32 105.25,90.84 107.7,98.6 110.15,107.11 112.6,115.21 115.05,121.91 117.5,127.15 119.95,130.89 122.4,131.92 124.85,129.58 127.3,125.58 129.75,121.67 132.2,118.15 134.65,114.97 137.1,112.16 139.55,109.82 142,108.07 144.45,106.95 146.9,106.27 149.35,105.75 151.8,105.15 154.25,104.5 156.7,104.02 159.15,103.92 161.6,104.38 164.05,105.45 166.5,107.06 168.95,109.11 171.4,111.45 173.85,113.77 176.3,115.76 178.75,117.15 181.2,117.89 183.65,118.09 186.1,117.82 188.55,117.01 191,115.51 193.45,113.5 195.9,111.51 198.35,110.09 200.8,109.62 203.25,110.31 205.7,111.75 208.15,113.36 210.6,115.06 213.05,117.04 215.5,119.32 217.95,121.69 220.4,123.89 222.85,125.59 225.3,126.41 227.75,126.15 230.2,125.05 232.65,123.45 235.1,121.69 237.55,120.1 240,119.02"/>
<line x1="142" x2="142" y1="39.9" y2="187.4" stroke="#1e1e1e" stroke-width="1.7" stroke-dasharray="7 8.6"/>
<text x="38.4" y="40.7" font-size="8.1" text-anchor="end" font-family="Liberation Serif, Times New Roman, serif" fill="#4d4d4d">0.050</text>
<text x="38.4" y="79.8" font-size="8.1" text-anchor="end" font-family="Liberation Serif, Times New Roman, serif" fill="#4d4d4d">0.025</text>
<text x="38.4" y="118.9" font-size="8.1" text-anchor="end" font-family="Liberation Serif, Times New Roman, serif" fill="#4d4d4d">0.000</text>
<text x="38.4" y="158" font-size="8.1" text-anchor="end" font-family="Liberation Serif, Times New Roman, serif" fill="#4d4d4d">-0.025</text>
<text x="38.4" y="197.1" font-size="8.1" text-anchor="end" font-family="Liberation Serif, Times New Roman, serif" fill="#4d4d4d">-0.050</text>
<text x="44" y="212.2" font-size="7.9" text-anchor="middle" font-family="Liberation Serif, Times New Roman, serif" fill="#4d4d4d">60</text>
<text x="63.6" y="212.2" font-size="7.9" text-anchor="middle" font-family="Liberation Serif, Times New Roman, serif" fill="#4d4d4d">72</text>
<text x="83.2" y="212.2" font-size="7.9" text-anchor="middle" font-family="Liberation Serif, Times New Roman, serif" fill="#4d4d4d">84</text>
<text x="102.8" y="212.2" font-size="7.9" text-anchor="middle" font-family="Liberation Serif, Times New Roman, serif" fill="#4d4d4d">96</text>
<text x="122.4" y="212.2" font-size="7.9" text-anchor="middle" font-family="Liberation Serif, Times New Roman, serif" fill="#4d4d4d">108</text>
<text x="142" y="212.2" font-size="7.9" text-anchor="middle" font-family="Liberation Serif, Times New Roman, serif" fill="#4d4d4d">120</text>
<text x="161.6" y="212.2" font-size="7.9" text-anchor="middle" font-family="Liberation Serif, Times New Roman, serif" fill="#4d4d4d">132</text>
<text x="181.2" y="212.2" font-size="7.9" text-anchor="middle" font-family="Liberation Serif, Times New Roman, serif" fill="#4d4d4d">144</text>
<text x="200.8" y="212.2" font-size="7.9" text-anchor="middle" font-family="Liberation Serif, Times New Roman, serif" fill="#4d4d4d">156</text>
<text x="220.4" y="212.2" font-size="7.9" text-anchor="middle" font-family="Liberation Serif, Times New Roman, serif" fill="#4d4d4d">168</text>
<text x="240" y="212.2" font-size="7.9" text-anchor="middle" font-family="Liberation Serif, Times New Roman, serif" fill="#4d4d4d">180</text>
<text x="142.3" y="222.7" font-size="10" text-anchor="middle" font-family="Liberation Serif, Times New Roman, serif" fill="#000">Time (h)</text>
<text x="12.8" y="120.2" font-size="10.7" text-anchor="middle" font-family="Liberation Serif, Times New Roman, serif" fill="#000" transform="rotate(-90 12.8 120.2)">Detrended luminescence</text>
<g>
<circle cx="342" cy="73.9" r="2.25" fill="#b3b3b3" stroke="#2a2a2a" stroke-width="0.6"/>
<circle cx="345" cy="73.9" r="2.25" fill="#b3b3b3" stroke="#2a2a2a" stroke-width="0.6"/>
<circle cx="336.3" cy="79.3" r="2.25" fill="#b3b3b3" stroke="#2a2a2a" stroke-width="0.6"/>
<circle cx="339.3" cy="79.3" r="2.25" fill="#b3b3b3" stroke="#2a2a2a" stroke-width="0.6"/>
<circle cx="342.3" cy="79.3" r="2.25" fill="#b3b3b3" stroke="#2a2a2a" stroke-width="0.6"/>
<circle cx="345.3" cy="79.3" r="2.25" fill="#b3b3b3" stroke="#2a2a2a" stroke-width="0.6"/>
<circle cx="348.3" cy="79.3" r="2.25" fill="#b3b3b3" stroke="#2a2a2a" stroke-width="0.6"/>
<circle cx="351.3" cy="79.3" r="2.25" fill="#b3b3b3" stroke="#2a2a2a" stroke-width="0.6"/>
<circle cx="339.7" cy="84.5" r="2.25" fill="#b3b3b3" stroke="#2a2a2a" stroke-width="0.6"/>
<circle cx="342.7" cy="84.5" r="2.25" fill="#b3b3b3" stroke="#2a2a2a" stroke-width="0.6"/>
<circle cx="345.7" cy="84.5" r="2.25" fill="#b3b3b3" stroke="#2a2a2a" stroke-width="0.6"/>
<circle cx="348.7" cy="84.5" r="2.25" fill="#b3b3b3" stroke="#2a2a2a" stroke-width="0.6"/>
<circle cx="345.8" cy="98.2" r="2.25" fill="#b3b3b3" stroke="#2a2a2a" stroke-width="0.6"/>
<circle cx="341.6" cy="103.3" r="2.25" fill="#b3b3b3" stroke="#2a2a2a" stroke-width="0.6"/>
<circle cx="344.6" cy="103.3" r="2.25" fill="#b3b3b3" stroke="#2a2a2a" stroke-width="0.6"/>
<circle cx="340.9" cy="116.5" r="2.25" fill="#b3b3b3" stroke="#2a2a2a" stroke-width="0.6"/>
<circle cx="343.9" cy="116.5" r="2.25" fill="#b3b3b3" stroke="#2a2a2a" stroke-width="0.6"/>
<circle cx="346.9" cy="116.5" r="2.25" fill="#b3b3b3" stroke="#2a2a2a" stroke-width="0.6"/>
<circle cx="331.1" cy="120.3" r="2.25" fill="#b3b3b3" stroke="#2a2a2a" stroke-width="0.6"/>
<circle cx="334.1" cy="120.3" r="2.25" fill="#b3b3b3" stroke="#2a2a2a" stroke-width="0.6"/>
<circle cx="337.1" cy="120.3" r="2.25" fill="#b3b3b3" stroke="#2a2a2a" stroke-width="0.6"/>
<circle cx="340.1" cy="120.3" r="2.25" fill="#b3b3b3" stroke="#2a2a2a" stroke-width="0.6"/>
<circle cx="343.1" cy="120.3" r="2.25" fill="#b3b3b3" stroke="#2a2a2a" stroke-width="0.6"/>
<circle cx="346.1" cy="120.3" r="2.25" fill="#b3b3b3" stroke="#2a2a2a" stroke-width="0.6"/>
<circle cx="349.1" cy="120.3" r="2.25" fill="#b3b3b3" stroke="#2a2a2a" stroke-width="0.6"/>
<circle cx="352.1" cy="120.3" r="2.25" fill="#b3b3b3" stroke="#2a2a2a" stroke-width="0.6"/>
<circle cx="355.1" cy="120.3" r="2.25" fill="#b3b3b3" stroke="#2a2a2a" stroke-width="0.6"/>
<circle cx="334.7" cy="124.2" r="2.25" fill="#b3b3b3" stroke="#2a2a2a" stroke-width="0.6"/>
<circle cx="337.7" cy="124.2" r="2.25" fill="#b3b3b3" stroke="#2a2a2a" stroke-width="0.6"/>
<circle cx="340.7" cy="124.2" r="2.25" fill="#b3b3b3" stroke="#2a2a2a" stroke-width="0.6"/>
<circle cx="343.7" cy="124.2" r="2.25" fill="#b3b3b3" stroke="#2a2a2a" stroke-width="0.6"/>
<circle cx="346.7" cy="124.2" r="2.25" fill="#b3b3b3" stroke="#2a2a2a" stroke-width="0.6"/>
<circle cx="349.7" cy="124.2" r="2.25" fill="#b3b3b3" stroke="#2a2a2a" stroke-width="0.6"/>
<circle cx="352.7" cy="124.2" r="2.25" fill="#b3b3b3" stroke="#2a2a2a" stroke-width="0.6"/>
<circle cx="355.7" cy="124.2" r="2.25" fill="#b3b3b3" stroke="#2a2a2a" stroke-width="0.6"/>
<circle cx="340.8" cy="128.5" r="2.25" fill="#b3b3b3" stroke="#2a2a2a" stroke-width="0.6"/>
<circle cx="343.8" cy="128.5" r="2.25" fill="#b3b3b3" stroke="#2a2a2a" stroke-width="0.6"/>
<circle cx="346.8" cy="128.5" r="2.25" fill="#b3b3b3" stroke="#2a2a2a" stroke-width="0.6"/>
<circle cx="340.7" cy="131.7" r="2.25" fill="#b3b3b3" stroke="#2a2a2a" stroke-width="0.6"/>
<circle cx="342" cy="134.7" r="2.25" fill="#b3b3b3" stroke="#2a2a2a" stroke-width="0.6"/>
<circle cx="345" cy="134.7" r="2.25" fill="#b3b3b3" stroke="#2a2a2a" stroke-width="0.6"/>
<circle cx="348" cy="134.7" r="2.25" fill="#b3b3b3" stroke="#2a2a2a" stroke-width="0.6"/>
<circle cx="351" cy="134.7" r="2.25" fill="#b3b3b3" stroke="#2a2a2a" stroke-width="0.6"/>
<circle cx="325.5" cy="138.4" r="2.25" fill="#b3b3b3" stroke="#2a2a2a" stroke-width="0.6"/>
<circle cx="328.5" cy="138.4" r="2.25" fill="#b3b3b3" stroke="#2a2a2a" stroke-width="0.6"/>
<circle cx="331.5" cy="138.4" r="2.25" fill="#b3b3b3" stroke="#2a2a2a" stroke-width="0.6"/>
<circle cx="334.5" cy="138.4" r="2.25" fill="#b3b3b3" stroke="#2a2a2a" stroke-width="0.6"/>
<circle cx="337.5" cy="138.4" r="2.25" fill="#b3b3b3" stroke="#2a2a2a" stroke-width="0.6"/>
<circle cx="340.5" cy="138.4" r="2.25" fill="#b3b3b3" stroke="#2a2a2a" stroke-width="0.6"/>
<circle cx="343.5" cy="138.4" r="2.25" fill="#b3b3b3" stroke="#2a2a2a" stroke-width="0.6"/>
<circle cx="346.5" cy="138.4" r="2.25" fill="#b3b3b3" stroke="#2a2a2a" stroke-width="0.6"/>
<circle cx="349.5" cy="138.4" r="2.25" fill="#b3b3b3" stroke="#2a2a2a" stroke-width="0.6"/>
<circle cx="352.5" cy="138.4" r="2.25" fill="#b3b3b3" stroke="#2a2a2a" stroke-width="0.6"/>
<circle cx="355.5" cy="138.4" r="2.25" fill="#b3b3b3" stroke="#2a2a2a" stroke-width="0.6"/>
<circle cx="358.5" cy="138.4" r="2.25" fill="#b3b3b3" stroke="#2a2a2a" stroke-width="0.6"/>
<circle cx="361.5" cy="138.4" r="2.25" fill="#b3b3b3" stroke="#2a2a2a" stroke-width="0.6"/>
<circle cx="344.7" cy="142.2" r="2.25" fill="#b3b3b3" stroke="#2a2a2a" stroke-width="0.6"/>
<circle cx="347.7" cy="142.2" r="2.25" fill="#b3b3b3" stroke="#2a2a2a" stroke-width="0.6"/>
<circle cx="340.6" cy="144.6" r="2.25" fill="#b3b3b3" stroke="#2a2a2a" stroke-width="0.6"/>
<circle cx="343.6" cy="144.6" r="2.25" fill="#b3b3b3" stroke="#2a2a2a" stroke-width="0.6"/>
<circle cx="339" cy="147.6" r="2.25" fill="#b3b3b3" stroke="#2a2a2a" stroke-width="0.6"/>
<circle cx="342" cy="147.6" r="2.25" fill="#b3b3b3" stroke="#2a2a2a" stroke-width="0.6"/>
<circle cx="345" cy="147.6" r="2.25" fill="#b3b3b3" stroke="#2a2a2a" stroke-width="0.6"/>
<circle cx="348" cy="147.6" r="2.25" fill="#b3b3b3" stroke="#2a2a2a" stroke-width="0.6"/>
<circle cx="347.6" cy="151.3" r="2.25" fill="#b3b3b3" stroke="#2a2a2a" stroke-width="0.6"/>
<circle cx="339.4" cy="153.8" r="2.25" fill="#b3b3b3" stroke="#2a2a2a" stroke-width="0.6"/>
<circle cx="336.8" cy="157.2" r="2.25" fill="#b3b3b3" stroke="#2a2a2a" stroke-width="0.6"/>
<circle cx="339.8" cy="157.2" r="2.25" fill="#b3b3b3" stroke="#2a2a2a" stroke-width="0.6"/>
<circle cx="342.8" cy="157.2" r="2.25" fill="#b3b3b3" stroke="#2a2a2a" stroke-width="0.6"/>
<circle cx="345.8" cy="157.2" r="2.25" fill="#b3b3b3" stroke="#2a2a2a" stroke-width="0.6"/>
<circle cx="348.8" cy="157.2" r="2.25" fill="#b3b3b3" stroke="#2a2a2a" stroke-width="0.6"/>
<circle cx="351.3" cy="159.3" r="2.25" fill="#b3b3b3" stroke="#2a2a2a" stroke-width="0.6"/>
</g>
<g stroke="#000" stroke-width="1.15">
<line x1="323.6" x2="364" y1="126.6" y2="126.6"/>
<line x1="333.6" x2="354" y1="103.6" y2="103.6"/>
<line x1="333.6" x2="354" y1="150" y2="150"/>
<line x1="343.8" x2="343.8" y1="103.6" y2="150"/>
</g>
<g stroke="#000" stroke-width="1.1" fill="none">
<path d="M303.2 49.5 V189 H385"/>
<line x1="297.4" x2="303.2" y1="50" y2="50"/>
<line x1="297.4" x2="303.2" y1="96.5" y2="96.5"/>
<line x1="297.4" x2="303.2" y1="143" y2="143"/>
<line x1="297.4" x2="303.2" y1="189" y2="189"/>
<line x1="343.6" x2="343.6" y1="189" y2="195"/>
</g>
<text x="296" y="53.6" font-size="10.1" text-anchor="end" font-weight="bold" font-family="Liberation Sans, Arial, sans-serif" fill="#000">35</text>
<text x="296" y="100.1" font-size="10.1" text-anchor="end" font-weight="bold" font-family="Liberation Sans, Arial, sans-serif" fill="#000">30</text>
<text x="296" y="146.6" font-size="10.1" text-anchor="end" font-weight="bold" font-family="Liberation Sans, Arial, sans-serif" fill="#000">25</text>
<text x="296" y="192.6" font-size="10.1" text-anchor="end" font-weight="bold" font-family="Liberation Sans, Arial, sans-serif" fill="#000">20</text>
<text x="278" y="119.8" font-size="9.7" text-anchor="middle" font-weight="bold" font-family="Liberation Sans, Arial, sans-serif" fill="#000" transform="rotate(-90 278 119.8)">Period (hours)</text>
<text x="343.6" y="205.4" font-size="9.5" text-anchor="middle" font-weight="bold" font-style="italic" font-family="Liberation Sans, Arial, sans-serif" fill="#000">pblsA::luc</text>
<circle cx="473.86" cy="146.57" r="2.25" fill="#5b57ee" stroke="#14143c" stroke-width="0.55"/>
<circle cx="470.53" cy="125.14" r="2.25" fill="#5b57ee" stroke="#14143c" stroke-width="0.55"/>
<circle cx="487.46" cy="140.85" r="2.25" fill="#5b57ee" stroke="#14143c" stroke-width="0.55"/>
<circle cx="480.42" cy="146.69" r="2.25" fill="#5b57ee" stroke="#14143c" stroke-width="0.55"/>
<circle cx="479.1" cy="127.76" r="2.25" fill="#5b57ee" stroke="#14143c" stroke-width="0.55"/>
<circle cx="472.58" cy="122.5" r="2.25" fill="#5b57ee" stroke="#14143c" stroke-width="0.55"/>
<circle cx="483.74" cy="140.73" r="2.25" fill="#5b57ee" stroke="#14143c" stroke-width="0.55"/>
<circle cx="476.85" cy="113.75" r="2.25" fill="#5b57ee" stroke="#14143c" stroke-width="0.55"/>
<circle cx="468.97" cy="143.9" r="2.25" fill="#5b57ee" stroke="#14143c" stroke-width="0.55"/>
<circle cx="473.94" cy="135.25" r="2.25" fill="#5b57ee" stroke="#14143c" stroke-width="0.55"/>
<circle cx="480.45" cy="130.16" r="2.25" fill="#5b57ee" stroke="#14143c" stroke-width="0.55"/>
<circle cx="475.82" cy="102.51" r="2.25" fill="#5b57ee" stroke="#14143c" stroke-width="0.55"/>
<circle cx="490.15" cy="135.5" r="2.25" fill="#5b57ee" stroke="#14143c" stroke-width="0.55"/>
<circle cx="475.34" cy="116.88" r="2.25" fill="#5b57ee" stroke="#14143c" stroke-width="0.55"/>
<circle cx="473.04" cy="111.38" r="2.25" fill="#5b57ee" stroke="#14143c" stroke-width="0.55"/>
<circle cx="481.73" cy="144.03" r="2.25" fill="#5b57ee" stroke="#14143c" stroke-width="0.55"/>
<circle cx="474.53" cy="118.91" r="2.25" fill="#5b57ee" stroke="#14143c" stroke-width="0.55"/>
<circle cx="470.68" cy="129.92" r="2.25" fill="#5b57ee" stroke="#14143c" stroke-width="0.55"/>
<circle cx="482.63" cy="138.22" r="2.25" fill="#5b57ee" stroke="#14143c" stroke-width="0.55"/>
<circle cx="474.62" cy="141.16" r="2.25" fill="#5b57ee" stroke="#14143c" stroke-width="0.55"/>
<circle cx="471.21" cy="119.4" r="2.25" fill="#5b57ee" stroke="#14143c" stroke-width="0.55"/>
<circle cx="472.55" cy="127.68" r="2.25" fill="#5b57ee" stroke="#14143c" stroke-width="0.55"/>
<circle cx="469.78" cy="121.89" r="2.25" fill="#5b57ee" stroke="#14143c" stroke-width="0.55"/>
<circle cx="480.27" cy="113.56" r="2.25" fill="#5b57ee" stroke="#14143c" stroke-width="0.55"/>
<circle cx="478.97" cy="133.37" r="2.25" fill="#5b57ee" stroke="#14143c" stroke-width="0.55"/>
<circle cx="472.31" cy="115.97" r="2.25" fill="#5b57ee" stroke="#14143c" stroke-width="0.55"/>
<circle cx="480.3" cy="140.77" r="2.25" fill="#5b57ee" stroke="#14143c" stroke-width="0.55"/>
<circle cx="487.2" cy="135.75" r="2.25" fill="#5b57ee" stroke="#14143c" stroke-width="0.55"/>
<circle cx="472.07" cy="143.52" r="2.25" fill="#5b57ee" stroke="#14143c" stroke-width="0.55"/>
<circle cx="485.59" cy="116.7" r="2.25" fill="#5b57ee" stroke="#14143c" stroke-width="0.55"/>
<circle cx="488.49" cy="138.81" r="2.25" fill="#5b57ee" stroke="#14143c" stroke-width="0.55"/>
<circle cx="478.91" cy="138.61" r="2.25" fill="#5b57ee" stroke="#14143c" stroke-width="0.55"/>
<circle cx="485.86" cy="138.06" r="2.25" fill="#5b57ee" stroke="#14143c" stroke-width="0.55"/>
<circle cx="477.51" cy="130.67" r="2.25" fill="#5b57ee" stroke="#14143c" stroke-width="0.55"/>
<circle cx="472.24" cy="137.95" r="2.25" fill="#5b57ee" stroke="#14143c" stroke-width="0.55"/>
<circle cx="468.09" cy="141.61" r="2.25" fill="#5b57ee" stroke="#14143c" stroke-width="0.55"/>
<circle cx="483.31" cy="124.2" r="2.25" fill="#5b57ee" stroke="#14143c" stroke-width="0.55"/>
<circle cx="480.72" cy="119.74" r="2.25" fill="#5b57ee" stroke="#14143c" stroke-width="0.55"/>
<circle cx="466.53" cy="116.21" r="2.25" fill="#5b57ee" stroke="#14143c" stroke-width="0.55"/>
<circle cx="468.22" cy="113.27" r="2.25" fill="#5b57ee" stroke="#14143c" stroke-width="0.55"/>
<circle cx="478.72" cy="144.43" r="2.25" fill="#5b57ee" stroke="#14143c" stroke-width="0.55"/>
<circle cx="471.41" cy="113.45" r="2.25" fill="#5b57ee" stroke="#14143c" stroke-width="0.55"/>
<circle cx="469.81" cy="133.01" r="2.25" fill="#5b57ee" stroke="#14143c" stroke-width="0.55"/>
<circle cx="484.11" cy="130.74" r="2.25" fill="#5b57ee" stroke="#14143c" stroke-width="0.55"/>
<circle cx="461.47" cy="135.74" r="2.25" fill="#5b57ee" stroke="#14143c" stroke-width="0.55"/>
<circle cx="470.88" cy="141.74" r="2.25" fill="#5b57ee" stroke="#14143c" stroke-width="0.55"/>
<circle cx="472.64" cy="132.8" r="2.25" fill="#5b57ee" stroke="#14143c" stroke-width="0.55"/>
<circle cx="482.26" cy="116.21" r="2.25" fill="#5b57ee" stroke="#14143c" stroke-width="0.55"/>
<circle cx="477.27" cy="146.95" r="2.25" fill="#5b57ee" stroke="#14143c" stroke-width="0.55"/>
<circle cx="477.25" cy="140.77" r="2.25" fill="#5b57ee" stroke="#14143c" stroke-width="0.55"/>
<circle cx="475.62" cy="127.82" r="2.25" fill="#5b57ee" stroke="#14143c" stroke-width="0.55"/>
<circle cx="481" cy="135.38" r="2.25" fill="#5b57ee" stroke="#14143c" stroke-width="0.55"/>
<circle cx="473.7" cy="108.8" r="2.25" fill="#5b57ee" stroke="#14143c" stroke-width="0.55"/>
<circle cx="475.67" cy="105.4" r="2.25" fill="#5b57ee" stroke="#14143c" stroke-width="0.55"/>
<circle cx="466.03" cy="133.36" r="2.25" fill="#5b57ee" stroke="#14143c" stroke-width="0.55"/>
<circle cx="477.73" cy="119.12" r="2.25" fill="#5b57ee" stroke="#14143c" stroke-width="0.55"/>
<circle cx="469.73" cy="116.51" r="2.25" fill="#5b57ee" stroke="#14143c" stroke-width="0.55"/>
<circle cx="473.8" cy="124.78" r="2.25" fill="#5b57ee" stroke="#14143c" stroke-width="0.55"/>
<circle cx="464.32" cy="135.81" r="2.25" fill="#5b57ee" stroke="#14143c" stroke-width="0.55"/>
<circle cx="483.6" cy="113.36" r="2.25" fill="#5b57ee" stroke="#14143c" stroke-width="0.55"/>
<circle cx="467.46" cy="136.29" r="2.25" fill="#5b57ee" stroke="#14143c" stroke-width="0.55"/>
<circle cx="469.87" cy="127.93" r="2.25" fill="#5b57ee" stroke="#14143c" stroke-width="0.55"/>
<circle cx="484.05" cy="119.59" r="2.25" fill="#5b57ee" stroke="#14143c" stroke-width="0.55"/>
<circle cx="475.69" cy="121.45" r="2.25" fill="#5b57ee" stroke="#14143c" stroke-width="0.55"/>
<circle cx="463.46" cy="138.17" r="2.25" fill="#5b57ee" stroke="#14143c" stroke-width="0.55"/>
<circle cx="482.41" cy="127.72" r="2.25" fill="#5b57ee" stroke="#14143c" stroke-width="0.55"/>
<circle cx="476" cy="143.74" r="2.25" fill="#5b57ee" stroke="#14143c" stroke-width="0.55"/>
<circle cx="479.14" cy="122.48" r="2.25" fill="#5b57ee" stroke="#14143c" stroke-width="0.55"/>
<circle cx="467.49" cy="119.41" r="2.25" fill="#5b57ee" stroke="#14143c" stroke-width="0.55"/>
<circle cx="477.57" cy="107.96" r="2.25" fill="#5b57ee" stroke="#14143c" stroke-width="0.55"/>
<circle cx="485.39" cy="133.11" r="2.25" fill="#5b57ee" stroke="#14143c" stroke-width="0.55"/>
<circle cx="470.89" cy="147.02" r="2.25" fill="#5b57ee" stroke="#14143c" stroke-width="0.55"/>
<circle cx="479.12" cy="149.57" r="2.25" fill="#5b57ee" stroke="#14143c" stroke-width="0.55"/>
<circle cx="476.14" cy="100.34" r="2.25" fill="#5b57ee" stroke="#14143c" stroke-width="0.55"/>
<circle cx="477.39" cy="124.81" r="2.25" fill="#5b57ee" stroke="#14143c" stroke-width="0.55"/>
<circle cx="481" cy="124.51" r="2.25" fill="#5b57ee" stroke="#14143c" stroke-width="0.55"/>
<circle cx="474.53" cy="151.99" r="2.25" fill="#5b57ee" stroke="#14143c" stroke-width="0.55"/>
<circle cx="475.79" cy="111.19" r="2.25" fill="#5b57ee" stroke="#14143c" stroke-width="0.55"/>
<circle cx="465.93" cy="138.16" r="2.25" fill="#5b57ee" stroke="#14143c" stroke-width="0.55"/>
<circle cx="464.74" cy="141.26" r="2.25" fill="#5b57ee" stroke="#14143c" stroke-width="0.55"/>
<circle cx="476.29" cy="149.5" r="2.25" fill="#5b57ee" stroke="#14143c" stroke-width="0.55"/>
<circle cx="482.01" cy="122.54" r="2.25" fill="#5b57ee" stroke="#14143c" stroke-width="0.55"/>
<circle cx="479.5" cy="116.39" r="2.25" fill="#5b57ee" stroke="#14143c" stroke-width="0.55"/>
<circle cx="477.2" cy="152.68" r="2.25" fill="#5b57ee" stroke="#14143c" stroke-width="0.55"/>
<circle cx="468.16" cy="124.37" r="2.25" fill="#5b57ee" stroke="#14143c" stroke-width="0.55"/>
<circle cx="474.61" cy="113.22" r="2.25" fill="#5b57ee" stroke="#14143c" stroke-width="0.55"/>
<circle cx="468.95" cy="138.98" r="2.25" fill="#5b57ee" stroke="#14143c" stroke-width="0.55"/>
<circle cx="483.52" cy="135.27" r="2.25" fill="#5b57ee" stroke="#14143c" stroke-width="0.55"/>
<circle cx="475.31" cy="132.5" r="2.25" fill="#5b57ee" stroke="#14143c" stroke-width="0.55"/>
<circle cx="471.5" cy="135.52" r="2.25" fill="#5b57ee" stroke="#14143c" stroke-width="0.55"/>
<circle cx="475.8" cy="77.6" r="2.25" fill="#5b57ee" stroke="#14143c" stroke-width="0.55"/>
<circle cx="475.6" cy="95" r="2.25" fill="#5b57ee" stroke="#14143c" stroke-width="0.55"/>
<circle cx="475.8" cy="160.6" r="2.25" fill="#5b57ee" stroke="#14143c" stroke-width="0.55"/>
<circle cx="474" cy="97.8" r="2.25" fill="#5b57ee" stroke="#14143c" stroke-width="0.55"/>
<g stroke="#000" stroke-width="1">
<line x1="459.3" x2="492.5" y1="128.4" y2="128.4"/>
<line x1="467.9" x2="483.9" y1="113.4" y2="113.4"/>
<line x1="467.9" x2="483.9" y1="143" y2="143"/>
<line x1="475.9" x2="475.9" y1="113.4" y2="143"/>
</g>
<circle cx="525.96" cy="160.04" r="2.25" fill="#b3b3b3" stroke="#2a2a2a" stroke-width="0.55"/>
<circle cx="538.42" cy="165.69" r="2.25" fill="#b3b3b3" stroke="#2a2a2a" stroke-width="0.55"/>
<circle cx="531.63" cy="160.29" r="2.25" fill="#b3b3b3" stroke="#2a2a2a" stroke-width="0.55"/>
<circle cx="522.71" cy="160.52" r="2.25" fill="#b3b3b3" stroke="#2a2a2a" stroke-width="0.55"/>
<circle cx="525.95" cy="171.46" r="2.25" fill="#b3b3b3" stroke="#2a2a2a" stroke-width="0.55"/>
<circle cx="517.43" cy="162.87" r="2.25" fill="#b3b3b3" stroke="#2a2a2a" stroke-width="0.55"/>
<circle cx="527.17" cy="163.5" r="2.25" fill="#b3b3b3" stroke="#2a2a2a" stroke-width="0.55"/>
<circle cx="524.39" cy="173.83" r="2.25" fill="#b3b3b3" stroke="#2a2a2a" stroke-width="0.55"/>
<circle cx="529.37" cy="176.79" r="2.25" fill="#b3b3b3" stroke="#2a2a2a" stroke-width="0.55"/>
<circle cx="531.97" cy="177.02" r="2.25" fill="#b3b3b3" stroke="#2a2a2a" stroke-width="0.55"/>
<circle cx="522.69" cy="181.97" r="2.25" fill="#b3b3b3" stroke="#2a2a2a" stroke-width="0.55"/>
<circle cx="534.15" cy="163.67" r="2.25" fill="#b3b3b3" stroke="#2a2a2a" stroke-width="0.55"/>
<circle cx="530.94" cy="163.22" r="2.25" fill="#b3b3b3" stroke="#2a2a2a" stroke-width="0.55"/>
<circle cx="536.85" cy="168.37" r="2.25" fill="#b3b3b3" stroke="#2a2a2a" stroke-width="0.55"/>
<circle cx="527.7" cy="174.09" r="2.25" fill="#b3b3b3" stroke="#2a2a2a" stroke-width="0.55"/>
<circle cx="535.34" cy="171" r="2.25" fill="#b3b3b3" stroke="#2a2a2a" stroke-width="0.55"/>
<circle cx="523.62" cy="163.08" r="2.25" fill="#b3b3b3" stroke="#2a2a2a" stroke-width="0.55"/>
<circle cx="525.66" cy="182.42" r="2.25" fill="#b3b3b3" stroke="#2a2a2a" stroke-width="0.55"/>
<circle cx="528.85" cy="165.64" r="2.25" fill="#b3b3b3" stroke="#2a2a2a" stroke-width="0.55"/>
<circle cx="515.74" cy="171.88" r="2.25" fill="#b3b3b3" stroke="#2a2a2a" stroke-width="0.55"/>
<circle cx="523.59" cy="168.94" r="2.25" fill="#b3b3b3" stroke="#2a2a2a" stroke-width="0.55"/>
<circle cx="540.36" cy="168.61" r="2.25" fill="#b3b3b3" stroke="#2a2a2a" stroke-width="0.55"/>
<circle cx="530.45" cy="174.74" r="2.25" fill="#b3b3b3" stroke="#2a2a2a" stroke-width="0.55"/>
<circle cx="536.58" cy="163.43" r="2.25" fill="#b3b3b3" stroke="#2a2a2a" stroke-width="0.55"/>
<circle cx="526.07" cy="176.84" r="2.25" fill="#b3b3b3" stroke="#2a2a2a" stroke-width="0.55"/>
<circle cx="516.16" cy="166.31" r="2.25" fill="#b3b3b3" stroke="#2a2a2a" stroke-width="0.55"/>
<circle cx="527.8" cy="168.82" r="2.25" fill="#b3b3b3" stroke="#2a2a2a" stroke-width="0.55"/>
<circle cx="522.06" cy="171.58" r="2.25" fill="#b3b3b3" stroke="#2a2a2a" stroke-width="0.55"/>
<circle cx="519.41" cy="171.55" r="2.25" fill="#b3b3b3" stroke="#2a2a2a" stroke-width="0.55"/>
<circle cx="523.85" cy="180.1" r="2.25" fill="#b3b3b3" stroke="#2a2a2a" stroke-width="0.55"/>
<circle cx="526.86" cy="179.59" r="2.25" fill="#b3b3b3" stroke="#2a2a2a" stroke-width="0.55"/>
<circle cx="525.29" cy="165.84" r="2.25" fill="#b3b3b3" stroke="#2a2a2a" stroke-width="0.55"/>
<circle cx="514.11" cy="169.23" r="2.25" fill="#b3b3b3" stroke="#2a2a2a" stroke-width="0.55"/>
<circle cx="532.45" cy="165.46" r="2.25" fill="#b3b3b3" stroke="#2a2a2a" stroke-width="0.55"/>
<circle cx="519.32" cy="165.71" r="2.25" fill="#b3b3b3" stroke="#2a2a2a" stroke-width="0.55"/>
<circle cx="536.51" cy="174.14" r="2.25" fill="#b3b3b3" stroke="#2a2a2a" stroke-width="0.55"/>
<circle cx="527.74" cy="158.08" r="2.25" fill="#b3b3b3" stroke="#2a2a2a" stroke-width="0.55"/>
<circle cx="529.31" cy="170.96" r="2.25" fill="#b3b3b3" stroke="#2a2a2a" stroke-width="0.55"/>
<circle cx="514.02" cy="173.75" r="2.25" fill="#b3b3b3" stroke="#2a2a2a" stroke-width="0.55"/>
<circle cx="534.85" cy="165.79" r="2.25" fill="#b3b3b3" stroke="#2a2a2a" stroke-width="0.55"/>
<circle cx="526.14" cy="155.1" r="2.25" fill="#b3b3b3" stroke="#2a2a2a" stroke-width="0.55"/>
<circle cx="530.35" cy="179.31" r="2.25" fill="#b3b3b3" stroke="#2a2a2a" stroke-width="0.55"/>
<circle cx="530.93" cy="168.53" r="2.25" fill="#b3b3b3" stroke="#2a2a2a" stroke-width="0.55"/>
<circle cx="524.32" cy="158.3" r="2.25" fill="#b3b3b3" stroke="#2a2a2a" stroke-width="0.55"/>
<circle cx="512.61" cy="171.53" r="2.25" fill="#b3b3b3" stroke="#2a2a2a" stroke-width="0.55"/>
<circle cx="520.78" cy="168.7" r="2.25" fill="#b3b3b3" stroke="#2a2a2a" stroke-width="0.55"/>
<circle cx="538.64" cy="171.05" r="2.25" fill="#b3b3b3" stroke="#2a2a2a" stroke-width="0.55"/>
<circle cx="533.32" cy="180" r="2.25" fill="#b3b3b3" stroke="#2a2a2a" stroke-width="0.55"/>
<circle cx="532.6" cy="171.67" r="2.25" fill="#b3b3b3" stroke="#2a2a2a" stroke-width="0.55"/>
<circle cx="535.19" cy="177.2" r="2.25" fill="#b3b3b3" stroke="#2a2a2a" stroke-width="0.55"/>
<circle cx="519.39" cy="160.59" r="2.25" fill="#b3b3b3" stroke="#2a2a2a" stroke-width="0.55"/>
<circle cx="511" cy="168.38" r="2.25" fill="#b3b3b3" stroke="#2a2a2a" stroke-width="0.55"/>
<circle cx="519.02" cy="177.23" r="2.25" fill="#b3b3b3" stroke="#2a2a2a" stroke-width="0.55"/>
<circle cx="518.07" cy="168.65" r="2.25" fill="#b3b3b3" stroke="#2a2a2a" stroke-width="0.55"/>
<circle cx="516.01" cy="177.2" r="2.25" fill="#b3b3b3" stroke="#2a2a2a" stroke-width="0.55"/>
<circle cx="522.41" cy="176.96" r="2.25" fill="#b3b3b3" stroke="#2a2a2a" stroke-width="0.55"/>
<circle cx="520.86" cy="179.69" r="2.25" fill="#b3b3b3" stroke="#2a2a2a" stroke-width="0.55"/>
<circle cx="529.44" cy="160.28" r="2.25" fill="#b3b3b3" stroke="#2a2a2a" stroke-width="0.55"/>
<circle cx="521.41" cy="163.71" r="2.25" fill="#b3b3b3" stroke="#2a2a2a" stroke-width="0.55"/>
<circle cx="517.9" cy="174.68" r="2.25" fill="#b3b3b3" stroke="#2a2a2a" stroke-width="0.55"/>
<circle cx="522.59" cy="166.49" r="2.25" fill="#b3b3b3" stroke="#2a2a2a" stroke-width="0.55"/>
<circle cx="521.28" cy="173.94" r="2.25" fill="#b3b3b3" stroke="#2a2a2a" stroke-width="0.55"/>
<circle cx="534.05" cy="173.78" r="2.25" fill="#b3b3b3" stroke="#2a2a2a" stroke-width="0.55"/>
<circle cx="512.37" cy="165.66" r="2.25" fill="#b3b3b3" stroke="#2a2a2a" stroke-width="0.55"/>
<circle cx="525.6" cy="151.4" r="2.25" fill="#b3b3b3" stroke="#2a2a2a" stroke-width="0.55"/>
<circle cx="526.2" cy="186.2" r="2.25" fill="#b3b3b3" stroke="#2a2a2a" stroke-width="0.55"/>
<g stroke="#000" stroke-width="1">
<line x1="509.6" x2="542" y1="170.6" y2="170.6"/>
<line x1="517.8" x2="533.8" y1="163.6" y2="163.6"/>
<line x1="517.8" x2="533.8" y1="178" y2="178"/>
<line x1="525.8" x2="525.8" y1="163.6" y2="178"/>
</g>
<g stroke="#000" stroke-width="1.1" fill="none">
<path d="M443.2 59 V189.2 H559.4"/>
<line x1="437.6" x2="443.2" y1="59.4" y2="59.4"/>
<line x1="437.6" x2="443.2" y1="102.8" y2="102.8"/>
<line x1="437.6" x2="443.2" y1="146.2" y2="146.2"/>
<line x1="437.6" x2="443.2" y1="189.2" y2="189.2"/>
<line x1="475.8" x2="475.8" y1="189.2" y2="195"/>
<line x1="525.6" x2="525.6" y1="189.2" y2="195"/>
</g>
<line x1="477" x2="525.6" y1="66.8" y2="66.8" stroke="#303030" stroke-width="1.2"/>
<text x="501.2" y="63.3" font-size="7.6" text-anchor="middle" font-weight="bold" font-family="Liberation Sans, Arial, sans-serif" fill="#222">****</text>
<text x="436.6" y="62.6" font-size="8.8" text-anchor="end" font-weight="bold" font-family="Liberation Sans, Arial, sans-serif" fill="#000">0.03</text>
<text x="436.6" y="106" font-size="8.8" text-anchor="end" font-weight="bold" font-family="Liberation Sans, Arial, sans-serif" fill="#000">0.02</text>
<text x="436.6" y="149.4" font-size="8.8" text-anchor="end" font-weight="bold" font-family="Liberation Sans, Arial, sans-serif" fill="#000">0.01</text>
<text x="436.6" y="192.8" font-size="8.8" text-anchor="end" font-weight="bold" font-family="Liberation Sans, Arial, sans-serif" fill="#000">0.00</text>
<text x="415.4" y="124.5" font-size="9.6" text-anchor="middle" font-weight="bold" font-family="Liberation Sans, Arial, sans-serif" fill="#000" transform="rotate(-90 415.4 124.5)">Amplitude</text>
<text x="475.8" y="205" font-size="8.8" text-anchor="middle" font-weight="bold" font-family="Liberation Sans, Arial, sans-serif" fill="#000">bLD</text>
<text x="525.6" y="205" font-size="8.8" text-anchor="middle" font-weight="bold" font-family="Liberation Sans, Arial, sans-serif" fill="#000">DD</text>
<circle cx="613.24" cy="59.55" r="1.7" fill="#000"/>
<circle cx="625.13" cy="89.28" r="1.7" fill="#000"/>
<circle cx="623.85" cy="86.02" r="1.7" fill="#000"/>
<circle cx="623.14" cy="83.21" r="1.7" fill="#000"/>
<circle cx="622.1" cy="79.82" r="1.7" fill="#000"/>
<circle cx="621.06" cy="76.68" r="1.7" fill="#000"/>
<circle cx="619.15" cy="69.95" r="1.7" fill="#000"/>
<circle cx="618.42" cy="66.9" r="1.7" fill="#000"/>
<circle cx="617.13" cy="63.52" r="1.7" fill="#000"/>
<circle cx="616.33" cy="60.33" r="1.7" fill="#000"/>
<circle cx="615.58" cy="57.02" r="1.7" fill="#000"/>
<circle cx="614.06" cy="54.39" r="1.7" fill="#000"/>
<circle cx="613.09" cy="50.76" r="1.7" fill="#000"/>
<circle cx="612.45" cy="47.92" r="1.7" fill="#000"/>
<circle cx="611.2" cy="44.57" r="1.7" fill="#000"/>
<circle cx="628.8" cy="89.8" r="1.7" fill="#000"/>
<circle cx="627.56" cy="86.85" r="1.7" fill="#000"/>
<circle cx="626.46" cy="83.39" r="1.7" fill="#000"/>
<circle cx="625.79" cy="80.38" r="1.7" fill="#000"/>
<circle cx="624.32" cy="77.6" r="1.7" fill="#000"/>
<circle cx="623.24" cy="74.17" r="1.7" fill="#000"/>
<circle cx="622.61" cy="70.57" r="1.7" fill="#000"/>
<circle cx="620.45" cy="64.68" r="1.7" fill="#000"/>
<circle cx="619.69" cy="61.35" r="1.7" fill="#000"/>
<circle cx="617.8" cy="54.51" r="1.7" fill="#000"/>
<circle cx="617.02" cy="51.87" r="1.7" fill="#000"/>
<circle cx="616.05" cy="48.21" r="1.7" fill="#000"/>
<circle cx="614.95" cy="44.91" r="1.7" fill="#000"/>
<circle cx="613.81" cy="42.38" r="1.7" fill="#000"/>
<circle cx="612.78" cy="39.1" r="1.7" fill="#000"/>
<circle cx="630.75" cy="87.89" r="1.7" fill="#000"/>
<circle cx="628.09" cy="78.13" r="1.7" fill="#000"/>
<circle cx="626.68" cy="74.94" r="1.7" fill="#000"/>
<circle cx="625.97" cy="71.71" r="1.7" fill="#000"/>
<circle cx="624.9" cy="68.61" r="1.7" fill="#000"/>
<circle cx="624.25" cy="64.86" r="1.7" fill="#000"/>
<circle cx="622.82" cy="61.85" r="1.7" fill="#000"/>
<circle cx="622.26" cy="58.87" r="1.7" fill="#000"/>
<circle cx="621.1" cy="55.64" r="1.7" fill="#000"/>
<circle cx="618.03" cy="46.26" r="1.7" fill="#000"/>
<circle cx="616.9" cy="43.04" r="1.7" fill="#000"/>
<circle cx="616.27" cy="39.35" r="1.7" fill="#000"/>
<circle cx="614.15" cy="32.89" r="1.7" fill="#000"/>
<circle cx="634.18" cy="88.01" r="1.7" fill="#000"/>
<circle cx="633.07" cy="85.37" r="1.7" fill="#000"/>
<circle cx="632.55" cy="82.19" r="1.7" fill="#000"/>
<circle cx="631.11" cy="78.8" r="1.7" fill="#000"/>
<circle cx="630.62" cy="75.31" r="1.7" fill="#000"/>
<circle cx="629.43" cy="72.02" r="1.7" fill="#000"/>
<circle cx="628.35" cy="69.24" r="1.7" fill="#000"/>
<circle cx="627.59" cy="65.62" r="1.7" fill="#000"/>
<circle cx="626.54" cy="62.41" r="1.7" fill="#000"/>
<circle cx="625.58" cy="59.24" r="1.7" fill="#000"/>
<circle cx="624.59" cy="56.08" r="1.7" fill="#000"/>
<circle cx="623.48" cy="53.33" r="1.7" fill="#000"/>
<circle cx="619.42" cy="40.01" r="1.7" fill="#000"/>
<circle cx="617.45" cy="33.53" r="1.7" fill="#000"/>
<circle cx="616.51" cy="30.53" r="1.7" fill="#000"/>
<circle cx="636.9" cy="86.1" r="1.7" fill="#000"/>
<circle cx="635.51" cy="82.82" r="1.7" fill="#000"/>
<circle cx="634.38" cy="79.62" r="1.7" fill="#000"/>
<circle cx="633.67" cy="76.04" r="1.7" fill="#000"/>
<circle cx="632.54" cy="73.27" r="1.7" fill="#000"/>
<circle cx="631.57" cy="69.99" r="1.7" fill="#000"/>
<circle cx="630.6" cy="66.89" r="1.7" fill="#000"/>
<circle cx="629.48" cy="63.34" r="1.7" fill="#000"/>
<circle cx="628.59" cy="60.3" r="1.7" fill="#000"/>
<circle cx="628.14" cy="56.97" r="1.7" fill="#000"/>
<circle cx="627.13" cy="53.46" r="1.7" fill="#000"/>
<circle cx="626.15" cy="50.71" r="1.7" fill="#000"/>
<circle cx="624.58" cy="47.6" r="1.7" fill="#000"/>
<circle cx="623.78" cy="44.09" r="1.7" fill="#000"/>
<circle cx="623.17" cy="41.1" r="1.7" fill="#000"/>
<circle cx="621.76" cy="37.92" r="1.7" fill="#000"/>
<circle cx="621.2" cy="34.66" r="1.7" fill="#000"/>
<circle cx="619.91" cy="31.49" r="1.7" fill="#000"/>
<circle cx="640.18" cy="86.31" r="1.7" fill="#000"/>
<circle cx="638.72" cy="83.15" r="1.7" fill="#000"/>
<circle cx="637.39" cy="76.82" r="1.7" fill="#000"/>
<circle cx="635.02" cy="70.69" r="1.7" fill="#000"/>
<circle cx="633.95" cy="67.66" r="1.7" fill="#000"/>
<circle cx="633.24" cy="63.97" r="1.7" fill="#000"/>
<circle cx="631.88" cy="61.1" r="1.7" fill="#000"/>
<circle cx="631.33" cy="57.84" r="1.7" fill="#000"/>
<circle cx="630.22" cy="54.43" r="1.7" fill="#000"/>
<circle cx="628.94" cy="51.39" r="1.7" fill="#000"/>
<circle cx="628.55" cy="48.07" r="1.7" fill="#000"/>
<circle cx="626.98" cy="44.9" r="1.7" fill="#000"/>
<circle cx="626.36" cy="41.97" r="1.7" fill="#000"/>
<circle cx="625.44" cy="38.75" r="1.7" fill="#000"/>
<circle cx="624.08" cy="35.53" r="1.7" fill="#000"/>
<circle cx="622.07" cy="29.17" r="1.7" fill="#000"/>
<circle cx="642.21" cy="83.76" r="1.7" fill="#000"/>
<circle cx="641.24" cy="80.88" r="1.7" fill="#000"/>
<circle cx="640.51" cy="77.48" r="1.7" fill="#000"/>
<circle cx="638.14" cy="71.11" r="1.7" fill="#000"/>
<circle cx="637.35" cy="68.23" r="1.7" fill="#000"/>
<circle cx="636.68" cy="64.56" r="1.7" fill="#000"/>
<circle cx="634.62" cy="58.27" r="1.7" fill="#000"/>
<circle cx="632.34" cy="51.81" r="1.7" fill="#000"/>
<circle cx="627.42" cy="35.78" r="1.7" fill="#000"/>
<circle cx="627.08" cy="32.68" r="1.7" fill="#000"/>
<circle cx="625.59" cy="29.56" r="1.7" fill="#000"/>
<circle cx="646" cy="85.1" r="1.7" fill="#000"/>
<circle cx="644.65" cy="81.31" r="1.7" fill="#000"/>
<circle cx="643.76" cy="78.59" r="1.7" fill="#000"/>
<circle cx="641.68" cy="72.21" r="1.7" fill="#000"/>
<circle cx="641.19" cy="69.05" r="1.7" fill="#000"/>
<circle cx="638.11" cy="59" r="1.7" fill="#000"/>
<circle cx="636.92" cy="56.08" r="1.7" fill="#000"/>
<circle cx="649.2" cy="85.73" r="1.7" fill="#000"/>
<circle cx="648.19" cy="82.5" r="1.7" fill="#000"/>
<circle cx="646.88" cy="79.22" r="1.7" fill="#000"/>
<circle cx="646.3" cy="75.94" r="1.7" fill="#000"/>
<circle cx="645.11" cy="72.92" r="1.7" fill="#000"/>
<circle cx="643.4" cy="66.34" r="1.7" fill="#000"/>
<circle cx="642.61" cy="63.43" r="1.7" fill="#000"/>
<circle cx="641.17" cy="59.6" r="1.7" fill="#000"/>
<circle cx="640.41" cy="56.86" r="1.7" fill="#000"/>
<circle cx="652.2" cy="86.23" r="1.7" fill="#000"/>
<circle cx="651.54" cy="82.75" r="1.7" fill="#000"/>
<circle cx="650.77" cy="79.89" r="1.7" fill="#000"/>
<circle cx="649.59" cy="76.85" r="1.7" fill="#000"/>
<circle cx="648.39" cy="73.34" r="1.7" fill="#000"/>
<circle cx="644.88" cy="60.62" r="1.7" fill="#000"/>
<circle cx="643.62" cy="57.35" r="1.7" fill="#000"/>
<circle cx="655.88" cy="86.66" r="1.7" fill="#000"/>
<circle cx="617.6" cy="87.6" r="1.7" fill="#000"/>
<circle cx="616.9" cy="90.9" r="1.7" fill="#000"/>
<circle cx="619.5" cy="93.6" r="1.7" fill="#000"/>
<circle cx="660.5" cy="89.9" r="1.7" fill="#000"/>
<circle cx="656.6" cy="88.2" r="1.7" fill="#000"/>
<g fill="none" stroke="#5c5c5c" stroke-width="0.4">
<circle cx="606.85" cy="135.61" r="1.55"/>
<circle cx="609.21" cy="131.48" r="1.55"/>
<circle cx="591.4" cy="164.87" r="1.55"/>
<circle cx="592.99" cy="161.6" r="1.55"/>
<circle cx="594.54" cy="158.93" r="1.55"/>
<circle cx="604.77" cy="143.75" r="1.55"/>
<circle cx="605.75" cy="141.83" r="1.55"/>
<circle cx="608" cy="138.89" r="1.55"/>
<circle cx="609.85" cy="136.02" r="1.55"/>
<circle cx="610.83" cy="133.36" r="1.55"/>
<circle cx="613" cy="130.83" r="1.55"/>
<circle cx="593.02" cy="167.37" r="1.55"/>
<circle cx="594.7" cy="164.98" r="1.55"/>
<circle cx="596.11" cy="162.33" r="1.55"/>
<circle cx="597.87" cy="159.43" r="1.55"/>
<circle cx="599.03" cy="156.45" r="1.55"/>
<circle cx="602.24" cy="151.81" r="1.55"/>
<circle cx="604.3" cy="148.77" r="1.55"/>
<circle cx="607.22" cy="144.47" r="1.55"/>
<circle cx="609.52" cy="141.45" r="1.55"/>
<circle cx="611" cy="139.43" r="1.55"/>
<circle cx="613.15" cy="136.69" r="1.55"/>
<circle cx="614.81" cy="133.78" r="1.55"/>
<circle cx="595.92" cy="167.75" r="1.55"/>
<circle cx="599.05" cy="162.84" r="1.55"/>
<circle cx="601" cy="159.92" r="1.55"/>
<circle cx="602.04" cy="157.24" r="1.55"/>
<circle cx="606.04" cy="152.61" r="1.55"/>
<circle cx="607.44" cy="150.03" r="1.55"/>
<circle cx="610.67" cy="143.84" r="1.55"/>
<circle cx="613.52" cy="139.39" r="1.55"/>
<circle cx="615.15" cy="136.3" r="1.55"/>
<circle cx="598.56" cy="167.3" r="1.55"/>
<circle cx="602.32" cy="162.8" r="1.55"/>
<circle cx="603.8" cy="159.76" r="1.55"/>
<circle cx="605.37" cy="157.58" r="1.55"/>
<circle cx="607.46" cy="154.53" r="1.55"/>
<circle cx="608.98" cy="152.23" r="1.55"/>
<circle cx="610.27" cy="149.63" r="1.55"/>
<circle cx="611.81" cy="147.49" r="1.55"/>
<circle cx="613.78" cy="144.22" r="1.55"/>
<circle cx="614.99" cy="141.88" r="1.55"/>
<circle cx="601.79" cy="167.23" r="1.55"/>
<circle cx="604.14" cy="164.94" r="1.55"/>
<circle cx="606.86" cy="160.49" r="1.55"/>
<circle cx="609.98" cy="154.61" r="1.55"/>
<circle cx="611.31" cy="152.68" r="1.55"/>
<circle cx="614" cy="149.37" r="1.55"/>
<circle cx="615.01" cy="147.37" r="1.55"/>
<circle cx="617.31" cy="144.45" r="1.55"/>
<circle cx="618.24" cy="142.52" r="1.55"/>
<circle cx="597.14" cy="181.2" r="1.55"/>
<circle cx="597.77" cy="178.6" r="1.55"/>
<circle cx="599.53" cy="175.9" r="1.55"/>
<circle cx="602" cy="173.23" r="1.55"/>
<circle cx="603.37" cy="170.24" r="1.55"/>
<circle cx="605.36" cy="168.34" r="1.55"/>
<circle cx="606.13" cy="165.04" r="1.55"/>
<circle cx="607.98" cy="162.8" r="1.55"/>
<circle cx="609.56" cy="159.74" r="1.55"/>
<circle cx="611.11" cy="157.79" r="1.55"/>
<circle cx="616.47" cy="149.72" r="1.55"/>
<circle cx="617.76" cy="147.57" r="1.55"/>
<circle cx="619.91" cy="145.5" r="1.55"/>
<circle cx="621.38" cy="142.87" r="1.55"/>
<circle cx="597.01" cy="186.1" r="1.55"/>
<circle cx="598.28" cy="183.86" r="1.55"/>
<circle cx="599.27" cy="181.13" r="1.55"/>
<circle cx="601.21" cy="178.91" r="1.55"/>
<circle cx="603.48" cy="176.18" r="1.55"/>
<circle cx="604.19" cy="173.59" r="1.55"/>
<circle cx="606.28" cy="171.24" r="1.55"/>
<circle cx="607.75" cy="168.7" r="1.55"/>
<circle cx="609.36" cy="165.84" r="1.55"/>
<circle cx="611.37" cy="162.81" r="1.55"/>
<circle cx="614.58" cy="157.82" r="1.55"/>
<circle cx="616.33" cy="155.17" r="1.55"/>
<circle cx="617.92" cy="152.86" r="1.55"/>
<circle cx="619.32" cy="150.21" r="1.55"/>
<circle cx="621.19" cy="148.05" r="1.55"/>
<circle cx="601.29" cy="183.97" r="1.55"/>
<circle cx="602.56" cy="181.21" r="1.55"/>
<circle cx="604.33" cy="178.78" r="1.55"/>
<circle cx="606.67" cy="175.94" r="1.55"/>
<circle cx="607.67" cy="173.67" r="1.55"/>
<circle cx="610.98" cy="167.85" r="1.55"/>
<circle cx="612.76" cy="165.74" r="1.55"/>
<circle cx="614.01" cy="163.61" r="1.55"/>
<circle cx="615.75" cy="161.03" r="1.55"/>
<circle cx="617.75" cy="158.64" r="1.55"/>
<circle cx="619.32" cy="155.88" r="1.55"/>
<circle cx="620.64" cy="153.29" r="1.55"/>
<circle cx="622.91" cy="150.11" r="1.55"/>
<circle cx="602.9" cy="186.01" r="1.55"/>
<circle cx="604.26" cy="183.48" r="1.55"/>
<circle cx="607.95" cy="178.41" r="1.55"/>
<circle cx="614.11" cy="168.46" r="1.55"/>
<circle cx="616.39" cy="166.46" r="1.55"/>
<circle cx="617.13" cy="163.52" r="1.55"/>
<circle cx="619.81" cy="160.64" r="1.55"/>
<circle cx="620.54" cy="157.73" r="1.55"/>
<circle cx="622.8" cy="155.18" r="1.55"/>
<circle cx="624.24" cy="153.61" r="1.55"/>
<circle cx="625.9" cy="150.63" r="1.55"/>
<circle cx="627.06" cy="147.99" r="1.55"/>
<circle cx="605.88" cy="186.89" r="1.55"/>
<circle cx="607.62" cy="184.16" r="1.55"/>
<circle cx="608.98" cy="181.46" r="1.55"/>
<circle cx="610.75" cy="179.4" r="1.55"/>
<circle cx="612.61" cy="176.71" r="1.55"/>
<circle cx="613.44" cy="173.41" r="1.55"/>
<circle cx="617.16" cy="168.12" r="1.55"/>
<circle cx="618.73" cy="165.87" r="1.55"/>
<circle cx="620.76" cy="163.84" r="1.55"/>
<circle cx="621.97" cy="161.35" r="1.55"/>
<circle cx="623.66" cy="158.89" r="1.55"/>
<circle cx="627.78" cy="153.66" r="1.55"/>
<circle cx="629.48" cy="150.64" r="1.55"/>
<circle cx="625.12" cy="161.09" r="1.55"/>
<circle cx="628.54" cy="155.7" r="1.55"/>
<circle cx="629.84" cy="153.26" r="1.55"/>
<circle cx="593.4" cy="185.2" r="1.55"/>
<circle cx="590.1" cy="186.9" r="1.55"/>
<circle cx="592.7" cy="188.9" r="1.55"/>
<circle cx="588.2" cy="190.6" r="1.55"/>
<circle cx="590.8" cy="194" r="1.55"/>
<circle cx="586.2" cy="192.3" r="1.55"/>
<circle cx="584.3" cy="195.3" r="1.55"/>
<circle cx="583" cy="197.9" r="1.55"/>
<circle cx="580.4" cy="200.5" r="1.55"/>
<circle cx="578.4" cy="202.6" r="1.55"/>
<circle cx="577.1" cy="205.8" r="1.55"/>
<circle cx="576.5" cy="209" r="1.55"/>
<circle cx="604.4" cy="189.6" r="1.55"/>
<circle cx="602" cy="191.6" r="1.55"/>
<circle cx="604.6" cy="192.2" r="1.55"/>
<circle cx="600.3" cy="193.6" r="1.55"/>
<circle cx="598.2" cy="196.3" r="1.55"/>
<circle cx="598" cy="193" r="1.55"/>
<circle cx="611.6" cy="119.2" r="1.55"/>
<circle cx="637.5" cy="151.9" r="1.55"/>
<circle cx="642.1" cy="152.6" r="1.55"/>
<circle cx="645.1" cy="156.2" r="1.55"/>
<circle cx="646.6" cy="152.6" r="1.55"/>
<circle cx="649.6" cy="152.3" r="1.55"/>
<circle cx="677.4" cy="108.4" r="1.55"/>
</g>
<circle cx="645.4" cy="119.4" r="31.2" fill="#fff" stroke="none"/>
<path d="M645.4 88.2 A31.2 31.2 0 0 0 645.4 150.6" fill="none" stroke="#000" stroke-width="1.7"/>
<path d="M645.4 88.2 A31.2 31.2 0 0 1 645.4 150.6" fill="none" stroke="#1208c8" stroke-width="1.7"/>
<circle cx="645.4" cy="119.4" r="5" fill="none" stroke="#444" stroke-width="0.35"/>
<line x1="645.4" y1="119.4" x2="637" y2="90" stroke="#333" stroke-width="0.35"/>
<line x1="645.4" y1="119.4" x2="625" y2="143" stroke="#333" stroke-width="0.35"/>
<text x="646.6" y="94.6" font-size="3.2" text-anchor="middle" font-family="Liberation Sans, Arial, sans-serif" fill="#111">0 h</text>
<text x="668" y="107.4" font-size="3.2" text-anchor="middle" font-family="Liberation Sans, Arial, sans-serif" fill="#111">4</text>
<text x="668" y="133.4" font-size="3.2" text-anchor="middle" font-family="Liberation Sans, Arial, sans-serif" fill="#111">8</text>
<text x="645.4" y="146.6" font-size="3.2" text-anchor="middle" font-family="Liberation Sans, Arial, sans-serif" fill="#111">12</text>
<text x="622.4" y="133.4" font-size="3.2" text-anchor="middle" font-family="Liberation Sans, Arial, sans-serif" fill="#111">16</text>
<text x="622.4" y="107.4" font-size="3.2" text-anchor="middle" font-family="Liberation Sans, Arial, sans-serif" fill="#111">20</text>
<rect x="46.4" y="252.4" width="18.3" height="116.3" fill="#e0e1e1"/>
<rect x="83" y="252.4" width="18.3" height="116.3" fill="#e0e1e1"/>
<rect x="119.6" y="252.4" width="110.8" height="116.3" fill="#e0e1e1"/>
<line x1="45" x2="230.4" y1="252.4" y2="252.4" stroke="#000" stroke-opacity="0.075" stroke-width="1"/>
<line x1="45" x2="230.4" y1="271.5" y2="271.5" stroke="#000" stroke-opacity="0.075" stroke-width="1"/>
<line x1="45" x2="230.4" y1="310.5" y2="310.5" stroke="#000" stroke-opacity="0.075" stroke-width="1"/>
<line x1="45" x2="230.4" y1="349.5" y2="349.5" stroke="#000" stroke-opacity="0.075" stroke-width="1"/>
<line x1="46.4" x2="46.4" y1="252.4" y2="368.7" stroke="#adadad" stroke-width="0.9"/>
<line x1="64.7" x2="64.7" y1="252.4" y2="368.7" stroke="#adadad" stroke-width="0.9"/>
<line x1="83" x2="83" y1="252.4" y2="368.7" stroke="#adadad" stroke-width="0.9"/>
<line x1="101.3" x2="101.3" y1="252.4" y2="368.7" stroke="#adadad" stroke-width="0.9"/>
<line x1="119.6" x2="119.6" y1="252.4" y2="368.7" stroke="#adadad" stroke-width="0.9"/>
<line x1="137.9" x2="137.9" y1="252.4" y2="368.7" stroke="#efefef" stroke-width="1"/>
<line x1="156.2" x2="156.2" y1="252.4" y2="368.7" stroke="#adadad" stroke-width="0.9"/>
<line x1="174.5" x2="174.5" y1="252.4" y2="368.7" stroke="#adadad" stroke-width="0.9"/>
<line x1="192.8" x2="192.8" y1="252.4" y2="368.7" stroke="#adadad" stroke-width="0.9"/>
<line x1="211.1" x2="211.1" y1="252.4" y2="368.7" stroke="#adadad" stroke-width="0.9"/>
<line x1="229.4" x2="229.4" y1="252.4" y2="368.7" stroke="#adadad" stroke-width="0.9"/>
<rect x="46.4" y="368.7" width="18.3" height="5.9" fill="#000"/>
<rect x="64.7" y="368.7" width="18.3" height="5.9" fill="#1400ff"/>
<rect x="83" y="368.7" width="18.3" height="5.9" fill="#000"/>
<rect x="101.3" y="368.7" width="18.3" height="5.9" fill="#1400ff"/>
<rect x="119.6" y="368.7" width="109.8" height="5.9" fill="#000"/>
<line x1="64.7" x2="64.7" y1="368.7" y2="374.6" stroke="#c8c8c8" stroke-width="0.55"/>
<line x1="83" x2="83" y1="368.7" y2="374.6" stroke="#c8c8c8" stroke-width="0.55"/>
<line x1="101.3" x2="101.3" y1="368.7" y2="374.6" stroke="#c8c8c8" stroke-width="0.55"/>
<line x1="119.6" x2="119.6" y1="368.7" y2="374.6" stroke="#c8c8c8" stroke-width="0.55"/>
<line x1="156.2" x2="156.2" y1="368.7" y2="374.6" stroke="#c8c8c8" stroke-width="0.55"/>
<line x1="174.5" x2="174.5" y1="368.7" y2="374.6" stroke="#c8c8c8" stroke-width="0.55"/>
<line x1="192.8" x2="192.8" y1="368.7" y2="374.6" stroke="#c8c8c8" stroke-width="0.55"/>
<line x1="211.1" x2="211.1" y1="368.7" y2="374.6" stroke="#c8c8c8" stroke-width="0.55"/>
<path d="M46.4 348C47 347.17 48.73 345.5 50 343C51.27 340.5 52.83 338.83 54 333C55.17 327.17 56 315 57 308C58 301 58.83 294.83 60 291C61.17 287.17 62.67 284.33 64 285C65.33 285.67 66.67 290.17 68 295C69.33 299.83 70.67 309 72 314C73.33 319 74.9 322.73 76 325C77.1 327.27 77.6 327.93 78.6 327.6C79.6 327.27 80.77 326.27 82 323C83.23 319.73 84.67 313.83 86 308C87.33 302.17 88.67 293.83 90 288C91.33 282.17 92.67 276.83 94 273C95.33 269.17 97 266.5 98 265C99 263.5 99.17 263.5 100 264C100.83 264.5 102 265.33 103 268C104 270.67 104.83 274.33 106 280C107.17 285.67 108.67 295 110 302C111.33 309 112.83 316.67 114 322C115.17 327.33 116 331.27 117 334C118 336.73 119 338.4 120 338.4C121 338.4 121.83 336.73 123 334C124.17 331.27 125.67 325.83 127 322C128.33 318.17 129.67 313.83 131 311C132.33 308.17 133.83 306.23 135 305C136.17 303.77 136.67 304.43 138 303.6C139.33 302.77 141.33 300.87 143 300C144.67 299.13 146.5 299.23 148 298.4C149.5 297.57 150.67 295.67 152 295C153.33 294.33 154.67 294.07 156 294.4C157.33 294.73 158.5 295.4 160 297C161.5 298.6 163.33 301.67 165 304C166.67 306.33 168.33 308.73 170 311C171.67 313.27 173.5 316.2 175 317.6C176.5 319 177.67 319.33 179 319.4C180.33 319.47 181.67 319.07 183 318C184.33 316.93 185.5 315.17 187 313C188.5 310.83 190.5 306.67 192 305C193.5 303.33 194.67 303 196 303C197.33 303 198.67 303.33 200 305C201.33 306.67 202.5 310 204 313C205.5 316 207.33 320.5 209 323C210.67 325.5 212.33 327.67 214 328C215.67 328.33 217.33 326.5 219 325C220.67 323.5 222.27 321 224 319C225.73 317 228.5 314 229.4 313" fill="none" stroke="#e0584a" stroke-width="1.4" stroke-linejoin="round" stroke-linecap="round"/>
<line x1="137.9" x2="137.9" y1="254.2" y2="369.2" stroke="#1e1e1e" stroke-width="1.7" stroke-dasharray="6.3 7.9"/>
<text x="41.8" y="274.1" font-size="7.3" text-anchor="end" font-family="Liberation Sans, Arial, sans-serif" fill="#4d4d4d">0.02</text>
<text x="41.8" y="313.1" font-size="7.3" text-anchor="end" font-family="Liberation Sans, Arial, sans-serif" fill="#4d4d4d">0.00</text>
<text x="41.8" y="352.1" font-size="7.3" text-anchor="end" font-family="Liberation Sans, Arial, sans-serif" fill="#4d4d4d">-0.02</text>
<text x="46.4" y="383.6" font-size="7.3" text-anchor="middle" font-family="Liberation Sans, Arial, sans-serif" fill="#4d4d4d">60</text>
<text x="64.7" y="383.6" font-size="7.3" text-anchor="middle" font-family="Liberation Sans, Arial, sans-serif" fill="#4d4d4d">72</text>
<text x="83" y="383.6" font-size="7.3" text-anchor="middle" font-family="Liberation Sans, Arial, sans-serif" fill="#4d4d4d">84</text>
<text x="101.3" y="383.6" font-size="7.3" text-anchor="middle" font-family="Liberation Sans, Arial, sans-serif" fill="#4d4d4d">96</text>
<text x="119.6" y="383.6" font-size="7.3" text-anchor="middle" font-family="Liberation Sans, Arial, sans-serif" fill="#4d4d4d">108</text>
<text x="137.9" y="383.6" font-size="7.3" text-anchor="middle" font-family="Liberation Sans, Arial, sans-serif" fill="#4d4d4d">120</text>
<text x="156.2" y="383.6" font-size="7.3" text-anchor="middle" font-family="Liberation Sans, Arial, sans-serif" fill="#4d4d4d">132</text>
<text x="174.5" y="383.6" font-size="7.3" text-anchor="middle" font-family="Liberation Sans, Arial, sans-serif" fill="#4d4d4d">144</text>
<text x="192.8" y="383.6" font-size="7.3" text-anchor="middle" font-family="Liberation Sans, Arial, sans-serif" fill="#4d4d4d">156</text>
<text x="211.1" y="383.6" font-size="7.3" text-anchor="middle" font-family="Liberation Sans, Arial, sans-serif" fill="#4d4d4d">168</text>
<text x="229.4" y="383.6" font-size="7.3" text-anchor="middle" font-family="Liberation Sans, Arial, sans-serif" fill="#4d4d4d">180</text>
<text x="137.9" y="393.3" font-size="8.7" text-anchor="middle" font-family="Liberation Sans, Arial, sans-serif" fill="#111">Time (h)</text>
<text x="21.4" y="313.4" font-size="8.7" text-anchor="middle" font-family="Liberation Sans, Arial, sans-serif" fill="#111" transform="rotate(-90 21.4 313.4)">Detrended luminescence</text>
<rect x="271" y="252.4" width="18.29" height="116.3" fill="#e0e1e1"/>
<rect x="307.58" y="252.4" width="18.29" height="116.3" fill="#e0e1e1"/>
<rect x="344.16" y="252.4" width="110.74" height="116.3" fill="#e0e1e1"/>
<line x1="269.6" x2="454.9" y1="252.4" y2="252.4" stroke="#000" stroke-opacity="0.075" stroke-width="1"/>
<line x1="269.6" x2="454.9" y1="271.5" y2="271.5" stroke="#000" stroke-opacity="0.075" stroke-width="1"/>
<line x1="269.6" x2="454.9" y1="310.5" y2="310.5" stroke="#000" stroke-opacity="0.075" stroke-width="1"/>
<line x1="269.6" x2="454.9" y1="349.5" y2="349.5" stroke="#000" stroke-opacity="0.075" stroke-width="1"/>
<line x1="271" x2="271" y1="252.4" y2="368.7" stroke="#adadad" stroke-width="0.9"/>
<line x1="289.29" x2="289.29" y1="252.4" y2="368.7" stroke="#adadad" stroke-width="0.9"/>
<line x1="307.58" x2="307.58" y1="252.4" y2="368.7" stroke="#adadad" stroke-width="0.9"/>
<line x1="325.87" x2="325.87" y1="252.4" y2="368.7" stroke="#adadad" stroke-width="0.9"/>
<line x1="344.16" x2="344.16" y1="252.4" y2="368.7" stroke="#adadad" stroke-width="0.9"/>
<line x1="362.45" x2="362.45" y1="252.4" y2="368.7" stroke="#efefef" stroke-width="1"/>
<line x1="380.74" x2="380.74" y1="252.4" y2="368.7" stroke="#adadad" stroke-width="0.9"/>
<line x1="399.03" x2="399.03" y1="252.4" y2="368.7" stroke="#adadad" stroke-width="0.9"/>
<line x1="417.32" x2="417.32" y1="252.4" y2="368.7" stroke="#adadad" stroke-width="0.9"/>
<line x1="435.61" x2="435.61" y1="252.4" y2="368.7" stroke="#adadad" stroke-width="0.9"/>
<line x1="453.9" x2="453.9" y1="252.4" y2="368.7" stroke="#adadad" stroke-width="0.9"/>
<rect x="271" y="368.7" width="18.29" height="5.9" fill="#000"/>
<rect x="289.29" y="368.7" width="18.29" height="5.9" fill="#1400ff"/>
<rect x="307.58" y="368.7" width="18.29" height="5.9" fill="#000"/>
<rect x="325.87" y="368.7" width="18.29" height="5.9" fill="#1400ff"/>
<rect x="344.16" y="368.7" width="109.74" height="5.9" fill="#000"/>
<line x1="289.29" x2="289.29" y1="368.7" y2="374.6" stroke="#c8c8c8" stroke-width="0.55"/>
<line x1="307.58" x2="307.58" y1="368.7" y2="374.6" stroke="#c8c8c8" stroke-width="0.55"/>
<line x1="325.87" x2="325.87" y1="368.7" y2="374.6" stroke="#c8c8c8" stroke-width="0.55"/>
<line x1="344.16" x2="344.16" y1="368.7" y2="374.6" stroke="#c8c8c8" stroke-width="0.55"/>
<line x1="380.74" x2="380.74" y1="368.7" y2="374.6" stroke="#c8c8c8" stroke-width="0.55"/>
<line x1="399.03" x2="399.03" y1="368.7" y2="374.6" stroke="#c8c8c8" stroke-width="0.55"/>
<line x1="417.32" x2="417.32" y1="368.7" y2="374.6" stroke="#c8c8c8" stroke-width="0.55"/>
<line x1="435.61" x2="435.61" y1="368.7" y2="374.6" stroke="#c8c8c8" stroke-width="0.55"/>
<path d="M271 331.6C271.67 330.33 273.67 327.43 275 324C276.33 320.57 278 315.67 279 311C280 306.33 280.33 300.67 281 296C281.67 291.33 282.33 285.93 283 283C283.67 280.07 284.33 279.4 285 278.4C285.67 277.4 286.33 276.73 287 277C287.67 277.27 288.17 277.5 289 280C289.83 282.5 291 287.33 292 292C293 296.67 294 302.33 295 308C296 313.67 297 320.33 298 326C299 331.67 300.17 338.6 301 342C301.83 345.4 302.4 345.4 303 346.4C303.6 347.4 303.93 348.4 304.6 348C305.27 347.6 306.1 347.33 307 344C307.9 340.67 309 334 310 328C311 322 312 314.67 313 308C314 301.33 315 294 316 288C317 282 318 276.17 319 272C320 267.83 321.17 264.73 322 263C322.83 261.27 323.33 261.5 324 261.6C324.67 261.7 325.17 261.53 326 263.6C326.83 265.67 328 269.27 329 274C330 278.73 331 285.67 332 292C333 298.33 334 305.67 335 312C336 318.33 337 324.83 338 330C339 335.17 340.07 340.07 341 343C341.93 345.93 342.6 347.77 343.6 347.6C344.6 347.43 345.93 344.93 347 342C348.07 339.07 348.83 334.67 350 330C351.17 325.33 352.67 318.5 354 314C355.33 309.5 356.57 305.6 358 303C359.43 300.4 360.93 299.5 362.6 298.4C364.27 297.3 366.27 296.6 368 296.4C369.73 296.2 371.33 297.13 373 297.2C374.67 297.27 376.43 296.93 378 296.8C379.57 296.67 380.9 296.03 382.4 296.4C383.9 296.77 385.57 298.4 387 299C388.43 299.6 389.67 299.23 391 300C392.33 300.77 393.67 302.6 395 303.6C396.33 304.6 397.67 304.6 399 306C400.33 307.4 401.67 310.6 403 312C404.33 313.4 405.83 313.83 407 314.4C408.17 314.97 408.83 315.8 410 315.4C411.17 315 412.67 313.23 414 312C415.33 310.77 416.67 308.93 418 308C419.33 307.07 420.67 306.8 422 306.4C423.33 306 424.83 305.33 426 305.6C427.17 305.87 427.83 306.6 429 308C430.17 309.4 431.67 312.07 433 314C434.33 315.93 435.67 318.4 437 319.6C438.33 320.8 439.77 320.87 441 321.2C442.23 321.53 443.23 321.87 444.4 321.6C445.57 321.33 446.9 320.37 448 319.6C449.1 318.83 450 317.93 451 317C452 316.07 453.5 314.5 454 314" fill="none" stroke="#e0584a" stroke-width="1.4" stroke-linejoin="round" stroke-linecap="round"/>
<line x1="362.45" x2="362.45" y1="254.2" y2="369.2" stroke="#1e1e1e" stroke-width="1.7" stroke-dasharray="6.3 7.9"/>
<text x="266.4" y="274.1" font-size="7.3" text-anchor="end" font-family="Liberation Sans, Arial, sans-serif" fill="#4d4d4d">0.02</text>
<text x="266.4" y="313.1" font-size="7.3" text-anchor="end" font-family="Liberation Sans, Arial, sans-serif" fill="#4d4d4d">0.00</text>
<text x="266.4" y="352.1" font-size="7.3" text-anchor="end" font-family="Liberation Sans, Arial, sans-serif" fill="#4d4d4d">-0.02</text>
<text x="271" y="383.6" font-size="7.3" text-anchor="middle" font-family="Liberation Sans, Arial, sans-serif" fill="#4d4d4d">60</text>
<text x="289.29" y="383.6" font-size="7.3" text-anchor="middle" font-family="Liberation Sans, Arial, sans-serif" fill="#4d4d4d">72</text>
<text x="307.58" y="383.6" font-size="7.3" text-anchor="middle" font-family="Liberation Sans, Arial, sans-serif" fill="#4d4d4d">84</text>
<text x="325.87" y="383.6" font-size="7.3" text-anchor="middle" font-family="Liberation Sans, Arial, sans-serif" fill="#4d4d4d">96</text>
<text x="344.16" y="383.6" font-size="7.3" text-anchor="middle" font-family="Liberation Sans, Arial, sans-serif" fill="#4d4d4d">108</text>
<text x="362.45" y="383.6" font-size="7.3" text-anchor="middle" font-family="Liberation Sans, Arial, sans-serif" fill="#4d4d4d">120</text>
<text x="380.74" y="383.6" font-size="7.3" text-anchor="middle" font-family="Liberation Sans, Arial, sans-serif" fill="#4d4d4d">132</text>
<text x="399.03" y="383.6" font-size="7.3" text-anchor="middle" font-family="Liberation Sans, Arial, sans-serif" fill="#4d4d4d">144</text>
<text x="417.32" y="383.6" font-size="7.3" text-anchor="middle" font-family="Liberation Sans, Arial, sans-serif" fill="#4d4d4d">156</text>
<text x="435.61" y="383.6" font-size="7.3" text-anchor="middle" font-family="Liberation Sans, Arial, sans-serif" fill="#4d4d4d">168</text>
<text x="453.9" y="383.6" font-size="7.3" text-anchor="middle" font-family="Liberation Sans, Arial, sans-serif" fill="#4d4d4d">180</text>
<text x="362.45" y="393.3" font-size="8.7" text-anchor="middle" font-family="Liberation Sans, Arial, sans-serif" fill="#111">Time (h)</text>
<text x="246" y="313.4" font-size="8.7" text-anchor="middle" font-family="Liberation Sans, Arial, sans-serif" fill="#111" transform="rotate(-90 246 313.4)">Detrended luminescence</text>
<rect x="495.8" y="252.4" width="18.26" height="116.3" fill="#e0e1e1"/>
<rect x="532.32" y="252.4" width="18.26" height="116.3" fill="#e0e1e1"/>
<rect x="568.84" y="252.4" width="110.56" height="116.3" fill="#e0e1e1"/>
<line x1="494.4" x2="679.4" y1="252.4" y2="252.4" stroke="#000" stroke-opacity="0.075" stroke-width="1"/>
<line x1="494.4" x2="679.4" y1="271.5" y2="271.5" stroke="#000" stroke-opacity="0.075" stroke-width="1"/>
<line x1="494.4" x2="679.4" y1="310.5" y2="310.5" stroke="#000" stroke-opacity="0.075" stroke-width="1"/>
<line x1="494.4" x2="679.4" y1="349.5" y2="349.5" stroke="#000" stroke-opacity="0.075" stroke-width="1"/>
<line x1="495.8" x2="495.8" y1="252.4" y2="368.7" stroke="#adadad" stroke-width="0.9"/>
<line x1="514.06" x2="514.06" y1="252.4" y2="368.7" stroke="#adadad" stroke-width="0.9"/>
<line x1="532.32" x2="532.32" y1="252.4" y2="368.7" stroke="#adadad" stroke-width="0.9"/>
<line x1="550.58" x2="550.58" y1="252.4" y2="368.7" stroke="#adadad" stroke-width="0.9"/>
<line x1="568.84" x2="568.84" y1="252.4" y2="368.7" stroke="#adadad" stroke-width="0.9"/>
<line x1="587.1" x2="587.1" y1="252.4" y2="368.7" stroke="#efefef" stroke-width="1"/>
<line x1="605.36" x2="605.36" y1="252.4" y2="368.7" stroke="#adadad" stroke-width="0.9"/>
<line x1="623.62" x2="623.62" y1="252.4" y2="368.7" stroke="#adadad" stroke-width="0.9"/>
<line x1="641.88" x2="641.88" y1="252.4" y2="368.7" stroke="#adadad" stroke-width="0.9"/>
<line x1="660.14" x2="660.14" y1="252.4" y2="368.7" stroke="#adadad" stroke-width="0.9"/>
<line x1="678.4" x2="678.4" y1="252.4" y2="368.7" stroke="#adadad" stroke-width="0.9"/>
<rect x="495.8" y="368.7" width="18.26" height="5.9" fill="#000"/>
<rect x="514.06" y="368.7" width="18.26" height="5.9" fill="#1400ff"/>
<rect x="532.32" y="368.7" width="18.26" height="5.9" fill="#000"/>
<rect x="550.58" y="368.7" width="18.26" height="5.9" fill="#1400ff"/>
<rect x="568.84" y="368.7" width="109.56" height="5.9" fill="#000"/>
<line x1="514.06" x2="514.06" y1="368.7" y2="374.6" stroke="#c8c8c8" stroke-width="0.55"/>
<line x1="532.32" x2="532.32" y1="368.7" y2="374.6" stroke="#c8c8c8" stroke-width="0.55"/>
<line x1="550.58" x2="550.58" y1="368.7" y2="374.6" stroke="#c8c8c8" stroke-width="0.55"/>
<line x1="568.84" x2="568.84" y1="368.7" y2="374.6" stroke="#c8c8c8" stroke-width="0.55"/>
<line x1="605.36" x2="605.36" y1="368.7" y2="374.6" stroke="#c8c8c8" stroke-width="0.55"/>
<line x1="623.62" x2="623.62" y1="368.7" y2="374.6" stroke="#c8c8c8" stroke-width="0.55"/>
<line x1="641.88" x2="641.88" y1="368.7" y2="374.6" stroke="#c8c8c8" stroke-width="0.55"/>
<line x1="660.14" x2="660.14" y1="368.7" y2="374.6" stroke="#c8c8c8" stroke-width="0.55"/>
<path d="M496 353.6C496.5 353 498 351.93 499 350C500 348.07 501.17 344.33 502 342C502.83 339.67 503.33 340 504 336C504.67 332 505.33 324.33 506 318C506.67 311.67 507.33 303.17 508 298C508.67 292.83 509.23 289.5 510 287C510.77 284.5 511.77 283.17 512.6 283C513.43 282.83 514.1 283.5 515 286C515.9 288.5 517 293.33 518 298C519 302.67 520 309.5 521 314C522 318.5 523 322.43 524 325C525 327.57 526 329.23 527 329.4C528 329.57 529 328.07 530 326C531 323.93 532 321 533 317C534 313 535 307.33 536 302C537 296.67 538 290.17 539 285C540 279.83 541 274.67 542 271C543 267.33 544 264.67 545 263C546 261.33 547 260.83 548 261C549 261.17 550 261.5 551 264C552 266.5 553 271 554 276C555 281 556 287.67 557 294C558 300.33 559 308.67 560 314C561 319.33 562 323.07 563 326C564 328.93 565.17 330.43 566 331.6C566.83 332.77 567.17 333.6 568 333C568.83 332.4 569.83 330.67 571 328C572.17 325.33 573.67 320.5 575 317C576.33 313.5 577.83 309.23 579 307C580.17 304.77 580.67 304.37 582 303.6C583.33 302.83 585.5 302.67 587 302.4C588.5 302.13 589.5 302.57 591 302C592.5 301.43 594.5 300.33 596 299C597.5 297.67 598.83 295.43 600 294C601.17 292.57 602.17 291.13 603 290.4C603.83 289.67 604.17 289.5 605 289.6C605.83 289.7 606.83 289.77 608 291C609.17 292.23 610.5 294.5 612 297C613.5 299.5 615.5 303 617 306C618.5 309 619.67 312.4 621 315C622.33 317.6 623.67 320.1 625 321.6C626.33 323.1 627.83 323.87 629 324C630.17 324.13 630.83 324.07 632 322.4C633.17 320.73 634.67 317.07 636 314C637.33 310.93 638.83 306.4 640 304C641.17 301.6 642 300.6 643 299.6C644 298.6 645 297.93 646 298C647 298.07 648 298.67 649 300C650 301.33 650.83 303 652 306C653.17 309 654.67 314.33 656 318C657.33 321.67 658.73 325.6 660 328C661.27 330.4 662.43 332.07 663.6 332.4C664.77 332.73 665.77 331.23 667 330C668.23 328.77 669.67 326.83 671 325C672.33 323.17 673.73 320.77 675 319C676.27 317.23 678 315.17 678.6 314.4" fill="none" stroke="#e0584a" stroke-width="1.4" stroke-linejoin="round" stroke-linecap="round"/>
<line x1="587.1" x2="587.1" y1="254.2" y2="369.2" stroke="#1e1e1e" stroke-width="1.7" stroke-dasharray="6.3 7.9"/>
<text x="491.2" y="274.1" font-size="7.3" text-anchor="end" font-family="Liberation Sans, Arial, sans-serif" fill="#4d4d4d">0.02</text>
<text x="491.2" y="313.1" font-size="7.3" text-anchor="end" font-family="Liberation Sans, Arial, sans-serif" fill="#4d4d4d">0.00</text>
<text x="491.2" y="352.1" font-size="7.3" text-anchor="end" font-family="Liberation Sans, Arial, sans-serif" fill="#4d4d4d">-0.02</text>
<text x="495.8" y="383.6" font-size="7.3" text-anchor="middle" font-family="Liberation Sans, Arial, sans-serif" fill="#4d4d4d">60</text>
<text x="514.06" y="383.6" font-size="7.3" text-anchor="middle" font-family="Liberation Sans, Arial, sans-serif" fill="#4d4d4d">72</text>
<text x="532.32" y="383.6" font-size="7.3" text-anchor="middle" font-family="Liberation Sans, Arial, sans-serif" fill="#4d4d4d">84</text>
<text x="550.58" y="383.6" font-size="7.3" text-anchor="middle" font-family="Liberation Sans, Arial, sans-serif" fill="#4d4d4d">96</text>
<text x="568.84" y="383.6" font-size="7.3" text-anchor="middle" font-family="Liberation Sans, Arial, sans-serif" fill="#4d4d4d">108</text>
<text x="587.1" y="383.6" font-size="7.3" text-anchor="middle" font-family="Liberation Sans, Arial, sans-serif" fill="#4d4d4d">120</text>
<text x="605.36" y="383.6" font-size="7.3" text-anchor="middle" font-family="Liberation Sans, Arial, sans-serif" fill="#4d4d4d">132</text>
<text x="623.62" y="383.6" font-size="7.3" text-anchor="middle" font-family="Liberation Sans, Arial, sans-serif" fill="#4d4d4d">144</text>
<text x="641.88" y="383.6" font-size="7.3" text-anchor="middle" font-family="Liberation Sans, Arial, sans-serif" fill="#4d4d4d">156</text>
<text x="660.14" y="383.6" font-size="7.3" text-anchor="middle" font-family="Liberation Sans, Arial, sans-serif" fill="#4d4d4d">168</text>
<text x="678.4" y="383.6" font-size="7.3" text-anchor="middle" font-family="Liberation Sans, Arial, sans-serif" fill="#4d4d4d">180</text>
<text x="587.1" y="393.3" font-size="8.7" text-anchor="middle" font-family="Liberation Sans, Arial, sans-serif" fill="#111">Time (h)</text>
<text x="470.8" y="313.4" font-size="8.7" text-anchor="middle" font-family="Liberation Sans, Arial, sans-serif" fill="#111" transform="rotate(-90 470.8 313.4)">Detrended luminescence</text>
<rect x="44.4" y="423.8" width="18.3" height="116.3" fill="#e0e1e1"/>
<rect x="81" y="423.8" width="18.3" height="116.3" fill="#e0e1e1"/>
<rect x="117.6" y="423.8" width="110.8" height="116.3" fill="#e0e1e1"/>
<line x1="43" x2="228.4" y1="423.8" y2="423.8" stroke="#000" stroke-opacity="0.075" stroke-width="1"/>
<line x1="43" x2="228.4" y1="442.9" y2="442.9" stroke="#000" stroke-opacity="0.075" stroke-width="1"/>
<line x1="43" x2="228.4" y1="481.9" y2="481.9" stroke="#000" stroke-opacity="0.075" stroke-width="1"/>
<line x1="43" x2="228.4" y1="520.9" y2="520.9" stroke="#000" stroke-opacity="0.075" stroke-width="1"/>
<line x1="44.4" x2="44.4" y1="423.8" y2="540.1" stroke="#adadad" stroke-width="0.9"/>
<line x1="62.7" x2="62.7" y1="423.8" y2="540.1" stroke="#adadad" stroke-width="0.9"/>
<line x1="81" x2="81" y1="423.8" y2="540.1" stroke="#adadad" stroke-width="0.9"/>
<line x1="99.3" x2="99.3" y1="423.8" y2="540.1" stroke="#adadad" stroke-width="0.9"/>
<line x1="117.6" x2="117.6" y1="423.8" y2="540.1" stroke="#adadad" stroke-width="0.9"/>
<line x1="135.9" x2="135.9" y1="423.8" y2="540.1" stroke="#efefef" stroke-width="1"/>
<line x1="154.2" x2="154.2" y1="423.8" y2="540.1" stroke="#adadad" stroke-width="0.9"/>
<line x1="172.5" x2="172.5" y1="423.8" y2="540.1" stroke="#adadad" stroke-width="0.9"/>
<line x1="190.8" x2="190.8" y1="423.8" y2="540.1" stroke="#adadad" stroke-width="0.9"/>
<line x1="209.1" x2="209.1" y1="423.8" y2="540.1" stroke="#adadad" stroke-width="0.9"/>
<line x1="227.4" x2="227.4" y1="423.8" y2="540.1" stroke="#adadad" stroke-width="0.9"/>
<rect x="44.4" y="540.1" width="18.3" height="5.9" fill="#000"/>
<rect x="62.7" y="540.1" width="18.3" height="5.9" fill="#1400ff"/>
<rect x="81" y="540.1" width="18.3" height="5.9" fill="#000"/>
<rect x="99.3" y="540.1" width="18.3" height="5.9" fill="#1400ff"/>
<rect x="117.6" y="540.1" width="109.8" height="5.9" fill="#000"/>
<line x1="62.7" x2="62.7" y1="540.1" y2="546" stroke="#c8c8c8" stroke-width="0.55"/>
<line x1="81" x2="81" y1="540.1" y2="546" stroke="#c8c8c8" stroke-width="0.55"/>
<line x1="99.3" x2="99.3" y1="540.1" y2="546" stroke="#c8c8c8" stroke-width="0.55"/>
<line x1="117.6" x2="117.6" y1="540.1" y2="546" stroke="#c8c8c8" stroke-width="0.55"/>
<line x1="154.2" x2="154.2" y1="540.1" y2="546" stroke="#c8c8c8" stroke-width="0.55"/>
<line x1="172.5" x2="172.5" y1="540.1" y2="546" stroke="#c8c8c8" stroke-width="0.55"/>
<line x1="190.8" x2="190.8" y1="540.1" y2="546" stroke="#c8c8c8" stroke-width="0.55"/>
<line x1="209.1" x2="209.1" y1="540.1" y2="546" stroke="#c8c8c8" stroke-width="0.55"/>
<path d="M44.4 488C44.83 487.17 46.07 485.5 47 483C47.93 480.5 49 476.5 50 473C51 469.5 52 465.17 53 462C54 458.83 55.17 455.57 56 454C56.83 452.43 57.33 452.6 58 452.6C58.67 452.6 59.17 451.93 60 454C60.83 456.07 62 459.83 63 465C64 470.17 65 478.17 66 485C67 491.83 68 500.17 69 506C70 511.83 71.17 516.9 72 520C72.83 523.1 73.4 523.6 74 524.6C74.6 525.6 74.93 526.27 75.6 526C76.27 525.73 77.1 525.83 78 523C78.9 520.17 80 515 81 509C82 503 83 494 84 487C85 480 86 472.33 87 467C88 461.67 89 457.93 90 455C91 452.07 92.07 450.57 93 449.4C93.93 448.23 94.77 447.9 95.6 448C96.43 448.1 97.1 447.83 98 450C98.9 452.17 100 456.17 101 461C102 465.83 103 473.33 104 479C105 484.67 106 490.67 107 495C108 499.33 109 502.5 110 505C111 507.5 112.17 509 113 510C113.83 511 114.17 511.67 115 511C115.83 510.33 117 508.5 118 506C119 503.5 120 499.5 121 496C122 492.5 122.83 488.67 124 485C125.17 481.33 126.67 476.83 128 474C129.33 471.17 130.67 469.33 132 468C133.33 466.67 134.5 466.33 136 466C137.5 465.67 139.5 465.67 141 466C142.5 466.33 143.5 467 145 468C146.5 469 148.33 470.5 150 472C151.67 473.5 153.33 475.5 155 477C156.67 478.5 158.5 479.67 160 481C161.5 482.33 162.83 484.1 164 485C165.17 485.9 166 486.5 167 486.4C168 486.3 168.83 485.63 170 484.4C171.17 483.17 172.5 480.9 174 479C175.5 477.1 177.5 474.57 179 473C180.5 471.43 181.67 470.03 183 469.6C184.33 469.17 185.67 469.67 187 470.4C188.33 471.13 189.5 472.23 191 474C192.5 475.77 194.33 478.67 196 481C197.67 483.33 199.33 486.17 201 488C202.67 489.83 204.33 490.9 206 492C207.67 493.1 209.5 494.43 211 494.6C212.5 494.77 213.5 493.93 215 493C216.5 492.07 218.5 490.23 220 489C221.5 487.77 222.77 486.53 224 485.6C225.23 484.67 226.83 483.77 227.4 483.4" fill="none" stroke="#e0584a" stroke-width="1.4" stroke-linejoin="round" stroke-linecap="round"/>
<line x1="135.9" x2="135.9" y1="425.6" y2="540.6" stroke="#1e1e1e" stroke-width="1.7" stroke-dasharray="6.3 7.9"/>
<text x="39.8" y="445.5" font-size="7.3" text-anchor="end" font-family="Liberation Sans, Arial, sans-serif" fill="#4d4d4d">0.02</text>
<text x="39.8" y="484.5" font-size="7.3" text-anchor="end" font-family="Liberation Sans, Arial, sans-serif" fill="#4d4d4d">0.00</text>
<text x="39.8" y="523.5" font-size="7.3" text-anchor="end" font-family="Liberation Sans, Arial, sans-serif" fill="#4d4d4d">-0.02</text>
<text x="44.4" y="555" font-size="7.3" text-anchor="middle" font-family="Liberation Sans, Arial, sans-serif" fill="#4d4d4d">60</text>
<text x="62.7" y="555" font-size="7.3" text-anchor="middle" font-family="Liberation Sans, Arial, sans-serif" fill="#4d4d4d">72</text>
<text x="81" y="555" font-size="7.3" text-anchor="middle" font-family="Liberation Sans, Arial, sans-serif" fill="#4d4d4d">84</text>
<text x="99.3" y="555" font-size="7.3" text-anchor="middle" font-family="Liberation Sans, Arial, sans-serif" fill="#4d4d4d">96</text>
<text x="117.6" y="555" font-size="7.3" text-anchor="middle" font-family="Liberation Sans, Arial, sans-serif" fill="#4d4d4d">108</text>
<text x="135.9" y="555" font-size="7.3" text-anchor="middle" font-family="Liberation Sans, Arial, sans-serif" fill="#4d4d4d">120</text>
<text x="154.2" y="555" font-size="7.3" text-anchor="middle" font-family="Liberation Sans, Arial, sans-serif" fill="#4d4d4d">132</text>
<text x="172.5" y="555" font-size="7.3" text-anchor="middle" font-family="Liberation Sans, Arial, sans-serif" fill="#4d4d4d">144</text>
<text x="190.8" y="555" font-size="7.3" text-anchor="middle" font-family="Liberation Sans, Arial, sans-serif" fill="#4d4d4d">156</text>
<text x="209.1" y="555" font-size="7.3" text-anchor="middle" font-family="Liberation Sans, Arial, sans-serif" fill="#4d4d4d">168</text>
<text x="227.4" y="555" font-size="7.3" text-anchor="middle" font-family="Liberation Sans, Arial, sans-serif" fill="#4d4d4d">180</text>
<text x="135.9" y="564.7" font-size="8.7" text-anchor="middle" font-family="Liberation Sans, Arial, sans-serif" fill="#111">Time (h)</text>
<text x="19.4" y="484.8" font-size="8.7" text-anchor="middle" font-family="Liberation Sans, Arial, sans-serif" fill="#111" transform="rotate(-90 19.4 484.8)">Detrended luminescence</text>
<rect x="271" y="423.8" width="18.29" height="116.3" fill="#e0e1e1"/>
<rect x="307.58" y="423.8" width="18.29" height="116.3" fill="#e0e1e1"/>
<rect x="344.16" y="423.8" width="110.74" height="116.3" fill="#e0e1e1"/>
<line x1="269.6" x2="454.9" y1="423.8" y2="423.8" stroke="#000" stroke-opacity="0.075" stroke-width="1"/>
<line x1="269.6" x2="454.9" y1="442.9" y2="442.9" stroke="#000" stroke-opacity="0.075" stroke-width="1"/>
<line x1="269.6" x2="454.9" y1="481.9" y2="481.9" stroke="#000" stroke-opacity="0.075" stroke-width="1"/>
<line x1="269.6" x2="454.9" y1="520.9" y2="520.9" stroke="#000" stroke-opacity="0.075" stroke-width="1"/>
<line x1="271" x2="271" y1="423.8" y2="540.1" stroke="#adadad" stroke-width="0.9"/>
<line x1="289.29" x2="289.29" y1="423.8" y2="540.1" stroke="#adadad" stroke-width="0.9"/>
<line x1="307.58" x2="307.58" y1="423.8" y2="540.1" stroke="#adadad" stroke-width="0.9"/>
<line x1="325.87" x2="325.87" y1="423.8" y2="540.1" stroke="#adadad" stroke-width="0.9"/>
<line x1="344.16" x2="344.16" y1="423.8" y2="540.1" stroke="#adadad" stroke-width="0.9"/>
<line x1="362.45" x2="362.45" y1="423.8" y2="540.1" stroke="#efefef" stroke-width="1"/>
<line x1="380.74" x2="380.74" y1="423.8" y2="540.1" stroke="#adadad" stroke-width="0.9"/>
<line x1="399.03" x2="399.03" y1="423.8" y2="540.1" stroke="#adadad" stroke-width="0.9"/>
<line x1="417.32" x2="417.32" y1="423.8" y2="540.1" stroke="#adadad" stroke-width="0.9"/>
<line x1="435.61" x2="435.61" y1="423.8" y2="540.1" stroke="#adadad" stroke-width="0.9"/>
<line x1="453.9" x2="453.9" y1="423.8" y2="540.1" stroke="#adadad" stroke-width="0.9"/>
<rect x="271" y="540.1" width="18.29" height="5.9" fill="#000"/>
<rect x="289.29" y="540.1" width="18.29" height="5.9" fill="#1400ff"/>
<rect x="307.58" y="540.1" width="18.29" height="5.9" fill="#000"/>
<rect x="325.87" y="540.1" width="18.29" height="5.9" fill="#1400ff"/>
<rect x="344.16" y="540.1" width="109.74" height="5.9" fill="#000"/>
<line x1="289.29" x2="289.29" y1="540.1" y2="546" stroke="#c8c8c8" stroke-width="0.55"/>
<line x1="307.58" x2="307.58" y1="540.1" y2="546" stroke="#c8c8c8" stroke-width="0.55"/>
<line x1="325.87" x2="325.87" y1="540.1" y2="546" stroke="#c8c8c8" stroke-width="0.55"/>
<line x1="344.16" x2="344.16" y1="540.1" y2="546" stroke="#c8c8c8" stroke-width="0.55"/>
<line x1="380.74" x2="380.74" y1="540.1" y2="546" stroke="#c8c8c8" stroke-width="0.55"/>
<line x1="399.03" x2="399.03" y1="540.1" y2="546" stroke="#c8c8c8" stroke-width="0.55"/>
<line x1="417.32" x2="417.32" y1="540.1" y2="546" stroke="#c8c8c8" stroke-width="0.55"/>
<line x1="435.61" x2="435.61" y1="540.1" y2="546" stroke="#c8c8c8" stroke-width="0.55"/>
<path d="M271 485.6C271.5 484.67 272.83 482.43 274 480C275.17 477.57 276.73 473.5 278 471C279.27 468.5 280.53 466.33 281.6 465C282.67 463.67 283.5 462.83 284.4 463C285.3 463.17 286.17 464.5 287 466C287.83 467.5 288.57 469 289.4 472C290.23 475 291.07 480 292 484C292.93 488 294 493.17 295 496C296 498.83 297 500.07 298 501C299 501.93 300 501.7 301 501.6C302 501.5 303.1 501.17 304 500.4C304.9 499.63 305.57 499.07 306.4 497C307.23 494.93 308.07 491.83 309 488C309.93 484.17 311 477.5 312 474C313 470.5 314 468.67 315 467C316 465.33 317.17 464.57 318 464C318.83 463.43 319.17 463.27 320 463.6C320.83 463.93 322 464.93 323 466C324 467.07 325 467.83 326 470C327 472.17 328 475.83 329 479C330 482.17 331 486.17 332 489C333 491.83 333.83 494.27 335 496C336.17 497.73 337.67 498.67 339 499.4C340.33 500.13 341.67 500.63 343 500.4C344.33 500.17 345.67 499.57 347 498C348.33 496.43 349.67 493.33 351 491C352.33 488.67 353.67 486.17 355 484C356.33 481.83 357.73 479.5 359 478C360.27 476.5 361.27 475.87 362.6 475C363.93 474.13 365.6 473.27 367 472.8C368.4 472.33 369.67 472.17 371 472.2C372.33 472.23 373.67 472.53 375 473C376.33 473.47 377.67 474.1 379 475C380.33 475.9 381.67 477.17 383 478.4C384.33 479.63 385.67 481.07 387 482.4C388.33 483.73 389.83 485.57 391 486.4C392.17 487.23 393 487.53 394 487.4C395 487.27 395.83 486.83 397 485.6C398.17 484.37 399.67 481.77 401 480C402.33 478.23 403.83 476.27 405 475C406.17 473.73 407.07 472.97 408 472.4C408.93 471.83 409.77 471.57 410.6 471.6C411.43 471.63 412.1 471.87 413 472.6C413.9 473.33 414.83 474.6 416 476C417.17 477.4 418.67 479.6 420 481C421.33 482.4 422.67 483.5 424 484.4C425.33 485.3 426.5 485.87 428 486.4C429.5 486.93 431.33 487.27 433 487.6C434.67 487.93 436.67 488.5 438 488.4C439.33 488.3 439.83 487.67 441 487C442.17 486.33 443.67 485.13 445 484.4C446.33 483.67 447.5 483.17 449 482.6C450.5 482.03 453.17 481.27 454 481" fill="none" stroke="#e0584a" stroke-width="1.4" stroke-linejoin="round" stroke-linecap="round"/>
<line x1="362.45" x2="362.45" y1="425.6" y2="540.6" stroke="#1e1e1e" stroke-width="1.7" stroke-dasharray="6.3 7.9"/>
<text x="266.4" y="445.5" font-size="7.3" text-anchor="end" font-family="Liberation Sans, Arial, sans-serif" fill="#4d4d4d">0.02</text>
<text x="266.4" y="484.5" font-size="7.3" text-anchor="end" font-family="Liberation Sans, Arial, sans-serif" fill="#4d4d4d">0.00</text>
<text x="266.4" y="523.5" font-size="7.3" text-anchor="end" font-family="Liberation Sans, Arial, sans-serif" fill="#4d4d4d">-0.02</text>
<text x="271" y="555" font-size="7.3" text-anchor="middle" font-family="Liberation Sans, Arial, sans-serif" fill="#4d4d4d">60</text>
<text x="289.29" y="555" font-size="7.3" text-anchor="middle" font-family="Liberation Sans, Arial, sans-serif" fill="#4d4d4d">72</text>
<text x="307.58" y="555" font-size="7.3" text-anchor="middle" font-family="Liberation Sans, Arial, sans-serif" fill="#4d4d4d">84</text>
<text x="325.87" y="555" font-size="7.3" text-anchor="middle" font-family="Liberation Sans, Arial, sans-serif" fill="#4d4d4d">96</text>
<text x="344.16" y="555" font-size="7.3" text-anchor="middle" font-family="Liberation Sans, Arial, sans-serif" fill="#4d4d4d">108</text>
<text x="362.45" y="555" font-size="7.3" text-anchor="middle" font-family="Liberation Sans, Arial, sans-serif" fill="#4d4d4d">120</text>
<text x="380.74" y="555" font-size="7.3" text-anchor="middle" font-family="Liberation Sans, Arial, sans-serif" fill="#4d4d4d">132</text>
<text x="399.03" y="555" font-size="7.3" text-anchor="middle" font-family="Liberation Sans, Arial, sans-serif" fill="#4d4d4d">144</text>
<text x="417.32" y="555" font-size="7.3" text-anchor="middle" font-family="Liberation Sans, Arial, sans-serif" fill="#4d4d4d">156</text>
<text x="435.61" y="555" font-size="7.3" text-anchor="middle" font-family="Liberation Sans, Arial, sans-serif" fill="#4d4d4d">168</text>
<text x="453.9" y="555" font-size="7.3" text-anchor="middle" font-family="Liberation Sans, Arial, sans-serif" fill="#4d4d4d">180</text>
<text x="362.45" y="564.7" font-size="8.7" text-anchor="middle" font-family="Liberation Sans, Arial, sans-serif" fill="#111">Time (h)</text>
<text x="246" y="484.8" font-size="8.7" text-anchor="middle" font-family="Liberation Sans, Arial, sans-serif" fill="#111" transform="rotate(-90 246 484.8)">Detrended luminescence</text>
<rect x="495.8" y="423.8" width="18.26" height="116.3" fill="#e0e1e1"/>
<rect x="532.32" y="423.8" width="18.26" height="116.3" fill="#e0e1e1"/>
<rect x="568.84" y="423.8" width="110.56" height="116.3" fill="#e0e1e1"/>
<line x1="494.4" x2="679.4" y1="423.8" y2="423.8" stroke="#000" stroke-opacity="0.075" stroke-width="1"/>
<line x1="494.4" x2="679.4" y1="442.9" y2="442.9" stroke="#000" stroke-opacity="0.075" stroke-width="1"/>
<line x1="494.4" x2="679.4" y1="481.9" y2="481.9" stroke="#000" stroke-opacity="0.075" stroke-width="1"/>
<line x1="494.4" x2="679.4" y1="520.9" y2="520.9" stroke="#000" stroke-opacity="0.075" stroke-width="1"/>
<line x1="495.8" x2="495.8" y1="423.8" y2="540.1" stroke="#adadad" stroke-width="0.9"/>
<line x1="514.06" x2="514.06" y1="423.8" y2="540.1" stroke="#adadad" stroke-width="0.9"/>
<line x1="532.32" x2="532.32" y1="423.8" y2="540.1" stroke="#adadad" stroke-width="0.9"/>
<line x1="550.58" x2="550.58" y1="423.8" y2="540.1" stroke="#adadad" stroke-width="0.9"/>
<line x1="568.84" x2="568.84" y1="423.8" y2="540.1" stroke="#adadad" stroke-width="0.9"/>
<line x1="587.1" x2="587.1" y1="423.8" y2="540.1" stroke="#efefef" stroke-width="1"/>
<line x1="605.36" x2="605.36" y1="423.8" y2="540.1" stroke="#adadad" stroke-width="0.9"/>
<line x1="623.62" x2="623.62" y1="423.8" y2="540.1" stroke="#adadad" stroke-width="0.9"/>
<line x1="641.88" x2="641.88" y1="423.8" y2="540.1" stroke="#adadad" stroke-width="0.9"/>
<line x1="660.14" x2="660.14" y1="423.8" y2="540.1" stroke="#adadad" stroke-width="0.9"/>
<line x1="678.4" x2="678.4" y1="423.8" y2="540.1" stroke="#adadad" stroke-width="0.9"/>
<rect x="495.8" y="540.1" width="18.26" height="5.9" fill="#000"/>
<rect x="514.06" y="540.1" width="18.26" height="5.9" fill="#1400ff"/>
<rect x="532.32" y="540.1" width="18.26" height="5.9" fill="#000"/>
<rect x="550.58" y="540.1" width="18.26" height="5.9" fill="#1400ff"/>
<rect x="568.84" y="540.1" width="109.56" height="5.9" fill="#000"/>
<line x1="514.06" x2="514.06" y1="540.1" y2="546" stroke="#c8c8c8" stroke-width="0.55"/>
<line x1="532.32" x2="532.32" y1="540.1" y2="546" stroke="#c8c8c8" stroke-width="0.55"/>
<line x1="550.58" x2="550.58" y1="540.1" y2="546" stroke="#c8c8c8" stroke-width="0.55"/>
<line x1="568.84" x2="568.84" y1="540.1" y2="546" stroke="#c8c8c8" stroke-width="0.55"/>
<line x1="605.36" x2="605.36" y1="540.1" y2="546" stroke="#c8c8c8" stroke-width="0.55"/>
<line x1="623.62" x2="623.62" y1="540.1" y2="546" stroke="#c8c8c8" stroke-width="0.55"/>
<line x1="641.88" x2="641.88" y1="540.1" y2="546" stroke="#c8c8c8" stroke-width="0.55"/>
<line x1="660.14" x2="660.14" y1="540.1" y2="546" stroke="#c8c8c8" stroke-width="0.55"/>
<path d="M495.8 479.6C496.17 478.5 497.13 475.6 498 473C498.87 470.4 500 466.33 501 464C502 461.67 503.07 460.33 504 459C504.93 457.67 505.83 456.57 506.6 456C507.37 455.43 507.87 454.93 508.6 455.6C509.33 456.27 510.1 457.27 511 460C511.9 462.73 513 467 514 472C515 477 516 484.33 517 490C518 495.67 519 501.33 520 506C521 510.67 522.1 515.33 523 518C523.9 520.67 524.73 521.17 525.4 522C526.07 522.83 526.33 523.5 527 523C527.67 522.5 528.57 521.5 529.4 519C530.23 516.5 531.07 512.83 532 508C532.93 503.17 534 496 535 490C536 484 537 477.5 538 472C539 466.5 540.1 460.33 541 457C541.9 453.67 542.73 453.07 543.4 452C544.07 450.93 544.33 450.43 545 450.6C545.67 450.77 546.57 451.27 547.4 453C548.23 454.73 549.07 457.17 550 461C550.93 464.83 552 470.5 553 476C554 481.5 555 488.67 556 494C557 499.33 558.17 504.83 559 508C559.83 511.17 560.23 511.83 561 513C561.77 514.17 562.77 515.17 563.6 515C564.43 514.83 565.1 513.83 566 512C566.9 510.17 568 507 569 504C570 501 571 497.5 572 494C573 490.5 574 486.17 575 483C576 479.83 577 477.17 578 475C579 472.83 580 471.07 581 470C582 468.93 582.83 468.87 584 468.6C585.17 468.33 586.67 468.4 588 468.4C589.33 468.4 590.67 468.67 592 468.6C593.33 468.53 594.67 467.77 596 468C597.33 468.23 598.5 469.07 600 470C601.5 470.93 603.5 472.33 605 473.6C606.5 474.87 607.67 476.13 609 477.6C610.33 479.07 611.67 480.83 613 482.4C614.33 483.97 615.67 486.4 617 487C618.33 487.6 619.67 486.83 621 486C622.33 485.17 623.67 483.67 625 482C626.33 480.33 627.67 477.83 629 476C630.33 474.17 631.67 472.2 633 471C634.33 469.8 635.83 469.03 637 468.8C638.17 468.57 639 468.9 640 469.6C641 470.3 641.83 471.27 643 473C644.17 474.73 645.5 477.5 647 480C648.5 482.5 650.33 485.9 652 488C653.67 490.1 655.5 491.53 657 492.6C658.5 493.67 659.67 494.43 661 494.4C662.33 494.37 663.67 493.4 665 492.4C666.33 491.4 667.67 489.73 669 488.4C670.33 487.07 671.4 485.7 673 484.4C674.6 483.1 677.67 481.23 678.6 480.6" fill="none" stroke="#e0584a" stroke-width="1.4" stroke-linejoin="round" stroke-linecap="round"/>
<line x1="587.1" x2="587.1" y1="425.6" y2="540.6" stroke="#1e1e1e" stroke-width="1.7" stroke-dasharray="6.3 7.9"/>
<text x="491.2" y="445.5" font-size="7.3" text-anchor="end" font-family="Liberation Sans, Arial, sans-serif" fill="#4d4d4d">0.02</text>
<text x="491.2" y="484.5" font-size="7.3" text-anchor="end" font-family="Liberation Sans, Arial, sans-serif" fill="#4d4d4d">0.00</text>
<text x="491.2" y="523.5" font-size="7.3" text-anchor="end" font-family="Liberation Sans, Arial, sans-serif" fill="#4d4d4d">-0.02</text>
<text x="495.8" y="555" font-size="7.3" text-anchor="middle" font-family="Liberation Sans, Arial, sans-serif" fill="#4d4d4d">60</text>
<text x="514.06" y="555" font-size="7.3" text-anchor="middle" font-family="Liberation Sans, Arial, sans-serif" fill="#4d4d4d">72</text>
<text x="532.32" y="555" font-size="7.3" text-anchor="middle" font-family="Liberation Sans, Arial, sans-serif" fill="#4d4d4d">84</text>
<text x="550.58" y="555" font-size="7.3" text-anchor="middle" font-family="Liberation Sans, Arial, sans-serif" fill="#4d4d4d">96</text>
<text x="568.84" y="555" font-size="7.3" text-anchor="middle" font-family="Liberation Sans, Arial, sans-serif" fill="#4d4d4d">108</text>
<text x="587.1" y="555" font-size="7.3" text-anchor="middle" font-family="Liberation Sans, Arial, sans-serif" fill="#4d4d4d">120</text>
<text x="605.36" y="555" font-size="7.3" text-anchor="middle" font-family="Liberation Sans, Arial, sans-serif" fill="#4d4d4d">132</text>
<text x="623.62" y="555" font-size="7.3" text-anchor="middle" font-family="Liberation Sans, Arial, sans-serif" fill="#4d4d4d">144</text>
<text x="641.88" y="555" font-size="7.3" text-anchor="middle" font-family="Liberation Sans, Arial, sans-serif" fill="#4d4d4d">156</text>
<text x="660.14" y="555" font-size="7.3" text-anchor="middle" font-family="Liberation Sans, Arial, sans-serif" fill="#4d4d4d">168</text>
<text x="678.4" y="555" font-size="7.3" text-anchor="middle" font-family="Liberation Sans, Arial, sans-serif" fill="#4d4d4d">180</text>
<text x="587.1" y="564.7" font-size="8.7" text-anchor="middle" font-family="Liberation Sans, Arial, sans-serif" fill="#111">Time (h)</text>
<text x="470.8" y="484.8" font-size="8.7" text-anchor="middle" font-family="Liberation Sans, Arial, sans-serif" fill="#111" transform="rotate(-90 470.8 484.8)">Detrended luminescence</text>
<rect x="46.4" y="588.6" width="18.3" height="116.3" fill="#e0e1e1"/>
<rect x="83" y="588.6" width="18.3" height="116.3" fill="#e0e1e1"/>
<rect x="119.6" y="588.6" width="110.8" height="116.3" fill="#e0e1e1"/>
<line x1="45" x2="230.4" y1="588.6" y2="588.6" stroke="#000" stroke-opacity="0.075" stroke-width="1"/>
<line x1="45" x2="230.4" y1="607.7" y2="607.7" stroke="#000" stroke-opacity="0.075" stroke-width="1"/>
<line x1="45" x2="230.4" y1="646.7" y2="646.7" stroke="#000" stroke-opacity="0.075" stroke-width="1"/>
<line x1="45" x2="230.4" y1="685.7" y2="685.7" stroke="#000" stroke-opacity="0.075" stroke-width="1"/>
<line x1="46.4" x2="46.4" y1="588.6" y2="704.9" stroke="#adadad" stroke-width="0.9"/>
<line x1="64.7" x2="64.7" y1="588.6" y2="704.9" stroke="#adadad" stroke-width="0.9"/>
<line x1="83" x2="83" y1="588.6" y2="704.9" stroke="#adadad" stroke-width="0.9"/>
<line x1="101.3" x2="101.3" y1="588.6" y2="704.9" stroke="#adadad" stroke-width="0.9"/>
<line x1="119.6" x2="119.6" y1="588.6" y2="704.9" stroke="#adadad" stroke-width="0.9"/>
<line x1="137.9" x2="137.9" y1="588.6" y2="704.9" stroke="#efefef" stroke-width="1"/>
<line x1="156.2" x2="156.2" y1="588.6" y2="704.9" stroke="#adadad" stroke-width="0.9"/>
<line x1="174.5" x2="174.5" y1="588.6" y2="704.9" stroke="#adadad" stroke-width="0.9"/>
<line x1="192.8" x2="192.8" y1="588.6" y2="704.9" stroke="#adadad" stroke-width="0.9"/>
<line x1="211.1" x2="211.1" y1="588.6" y2="704.9" stroke="#adadad" stroke-width="0.9"/>
<line x1="229.4" x2="229.4" y1="588.6" y2="704.9" stroke="#adadad" stroke-width="0.9"/>
<rect x="46.4" y="704.9" width="18.3" height="5.9" fill="#000"/>
<rect x="64.7" y="704.9" width="18.3" height="5.9" fill="#1400ff"/>
<rect x="83" y="704.9" width="18.3" height="5.9" fill="#000"/>
<rect x="101.3" y="704.9" width="18.3" height="5.9" fill="#1400ff"/>
<rect x="119.6" y="704.9" width="109.8" height="5.9" fill="#000"/>
<line x1="64.7" x2="64.7" y1="704.9" y2="710.8" stroke="#c8c8c8" stroke-width="0.55"/>
<line x1="83" x2="83" y1="704.9" y2="710.8" stroke="#c8c8c8" stroke-width="0.55"/>
<line x1="101.3" x2="101.3" y1="704.9" y2="710.8" stroke="#c8c8c8" stroke-width="0.55"/>
<line x1="119.6" x2="119.6" y1="704.9" y2="710.8" stroke="#c8c8c8" stroke-width="0.55"/>
<line x1="156.2" x2="156.2" y1="704.9" y2="710.8" stroke="#c8c8c8" stroke-width="0.55"/>
<line x1="174.5" x2="174.5" y1="704.9" y2="710.8" stroke="#c8c8c8" stroke-width="0.55"/>
<line x1="192.8" x2="192.8" y1="704.9" y2="710.8" stroke="#c8c8c8" stroke-width="0.55"/>
<line x1="211.1" x2="211.1" y1="704.9" y2="710.8" stroke="#c8c8c8" stroke-width="0.55"/>
<path d="M46.4 658.6C46.83 657.5 48.07 654.43 49 652C49.93 649.57 51 646.5 52 644C53 641.5 54.23 640 55 637C55.77 634 56.03 629 56.6 626C57.17 623 57.73 620.73 58.4 619C59.07 617.27 59.83 615.77 60.6 615.6C61.37 615.43 62.1 616.1 63 618C63.9 619.9 65 623.33 66 627C67 630.67 68 635.5 69 640C70 644.5 71 650 72 654C73 658 74 661.33 75 664C76 666.67 77.17 668.8 78 670C78.83 671.2 79.27 671.37 80 671.2C80.73 671.03 81.57 670.53 82.4 669C83.23 667.47 84.07 665.5 85 662C85.93 658.5 87 653 88 648C89 643 90 636.67 91 632C92 627.33 93.1 622.93 94 620C94.9 617.07 95.63 615.57 96.4 614.4C97.17 613.23 97.83 612.8 98.6 613C99.37 613.2 100.1 613.77 101 615.6C101.9 617.43 103 620.1 104 624C105 627.9 106 633.67 107 639C108 644.33 109 650.83 110 656C111 661.17 112 666.4 113 670C114 673.6 115.07 676.03 116 677.6C116.93 679.17 117.77 679.5 118.6 679.4C119.43 679.3 120.1 678.57 121 677C121.9 675.43 123 672.83 124 670C125 667.17 125.83 663.5 127 660C128.17 656.5 129.67 651.73 131 649C132.33 646.27 133.67 645.03 135 643.6C136.33 642.17 137.83 641.13 139 640.4C140.17 639.67 141 639.33 142 639.2C143 639.07 144 640.13 145 639.6C146 639.07 147 637 148 636C149 635 150 634.03 151 633.6C152 633.17 153 633 154 633.4C155 633.8 156 634.73 157 636C158 637.27 159 639.33 160 641C161 642.67 162 643.83 163 646C164 648.17 165.07 651.73 166 654C166.93 656.27 167.83 658.37 168.6 659.6C169.37 660.83 169.87 661.67 170.6 661.4C171.33 661.13 172.1 660.07 173 658C173.9 655.93 174.83 652.17 176 649C177.17 645.83 178.83 641.5 180 639C181.17 636.5 182.1 635.57 183 634C183.9 632.43 184.67 630.53 185.4 629.6C186.13 628.67 186.63 628.33 187.4 628.4C188.17 628.47 189.07 628.57 190 630C190.93 631.43 192 634.5 193 637C194 639.5 195 642.9 196 645C197 647.1 198 648.43 199 649.6C200 650.77 200.93 651.27 202 652C203.07 652.73 204.23 653.83 205.4 654C206.57 654.17 207.73 653.43 209 653C210.27 652.57 211.5 651.9 213 651.4C214.5 650.9 216.33 650.63 218 650C219.67 649.37 221.1 648.33 223 647.6C224.9 646.87 228.33 645.93 229.4 645.6" fill="none" stroke="#e0584a" stroke-width="1.4" stroke-linejoin="round" stroke-linecap="round"/>
<line x1="137.9" x2="137.9" y1="590.4" y2="705.4" stroke="#1e1e1e" stroke-width="1.7" stroke-dasharray="6.3 7.9"/>
<text x="41.8" y="610.3" font-size="7.3" text-anchor="end" font-family="Liberation Sans, Arial, sans-serif" fill="#4d4d4d">0.02</text>
<text x="41.8" y="649.3" font-size="7.3" text-anchor="end" font-family="Liberation Sans, Arial, sans-serif" fill="#4d4d4d">0.00</text>
<text x="41.8" y="688.3" font-size="7.3" text-anchor="end" font-family="Liberation Sans, Arial, sans-serif" fill="#4d4d4d">-0.02</text>
<text x="46.4" y="719.8" font-size="7.3" text-anchor="middle" font-family="Liberation Sans, Arial, sans-serif" fill="#4d4d4d">60</text>
<text x="64.7" y="719.8" font-size="7.3" text-anchor="middle" font-family="Liberation Sans, Arial, sans-serif" fill="#4d4d4d">72</text>
<text x="83" y="719.8" font-size="7.3" text-anchor="middle" font-family="Liberation Sans, Arial, sans-serif" fill="#4d4d4d">84</text>
<text x="101.3" y="719.8" font-size="7.3" text-anchor="middle" font-family="Liberation Sans, Arial, sans-serif" fill="#4d4d4d">96</text>
<text x="119.6" y="719.8" font-size="7.3" text-anchor="middle" font-family="Liberation Sans, Arial, sans-serif" fill="#4d4d4d">108</text>
<text x="137.9" y="719.8" font-size="7.3" text-anchor="middle" font-family="Liberation Sans, Arial, sans-serif" fill="#4d4d4d">120</text>
<text x="156.2" y="719.8" font-size="7.3" text-anchor="middle" font-family="Liberation Sans, Arial, sans-serif" fill="#4d4d4d">132</text>
<text x="174.5" y="719.8" font-size="7.3" text-anchor="middle" font-family="Liberation Sans, Arial, sans-serif" fill="#4d4d4d">144</text>
<text x="192.8" y="719.8" font-size="7.3" text-anchor="middle" font-family="Liberation Sans, Arial, sans-serif" fill="#4d4d4d">156</text>
<text x="211.1" y="719.8" font-size="7.3" text-anchor="middle" font-family="Liberation Sans, Arial, sans-serif" fill="#4d4d4d">168</text>
<text x="229.4" y="719.8" font-size="7.3" text-anchor="middle" font-family="Liberation Sans, Arial, sans-serif" fill="#4d4d4d">180</text>
<text x="137.9" y="729.5" font-size="8.7" text-anchor="middle" font-family="Liberation Sans, Arial, sans-serif" fill="#111">Time (h)</text>
<text x="21.4" y="649.6" font-size="8.7" text-anchor="middle" font-family="Liberation Sans, Arial, sans-serif" fill="#111" transform="rotate(-90 21.4 649.6)">Detrended luminescence</text>
<rect x="271" y="588.6" width="18.29" height="116.3" fill="#e0e1e1"/>
<rect x="307.58" y="588.6" width="18.29" height="116.3" fill="#e0e1e1"/>
<rect x="344.16" y="588.6" width="110.74" height="116.3" fill="#e0e1e1"/>
<line x1="269.6" x2="454.9" y1="588.6" y2="588.6" stroke="#000" stroke-opacity="0.075" stroke-width="1"/>
<line x1="269.6" x2="454.9" y1="607.7" y2="607.7" stroke="#000" stroke-opacity="0.075" stroke-width="1"/>
<line x1="269.6" x2="454.9" y1="646.7" y2="646.7" stroke="#000" stroke-opacity="0.075" stroke-width="1"/>
<line x1="269.6" x2="454.9" y1="685.7" y2="685.7" stroke="#000" stroke-opacity="0.075" stroke-width="1"/>
<line x1="271" x2="271" y1="588.6" y2="704.9" stroke="#adadad" stroke-width="0.9"/>
<line x1="289.29" x2="289.29" y1="588.6" y2="704.9" stroke="#adadad" stroke-width="0.9"/>
<line x1="307.58" x2="307.58" y1="588.6" y2="704.9" stroke="#adadad" stroke-width="0.9"/>
<line x1="325.87" x2="325.87" y1="588.6" y2="704.9" stroke="#adadad" stroke-width="0.9"/>
<line x1="344.16" x2="344.16" y1="588.6" y2="704.9" stroke="#adadad" stroke-width="0.9"/>
<line x1="362.45" x2="362.45" y1="588.6" y2="704.9" stroke="#efefef" stroke-width="1"/>
<line x1="380.74" x2="380.74" y1="588.6" y2="704.9" stroke="#adadad" stroke-width="0.9"/>
<line x1="399.03" x2="399.03" y1="588.6" y2="704.9" stroke="#adadad" stroke-width="0.9"/>
<line x1="417.32" x2="417.32" y1="588.6" y2="704.9" stroke="#adadad" stroke-width="0.9"/>
<line x1="435.61" x2="435.61" y1="588.6" y2="704.9" stroke="#adadad" stroke-width="0.9"/>
<line x1="453.9" x2="453.9" y1="588.6" y2="704.9" stroke="#adadad" stroke-width="0.9"/>
<rect x="271" y="704.9" width="18.29" height="5.9" fill="#000"/>
<rect x="289.29" y="704.9" width="18.29" height="5.9" fill="#1400ff"/>
<rect x="307.58" y="704.9" width="18.29" height="5.9" fill="#000"/>
<rect x="325.87" y="704.9" width="18.29" height="5.9" fill="#1400ff"/>
<rect x="344.16" y="704.9" width="109.74" height="5.9" fill="#000"/>
<line x1="289.29" x2="289.29" y1="704.9" y2="710.8" stroke="#c8c8c8" stroke-width="0.55"/>
<line x1="307.58" x2="307.58" y1="704.9" y2="710.8" stroke="#c8c8c8" stroke-width="0.55"/>
<line x1="325.87" x2="325.87" y1="704.9" y2="710.8" stroke="#c8c8c8" stroke-width="0.55"/>
<line x1="344.16" x2="344.16" y1="704.9" y2="710.8" stroke="#c8c8c8" stroke-width="0.55"/>
<line x1="380.74" x2="380.74" y1="704.9" y2="710.8" stroke="#c8c8c8" stroke-width="0.55"/>
<line x1="399.03" x2="399.03" y1="704.9" y2="710.8" stroke="#c8c8c8" stroke-width="0.55"/>
<line x1="417.32" x2="417.32" y1="704.9" y2="710.8" stroke="#c8c8c8" stroke-width="0.55"/>
<line x1="435.61" x2="435.61" y1="704.9" y2="710.8" stroke="#c8c8c8" stroke-width="0.55"/>
<path d="M271 655.4C271.5 654.83 273 653.57 274 652C275 650.43 276.07 648.33 277 646C277.93 643.67 278.83 640.67 279.6 638C280.37 635.33 280.93 632.17 281.6 630C282.27 627.83 282.93 626.07 283.6 625C284.27 623.93 284.8 623.43 285.6 623.6C286.4 623.77 287.5 624.77 288.4 626C289.3 627.23 290.07 628.5 291 631C291.93 633.5 293 637 294 641C295 645 296 650.83 297 655C298 659.17 299.1 663.33 300 666C300.9 668.67 301.67 669.93 302.4 671C303.13 672.07 303.63 672.73 304.4 672.4C305.17 672.07 306.07 671.23 307 669C307.93 666.77 309 663.17 310 659C311 654.83 312 649 313 644C314 639 315 633.33 316 629C317 624.67 318.1 620.5 319 618C319.9 615.5 320.7 614.73 321.4 614C322.1 613.27 322.5 613.27 323.2 613.6C323.9 613.93 324.73 614.27 325.6 616C326.47 617.73 327.5 620.83 328.4 624C329.3 627.17 330.07 630.67 331 635C331.93 639.33 333 645.33 334 650C335 654.67 336 659.5 337 663C338 666.5 338.9 669.07 340 671C341.1 672.93 342.53 674.37 343.6 674.6C344.67 674.83 345.43 673.83 346.4 672.4C347.37 670.97 348.4 668.4 349.4 666C350.4 663.6 351.3 660.5 352.4 658C353.5 655.5 354.73 653 356 651C357.27 649 358.67 647.23 360 646C361.33 644.77 362.83 644.1 364 643.6C365.17 643.1 366.17 643.17 367 643C367.83 642.83 368.17 643.27 369 642.6C369.83 641.93 371 640.17 372 639C373 637.83 374.07 636.27 375 635.6C375.93 634.93 376.6 634.77 377.6 635C378.6 635.23 379.93 636 381 637C382.07 638 383 639.77 384 641C385 642.23 386 642.4 387 644.4C388 646.4 389.1 650.73 390 653C390.9 655.27 391.57 656.77 392.4 658C393.23 659.23 394.17 660.33 395 660.4C395.83 660.47 396.57 659.97 397.4 658.4C398.23 656.83 399.07 654.07 400 651C400.93 647.93 402 643 403 640C404 637 405 634.77 406 633C407 631.23 408 630.23 409 629.4C410 628.57 411.1 628 412 628C412.9 628 413.57 628.07 414.4 629.4C415.23 630.73 416.07 633.23 417 636C417.93 638.77 419.1 643.33 420 646C420.9 648.67 421.47 650.57 422.4 652C423.33 653.43 424.5 654.03 425.6 654.6C426.7 655.17 427.87 655.23 429 655.4C430.13 655.57 431.23 655.83 432.4 655.6C433.57 655.37 434.73 654.67 436 654C437.27 653.33 438.67 652.43 440 651.6C441.33 650.77 442.67 649.87 444 649C445.33 648.13 446.83 647 448 646.4C449.17 645.8 450 645.63 451 645.4C452 645.17 453.5 645.07 454 645" fill="none" stroke="#e0584a" stroke-width="1.4" stroke-linejoin="round" stroke-linecap="round"/>
<line x1="362.45" x2="362.45" y1="590.4" y2="705.4" stroke="#1e1e1e" stroke-width="1.7" stroke-dasharray="6.3 7.9"/>
<text x="266.4" y="610.3" font-size="7.3" text-anchor="end" font-family="Liberation Sans, Arial, sans-serif" fill="#4d4d4d">0.02</text>
<text x="266.4" y="649.3" font-size="7.3" text-anchor="end" font-family="Liberation Sans, Arial, sans-serif" fill="#4d4d4d">0.00</text>
<text x="266.4" y="688.3" font-size="7.3" text-anchor="end" font-family="Liberation Sans, Arial, sans-serif" fill="#4d4d4d">-0.02</text>
<text x="271" y="719.8" font-size="7.3" text-anchor="middle" font-family="Liberation Sans, Arial, sans-serif" fill="#4d4d4d">60</text>
<text x="289.29" y="719.8" font-size="7.3" text-anchor="middle" font-family="Liberation Sans, Arial, sans-serif" fill="#4d4d4d">72</text>
<text x="307.58" y="719.8" font-size="7.3" text-anchor="middle" font-family="Liberation Sans, Arial, sans-serif" fill="#4d4d4d">84</text>
<text x="325.87" y="719.8" font-size="7.3" text-anchor="middle" font-family="Liberation Sans, Arial, sans-serif" fill="#4d4d4d">96</text>
<text x="344.16" y="719.8" font-size="7.3" text-anchor="middle" font-family="Liberation Sans, Arial, sans-serif" fill="#4d4d4d">108</text>
<text x="362.45" y="719.8" font-size="7.3" text-anchor="middle" font-family="Liberation Sans, Arial, sans-serif" fill="#4d4d4d">120</text>
<text x="380.74" y="719.8" font-size="7.3" text-anchor="middle" font-family="Liberation Sans, Arial, sans-serif" fill="#4d4d4d">132</text>
<text x="399.03" y="719.8" font-size="7.3" text-anchor="middle" font-family="Liberation Sans, Arial, sans-serif" fill="#4d4d4d">144</text>
<text x="417.32" y="719.8" font-size="7.3" text-anchor="middle" font-family="Liberation Sans, Arial, sans-serif" fill="#4d4d4d">156</text>
<text x="435.61" y="719.8" font-size="7.3" text-anchor="middle" font-family="Liberation Sans, Arial, sans-serif" fill="#4d4d4d">168</text>
<text x="453.9" y="719.8" font-size="7.3" text-anchor="middle" font-family="Liberation Sans, Arial, sans-serif" fill="#4d4d4d">180</text>
<text x="362.45" y="729.5" font-size="8.7" text-anchor="middle" font-family="Liberation Sans, Arial, sans-serif" fill="#111">Time (h)</text>
<text x="246" y="649.6" font-size="8.7" text-anchor="middle" font-family="Liberation Sans, Arial, sans-serif" fill="#111" transform="rotate(-90 246 649.6)">Detrended luminescence</text>
<rect x="495.8" y="588.6" width="18.26" height="116.3" fill="#e0e1e1"/>
<rect x="532.32" y="588.6" width="18.26" height="116.3" fill="#e0e1e1"/>
<rect x="568.84" y="588.6" width="110.56" height="116.3" fill="#e0e1e1"/>
<line x1="494.4" x2="679.4" y1="588.6" y2="588.6" stroke="#000" stroke-opacity="0.075" stroke-width="1"/>
<line x1="494.4" x2="679.4" y1="607.7" y2="607.7" stroke="#000" stroke-opacity="0.075" stroke-width="1"/>
<line x1="494.4" x2="679.4" y1="646.7" y2="646.7" stroke="#000" stroke-opacity="0.075" stroke-width="1"/>
<line x1="494.4" x2="679.4" y1="685.7" y2="685.7" stroke="#000" stroke-opacity="0.075" stroke-width="1"/>
<line x1="495.8" x2="495.8" y1="588.6" y2="704.9" stroke="#adadad" stroke-width="0.9"/>
<line x1="514.06" x2="514.06" y1="588.6" y2="704.9" stroke="#adadad" stroke-width="0.9"/>
<line x1="532.32" x2="532.32" y1="588.6" y2="704.9" stroke="#adadad" stroke-width="0.9"/>
<line x1="550.58" x2="550.58" y1="588.6" y2="704.9" stroke="#adadad" stroke-width="0.9"/>
<line x1="568.84" x2="568.84" y1="588.6" y2="704.9" stroke="#adadad" stroke-width="0.9"/>
<line x1="587.1" x2="587.1" y1="588.6" y2="704.9" stroke="#efefef" stroke-width="1"/>
<line x1="605.36" x2="605.36" y1="588.6" y2="704.9" stroke="#adadad" stroke-width="0.9"/>
<line x1="623.62" x2="623.62" y1="588.6" y2="704.9" stroke="#adadad" stroke-width="0.9"/>
<line x1="641.88" x2="641.88" y1="588.6" y2="704.9" stroke="#adadad" stroke-width="0.9"/>
<line x1="660.14" x2="660.14" y1="588.6" y2="704.9" stroke="#adadad" stroke-width="0.9"/>
<line x1="678.4" x2="678.4" y1="588.6" y2="704.9" stroke="#adadad" stroke-width="0.9"/>
<rect x="495.8" y="704.9" width="18.26" height="5.9" fill="#000"/>
<rect x="514.06" y="704.9" width="18.26" height="5.9" fill="#1400ff"/>
<rect x="532.32" y="704.9" width="18.26" height="5.9" fill="#000"/>
<rect x="550.58" y="704.9" width="18.26" height="5.9" fill="#1400ff"/>
<rect x="568.84" y="704.9" width="109.56" height="5.9" fill="#000"/>
<line x1="514.06" x2="514.06" y1="704.9" y2="710.8" stroke="#c8c8c8" stroke-width="0.55"/>
<line x1="532.32" x2="532.32" y1="704.9" y2="710.8" stroke="#c8c8c8" stroke-width="0.55"/>
<line x1="550.58" x2="550.58" y1="704.9" y2="710.8" stroke="#c8c8c8" stroke-width="0.55"/>
<line x1="568.84" x2="568.84" y1="704.9" y2="710.8" stroke="#c8c8c8" stroke-width="0.55"/>
<line x1="605.36" x2="605.36" y1="704.9" y2="710.8" stroke="#c8c8c8" stroke-width="0.55"/>
<line x1="623.62" x2="623.62" y1="704.9" y2="710.8" stroke="#c8c8c8" stroke-width="0.55"/>
<line x1="641.88" x2="641.88" y1="704.9" y2="710.8" stroke="#c8c8c8" stroke-width="0.55"/>
<line x1="660.14" x2="660.14" y1="704.9" y2="710.8" stroke="#c8c8c8" stroke-width="0.55"/>
<path d="M495.8 658C496.27 657.5 497.67 656.33 498.6 655C499.53 653.67 500.57 651.83 501.4 650C502.23 648.17 502.9 646.67 503.6 644C504.3 641.33 504.93 636.83 505.6 634C506.27 631.17 506.87 628.67 507.6 627C508.33 625.33 509.17 624.33 510 624C510.83 623.67 511.77 624.17 512.6 625C513.43 625.83 514.1 626.83 515 629C515.9 631.17 517 634.17 518 638C519 641.83 520 647.67 521 652C522 656.33 523.07 661 524 664C524.93 667 525.77 668.6 526.6 670C527.43 671.4 528.2 672.4 529 672.4C529.8 672.4 530.57 671.73 531.4 670C532.23 668.27 533.07 665.83 534 662C534.93 658.17 536 652.17 537 647C538 641.83 539 635.5 540 631C541 626.5 542.07 622.6 543 620C543.93 617.4 544.77 616.33 545.6 615.4C546.43 614.47 547.17 614.23 548 614.4C548.83 614.57 549.77 614.97 550.6 616.4C551.43 617.83 552.17 620.07 553 623C553.83 625.93 554.67 629.67 555.6 634C556.53 638.33 557.6 644.33 558.6 649C559.6 653.67 560.6 658.5 561.6 662C562.6 665.5 563.6 668.17 564.6 670C565.6 671.83 566.53 673 567.6 673C568.67 673 569.93 671.67 571 670C572.07 668.33 572.83 665.83 574 663C575.17 660.17 576.67 655.9 578 653C579.33 650.1 580.67 647.5 582 645.6C583.33 643.7 584.83 642.47 586 641.6C587.17 640.73 587.83 640.57 589 640.4C590.17 640.23 591.83 641 593 640.6C594.17 640.2 595 639.1 596 638C597 636.9 598 635.07 599 634C600 632.93 601 631.83 602 631.6C603 631.37 604 631.87 605 632.6C606 633.33 607 634.6 608 636C609 637.4 610 638.83 611 641C612 643.17 613 646.33 614 649C615 651.67 616 654.83 617 657C618 659.17 619.1 661.67 620 662C620.9 662.33 621.57 660.83 622.4 659C623.23 657.17 624.07 653.83 625 651C625.93 648.17 627 644.67 628 642C629 639.33 630 637.07 631 635C632 632.93 633 630.93 634 629.6C635 628.27 636.07 627.1 637 627C637.93 626.9 638.77 627.5 639.6 629C640.43 630.5 641.1 633.17 642 636C642.9 638.83 644 643 645 646C646 649 647 651.83 648 654C649 656.17 650 657.9 651 659C652 660.1 653 660.5 654 660.6C655 660.7 656 660.37 657 659.6C658 658.83 659 656.93 660 656C661 655.07 662 654.83 663 654C664 653.17 664.83 652.27 666 651C667.17 649.73 668.83 647.37 670 646.4C671.17 645.43 671.57 645.33 673 645.2C674.43 645.07 677.67 645.53 678.6 645.6" fill="none" stroke="#e0584a" stroke-width="1.4" stroke-linejoin="round" stroke-linecap="round"/>
<line x1="587.1" x2="587.1" y1="590.4" y2="705.4" stroke="#1e1e1e" stroke-width="1.7" stroke-dasharray="6.3 7.9"/>
<text x="491.2" y="610.3" font-size="7.3" text-anchor="end" font-family="Liberation Sans, Arial, sans-serif" fill="#4d4d4d">0.02</text>
<text x="491.2" y="649.3" font-size="7.3" text-anchor="end" font-family="Liberation Sans, Arial, sans-serif" fill="#4d4d4d">0.00</text>
<text x="491.2" y="688.3" font-size="7.3" text-anchor="end" font-family="Liberation Sans, Arial, sans-serif" fill="#4d4d4d">-0.02</text>
<text x="495.8" y="719.8" font-size="7.3" text-anchor="middle" font-family="Liberation Sans, Arial, sans-serif" fill="#4d4d4d">60</text>
<text x="514.06" y="719.8" font-size="7.3" text-anchor="middle" font-family="Liberation Sans, Arial, sans-serif" fill="#4d4d4d">72</text>
<text x="532.32" y="719.8" font-size="7.3" text-anchor="middle" font-family="Liberation Sans, Arial, sans-serif" fill="#4d4d4d">84</text>
<text x="550.58" y="719.8" font-size="7.3" text-anchor="middle" font-family="Liberation Sans, Arial, sans-serif" fill="#4d4d4d">96</text>
<text x="568.84" y="719.8" font-size="7.3" text-anchor="middle" font-family="Liberation Sans, Arial, sans-serif" fill="#4d4d4d">108</text>
<text x="587.1" y="719.8" font-size="7.3" text-anchor="middle" font-family="Liberation Sans, Arial, sans-serif" fill="#4d4d4d">120</text>
<text x="605.36" y="719.8" font-size="7.3" text-anchor="middle" font-family="Liberation Sans, Arial, sans-serif" fill="#4d4d4d">132</text>
<text x="623.62" y="719.8" font-size="7.3" text-anchor="middle" font-family="Liberation Sans, Arial, sans-serif" fill="#4d4d4d">144</text>
<text x="641.88" y="719.8" font-size="7.3" text-anchor="middle" font-family="Liberation Sans, Arial, sans-serif" fill="#4d4d4d">156</text>
<text x="660.14" y="719.8" font-size="7.3" text-anchor="middle" font-family="Liberation Sans, Arial, sans-serif" fill="#4d4d4d">168</text>
<text x="678.4" y="719.8" font-size="7.3" text-anchor="middle" font-family="Liberation Sans, Arial, sans-serif" fill="#4d4d4d">180</text>
<text x="587.1" y="729.5" font-size="8.7" text-anchor="middle" font-family="Liberation Sans, Arial, sans-serif" fill="#111">Time (h)</text>
<text x="470.8" y="649.6" font-size="8.7" text-anchor="middle" font-family="Liberation Sans, Arial, sans-serif" fill="#111" transform="rotate(-90 470.8 649.6)">Detrended luminescence</text>
</svg>
</body></html>
